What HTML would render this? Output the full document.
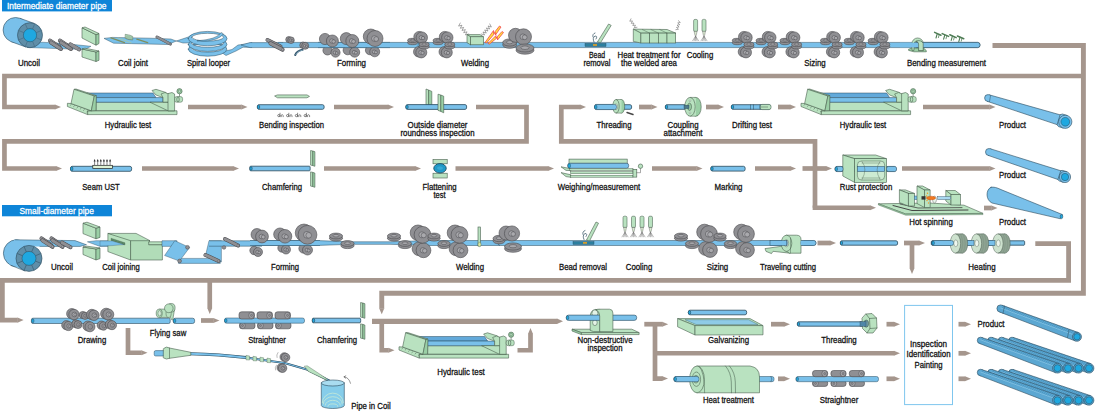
<!DOCTYPE html>
<html><head><meta charset="utf-8"><title>Pipe manufacturing process</title>
<style>
html,body{margin:0;padding:0;background:#fff;}
svg{display:block;font-family:"Liberation Sans",Arial,sans-serif;}
</style></head><body>
<svg width="1101" height="411" viewBox="0 0 1101 411">
<rect width="1101" height="411" fill="#fff"/>
<path d="M992.50,45.45 L1083.40,45.45 L1083.40,293.20 L381.75,293.20 L381.75,308.50" fill="none" stroke="#a5968d" stroke-width="4.9" stroke-linejoin="miter"/>
<polygon points="379.15,308.20 381.75,314.30 384.35,308.20" fill="#a5968d"/>
<path d="M1083.40,76.00 L4.45,76.00 L4.45,107.00 L55.20,107.00" fill="none" stroke="#a5968d" stroke-width="4.7" stroke-linejoin="miter"/>
<polygon points="54.90,104.50 61.00,107.00 54.90,109.50" fill="#a5968d"/>
<path d="M188.00,107.00 L241.70,107.00" fill="none" stroke="#a5968d" stroke-width="4.7" stroke-linejoin="miter"/>
<polygon points="241.40,104.50 247.50,107.00 241.40,109.50" fill="#a5968d"/>
<path d="M334.00,107.00 L388.20,107.00" fill="none" stroke="#a5968d" stroke-width="4.7" stroke-linejoin="miter"/>
<polygon points="387.90,104.50 394.00,107.00 387.90,109.50" fill="#a5968d"/>
<path d="M476.00,107.00 L526.50,107.00 L526.50,141.40 L4.45,141.40 L4.45,168.50 L56.20,168.50" fill="none" stroke="#a5968d" stroke-width="4.7" stroke-linejoin="miter"/>
<polygon points="55.90,166.00 62.00,168.50 55.90,171.00" fill="#a5968d"/>
<path d="M142.00,168.50 L233.20,168.50" fill="none" stroke="#a5968d" stroke-width="4.7" stroke-linejoin="miter"/>
<polygon points="232.90,166.00 239.00,168.50 232.90,171.00" fill="#a5968d"/>
<path d="M324.00,168.50 L415.20,168.50" fill="none" stroke="#a5968d" stroke-width="4.7" stroke-linejoin="miter"/>
<polygon points="414.90,166.00 421.00,168.50 414.90,171.00" fill="#a5968d"/>
<path d="M455.50,168.50 L548.20,168.50" fill="none" stroke="#a5968d" stroke-width="4.7" stroke-linejoin="miter"/>
<polygon points="547.90,166.00 554.00,168.50 547.90,171.00" fill="#a5968d"/>
<path d="M652.00,168.50 L696.70,168.50" fill="none" stroke="#a5968d" stroke-width="4.7" stroke-linejoin="miter"/>
<polygon points="696.40,166.00 702.50,168.50 696.40,171.00" fill="#a5968d"/>
<path d="M755.00,168.50 L790.20,168.50" fill="none" stroke="#a5968d" stroke-width="4.7" stroke-linejoin="miter"/>
<polygon points="789.90,166.00 796.00,168.50 789.90,171.00" fill="#a5968d"/>
<path d="M802.50,168.50 L826.20,168.50" fill="none" stroke="#a5968d" stroke-width="4.7" stroke-linejoin="miter"/>
<polygon points="825.90,166.00 832.00,168.50 825.90,171.00" fill="#a5968d"/>
<path d="M902.00,168.50 L989.70,168.50" fill="none" stroke="#a5968d" stroke-width="4.7" stroke-linejoin="miter"/>
<polygon points="989.40,166.00 995.50,168.50 989.40,171.00" fill="#a5968d"/>
<path d="M815.00,207.75 L815.00,141.40 L561.30,141.40 L561.30,107.00 L580.20,107.00" fill="none" stroke="#a5968d" stroke-width="4.7" stroke-linejoin="miter"/>
<polygon points="579.90,104.50 586.00,107.00 579.90,109.50" fill="#a5968d"/>
<path d="M815.00,205.50 L815.00,207.75 L870.20,207.75" fill="none" stroke="#a5968d" stroke-width="4.7" stroke-linejoin="miter"/>
<polygon points="869.90,205.25 876.00,207.75 869.90,210.25" fill="#a5968d"/>
<path d="M639.00,107.00 L651.70,107.00" fill="none" stroke="#a5968d" stroke-width="4.7" stroke-linejoin="miter"/>
<polygon points="651.40,104.50 657.50,107.00 651.40,109.50" fill="#a5968d"/>
<path d="M706.00,107.00 L718.20,107.00" fill="none" stroke="#a5968d" stroke-width="4.7" stroke-linejoin="miter"/>
<polygon points="717.90,104.50 724.00,107.00 717.90,109.50" fill="#a5968d"/>
<path d="M778.00,107.00 L790.20,107.00" fill="none" stroke="#a5968d" stroke-width="4.7" stroke-linejoin="miter"/>
<polygon points="789.90,104.50 796.00,107.00 789.90,109.50" fill="#a5968d"/>
<path d="M923.00,107.00 L989.70,107.00" fill="none" stroke="#a5968d" stroke-width="4.7" stroke-linejoin="miter"/>
<polygon points="989.40,104.50 995.50,107.00 989.40,109.50" fill="#a5968d"/>
<path d="M984.00,208.00 L991.70,208.00" fill="none" stroke="#a5968d" stroke-width="4.7" stroke-linejoin="miter"/>
<polygon points="991.40,205.50 997.50,208.00 991.40,210.50" fill="#a5968d"/>
<path d="M817.50,243.00 L830.20,243.00" fill="none" stroke="#a5968d" stroke-width="4.7" stroke-linejoin="miter"/>
<polygon points="829.90,240.50 836.00,243.00 829.90,245.50" fill="#a5968d"/>
<path d="M904.00,243.00 L919.20,243.00" fill="none" stroke="#a5968d" stroke-width="4.7" stroke-linejoin="miter"/>
<polygon points="918.90,240.50 925.00,243.00 918.90,245.50" fill="#a5968d"/>
<path d="M912.00,243.00 L912.00,268.20" fill="none" stroke="#a5968d" stroke-width="4.7" stroke-linejoin="miter"/>
<polygon points="909.50,267.90 912.00,274.00 914.50,267.90" fill="#a5968d"/>
<path d="M1035.30,243.60 L1068.60,243.60 L1068.60,280.40 L2.35,280.40 L2.35,320.10 L17.80,320.10" fill="none" stroke="#a5968d" stroke-width="4.8" stroke-linejoin="miter"/>
<polygon points="17.50,317.55 23.60,320.10 17.50,322.65" fill="#a5968d"/>
<path d="M209.75,280.40 L209.75,308.20" fill="none" stroke="#a5968d" stroke-width="4.7" stroke-linejoin="miter"/>
<polygon points="207.25,307.90 209.75,314.00 212.25,307.90" fill="#a5968d"/>
<path d="M201.00,320.50 L213.70,320.50" fill="none" stroke="#a5968d" stroke-width="4.7" stroke-linejoin="miter"/>
<polygon points="213.40,318.00 219.50,320.50 213.40,323.00" fill="#a5968d"/>
<path d="M372.00,321.30 L557.20,321.30" fill="none" stroke="#a5968d" stroke-width="5.3" stroke-linejoin="miter"/>
<polygon points="556.90,318.50 563.00,321.30 556.90,324.10" fill="#a5968d"/>
<path d="M381.75,321.00 L381.75,350.25 L388.70,350.25" fill="none" stroke="#a5968d" stroke-width="4.7" stroke-linejoin="miter"/>
<polygon points="388.40,347.75 394.50,350.25 388.40,352.75" fill="#a5968d"/>
<path d="M517.50,350.25 L530.50,350.25 L530.50,333.80" fill="none" stroke="#a5968d" stroke-width="4.7" stroke-linejoin="miter"/>
<polygon points="528.00,334.10 530.50,328.00 533.00,334.10" fill="#a5968d"/>
<path d="M128.00,328.00 L128.00,352.75 L141.70,352.75" fill="none" stroke="#a5968d" stroke-width="4.7" stroke-linejoin="miter"/>
<polygon points="141.40,350.25 147.50,352.75 141.40,355.25" fill="#a5968d"/>
<path d="M644.30,324.20 L662.40,324.20" fill="none" stroke="#a5968d" stroke-width="4.7" stroke-linejoin="miter"/>
<polygon points="662.10,321.70 668.20,324.20 662.10,326.70" fill="#a5968d"/>
<path d="M655.00,324.20 L655.00,378.60 L662.20,378.60" fill="none" stroke="#a5968d" stroke-width="4.7" stroke-linejoin="miter"/>
<polygon points="661.90,376.10 668.00,378.60 661.90,381.10" fill="#a5968d"/>
<path d="M655.00,353.25 L894.20,353.25" fill="none" stroke="#a5968d" stroke-width="4.7" stroke-linejoin="miter"/>
<polygon points="893.90,350.75 900.00,353.25 893.90,355.75" fill="#a5968d"/>
<path d="M771.00,324.20 L784.20,324.20" fill="none" stroke="#a5968d" stroke-width="4.7" stroke-linejoin="miter"/>
<polygon points="783.90,321.70 790.00,324.20 783.90,326.70" fill="#a5968d"/>
<path d="M778.00,378.80 L784.20,378.80" fill="none" stroke="#a5968d" stroke-width="4.7" stroke-linejoin="miter"/>
<polygon points="783.90,376.30 790.00,378.80 783.90,381.30" fill="#a5968d"/>
<path d="M886.50,324.20 L894.20,324.20" fill="none" stroke="#a5968d" stroke-width="4.7" stroke-linejoin="miter"/>
<polygon points="893.90,321.70 900.00,324.20 893.90,326.70" fill="#a5968d"/>
<path d="M886.50,378.80 L894.20,378.80" fill="none" stroke="#a5968d" stroke-width="4.7" stroke-linejoin="miter"/>
<polygon points="893.90,376.30 900.00,378.80 893.90,381.30" fill="#a5968d"/>
<path d="M958.50,324.20 L965.20,324.20" fill="none" stroke="#a5968d" stroke-width="4.7" stroke-linejoin="miter"/>
<polygon points="964.90,321.70 971.00,324.20 964.90,326.70" fill="#a5968d"/>
<path d="M958.50,353.30 L965.20,353.30" fill="none" stroke="#a5968d" stroke-width="4.7" stroke-linejoin="miter"/>
<polygon points="964.90,350.80 971.00,353.30 964.90,355.80" fill="#a5968d"/>
<path d="M958.50,378.80 L965.20,378.80" fill="none" stroke="#a5968d" stroke-width="4.7" stroke-linejoin="miter"/>
<polygon points="964.90,376.30 971.00,378.80 964.90,381.30" fill="#a5968d"/>
<rect x="2" y="0" width="110" height="11.4" fill="#0e85d8"/>
<text x="56.7" y="9.37" text-anchor="middle" font-size="8.4" fill="#fff" stroke="#fff" stroke-width="0.27" font-weight="normal" textLength="99.5" lengthAdjust="spacingAndGlyphs">Intermediate diameter pipe</text>
<rect x="2" y="205" width="110" height="11.3" fill="#0e85d8"/>
<text x="56.7" y="214.37" text-anchor="middle" font-size="8.4" fill="#fff" stroke="#fff" stroke-width="0.27" font-weight="normal" textLength="74.5" lengthAdjust="spacingAndGlyphs">Small-diameter pipe</text>
<rect x="904.6" y="305.4" width="47.9" height="99.2" fill="#fff" stroke="#7fc6ee" stroke-width="1"/>
<text x="928.5" y="347.17" text-anchor="middle" font-size="8.4" fill="#111" stroke="#111" stroke-width="0.27" font-weight="normal" textLength="37.0" lengthAdjust="spacingAndGlyphs">Inspection</text>
<text x="928.5" y="357.17" text-anchor="middle" font-size="8.4" fill="#111" stroke="#111" stroke-width="0.27" font-weight="normal" textLength="44.0" lengthAdjust="spacingAndGlyphs">Identification</text>
<text x="928.5" y="368.17" text-anchor="middle" font-size="8.4" fill="#111" stroke="#111" stroke-width="0.27" font-weight="normal" textLength="28.0" lengthAdjust="spacingAndGlyphs">Painting</text>
<text x="29" y="66.17" text-anchor="middle" font-size="8.4" fill="#111" stroke="#111" stroke-width="0.27" font-weight="normal" textLength="22.0" lengthAdjust="spacingAndGlyphs">Uncoil</text>
<text x="133" y="66.17" text-anchor="middle" font-size="8.4" fill="#111" stroke="#111" stroke-width="0.27" font-weight="normal" textLength="30.0" lengthAdjust="spacingAndGlyphs">Coil joint</text>
<text x="208.5" y="66.17" text-anchor="middle" font-size="8.4" fill="#111" stroke="#111" stroke-width="0.27" font-weight="normal" textLength="43.0" lengthAdjust="spacingAndGlyphs">Spiral looper</text>
<text x="351.5" y="66.17" text-anchor="middle" font-size="8.4" fill="#111" stroke="#111" stroke-width="0.27" font-weight="normal" textLength="29.0" lengthAdjust="spacingAndGlyphs">Forming</text>
<text x="475" y="66.17" text-anchor="middle" font-size="8.4" fill="#111" stroke="#111" stroke-width="0.27" font-weight="normal" textLength="28.0" lengthAdjust="spacingAndGlyphs">Welding</text>
<text x="597" y="57.67" text-anchor="middle" font-size="8.4" fill="#111" stroke="#111" stroke-width="0.27" font-weight="normal" textLength="16.0" lengthAdjust="spacingAndGlyphs">Bead</text>
<text x="597" y="66.17" text-anchor="middle" font-size="8.4" fill="#111" stroke="#111" stroke-width="0.27" font-weight="normal" textLength="27.0" lengthAdjust="spacingAndGlyphs">removal</text>
<text x="649" y="57.67" text-anchor="middle" font-size="8.4" fill="#111" stroke="#111" stroke-width="0.27" font-weight="normal" textLength="63.0" lengthAdjust="spacingAndGlyphs">Heat treatment for</text>
<text x="649" y="66.17" text-anchor="middle" font-size="8.4" fill="#111" stroke="#111" stroke-width="0.27" font-weight="normal" textLength="56.0" lengthAdjust="spacingAndGlyphs">the welded area</text>
<text x="700" y="57.67" text-anchor="middle" font-size="8.4" fill="#111" stroke="#111" stroke-width="0.27" font-weight="normal" textLength="26.5" lengthAdjust="spacingAndGlyphs">Cooling</text>
<text x="815" y="66.17" text-anchor="middle" font-size="8.4" fill="#111" stroke="#111" stroke-width="0.27" font-weight="normal" textLength="21.5" lengthAdjust="spacingAndGlyphs">Sizing</text>
<text x="946.5" y="66.17" text-anchor="middle" font-size="8.4" fill="#111" stroke="#111" stroke-width="0.27" font-weight="normal" textLength="79.0" lengthAdjust="spacingAndGlyphs">Bending measurement</text>
<text x="128" y="127.67" text-anchor="middle" font-size="8.4" fill="#111" stroke="#111" stroke-width="0.27" font-weight="normal" textLength="46.5" lengthAdjust="spacingAndGlyphs">Hydraulic test</text>
<text x="291.5" y="127.67" text-anchor="middle" font-size="8.4" fill="#111" stroke="#111" stroke-width="0.27" font-weight="normal" textLength="65.0" lengthAdjust="spacingAndGlyphs">Bending inspection</text>
<text x="437.5" y="127.67" text-anchor="middle" font-size="8.4" fill="#111" stroke="#111" stroke-width="0.27" font-weight="normal" textLength="60.0" lengthAdjust="spacingAndGlyphs">Outside diameter</text>
<text x="437.5" y="135.67" text-anchor="middle" font-size="8.4" fill="#111" stroke="#111" stroke-width="0.27" font-weight="normal" textLength="74.0" lengthAdjust="spacingAndGlyphs">roundness inspection</text>
<text x="614" y="127.67" text-anchor="middle" font-size="8.4" fill="#111" stroke="#111" stroke-width="0.27" font-weight="normal" textLength="35.0" lengthAdjust="spacingAndGlyphs">Threading</text>
<text x="683" y="127.67" text-anchor="middle" font-size="8.4" fill="#111" stroke="#111" stroke-width="0.27" font-weight="normal" textLength="31.0" lengthAdjust="spacingAndGlyphs">Coupling</text>
<text x="683" y="135.67" text-anchor="middle" font-size="8.4" fill="#111" stroke="#111" stroke-width="0.27" font-weight="normal" textLength="39.0" lengthAdjust="spacingAndGlyphs">attachment</text>
<text x="752" y="127.67" text-anchor="middle" font-size="8.4" fill="#111" stroke="#111" stroke-width="0.27" font-weight="normal" textLength="40.0" lengthAdjust="spacingAndGlyphs">Drifting test</text>
<text x="863" y="127.67" text-anchor="middle" font-size="8.4" fill="#111" stroke="#111" stroke-width="0.27" font-weight="normal" textLength="46.5" lengthAdjust="spacingAndGlyphs">Hydraulic test</text>
<text x="1012.5" y="127.67" text-anchor="middle" font-size="8.4" fill="#111" stroke="#111" stroke-width="0.27" font-weight="normal" textLength="27.0" lengthAdjust="spacingAndGlyphs">Product</text>
<text x="101" y="190.17" text-anchor="middle" font-size="8.4" fill="#111" stroke="#111" stroke-width="0.27" font-weight="normal" textLength="37.5" lengthAdjust="spacingAndGlyphs">Seam UST</text>
<text x="282" y="190.17" text-anchor="middle" font-size="8.4" fill="#111" stroke="#111" stroke-width="0.27" font-weight="normal" textLength="40.0" lengthAdjust="spacingAndGlyphs">Chamfering</text>
<text x="439.5" y="190.17" text-anchor="middle" font-size="8.4" fill="#111" stroke="#111" stroke-width="0.27" font-weight="normal" textLength="34.0" lengthAdjust="spacingAndGlyphs">Flattening</text>
<text x="439.5" y="197.67" text-anchor="middle" font-size="8.4" fill="#111" stroke="#111" stroke-width="0.27" font-weight="normal" textLength="12.0" lengthAdjust="spacingAndGlyphs">test</text>
<text x="599" y="190.17" text-anchor="middle" font-size="8.4" fill="#111" stroke="#111" stroke-width="0.27" font-weight="normal" textLength="82.5" lengthAdjust="spacingAndGlyphs">Weighing/measurement</text>
<text x="728.5" y="190.17" text-anchor="middle" font-size="8.4" fill="#111" stroke="#111" stroke-width="0.27" font-weight="normal" textLength="28.0" lengthAdjust="spacingAndGlyphs">Marking</text>
<text x="866" y="190.17" text-anchor="middle" font-size="8.4" fill="#111" stroke="#111" stroke-width="0.27" font-weight="normal" textLength="52.5" lengthAdjust="spacingAndGlyphs">Rust protection</text>
<text x="1012.5" y="178.17" text-anchor="middle" font-size="8.4" fill="#111" stroke="#111" stroke-width="0.27" font-weight="normal" textLength="27.0" lengthAdjust="spacingAndGlyphs">Product</text>
<text x="931" y="225.17" text-anchor="middle" font-size="8.4" fill="#111" stroke="#111" stroke-width="0.27" font-weight="normal" textLength="43.5" lengthAdjust="spacingAndGlyphs">Hot spinning</text>
<text x="1012.5" y="225.17" text-anchor="middle" font-size="8.4" fill="#111" stroke="#111" stroke-width="0.27" font-weight="normal" textLength="27.0" lengthAdjust="spacingAndGlyphs">Product</text>
<text x="62" y="270.17" text-anchor="middle" font-size="8.4" fill="#111" stroke="#111" stroke-width="0.27" font-weight="normal" textLength="22.0" lengthAdjust="spacingAndGlyphs">Uncoil</text>
<text x="121" y="270.17" text-anchor="middle" font-size="8.4" fill="#111" stroke="#111" stroke-width="0.27" font-weight="normal" textLength="37.5" lengthAdjust="spacingAndGlyphs">Coil joining</text>
<text x="285" y="270.17" text-anchor="middle" font-size="8.4" fill="#111" stroke="#111" stroke-width="0.27" font-weight="normal" textLength="28.0" lengthAdjust="spacingAndGlyphs">Forming</text>
<text x="470" y="270.17" text-anchor="middle" font-size="8.4" fill="#111" stroke="#111" stroke-width="0.27" font-weight="normal" textLength="28.0" lengthAdjust="spacingAndGlyphs">Welding</text>
<text x="583" y="270.17" text-anchor="middle" font-size="8.4" fill="#111" stroke="#111" stroke-width="0.27" font-weight="normal" textLength="48.0" lengthAdjust="spacingAndGlyphs">Bead removal</text>
<text x="639" y="270.17" text-anchor="middle" font-size="8.4" fill="#111" stroke="#111" stroke-width="0.27" font-weight="normal" textLength="26.5" lengthAdjust="spacingAndGlyphs">Cooling</text>
<text x="717.5" y="270.17" text-anchor="middle" font-size="8.4" fill="#111" stroke="#111" stroke-width="0.27" font-weight="normal" textLength="21.5" lengthAdjust="spacingAndGlyphs">Sizing</text>
<text x="788" y="270.17" text-anchor="middle" font-size="8.4" fill="#111" stroke="#111" stroke-width="0.27" font-weight="normal" textLength="56.0" lengthAdjust="spacingAndGlyphs">Traveling cutting</text>
<text x="982" y="270.17" text-anchor="middle" font-size="8.4" fill="#111" stroke="#111" stroke-width="0.27" font-weight="normal" textLength="27.5" lengthAdjust="spacingAndGlyphs">Heating</text>
<text x="92" y="343.17" text-anchor="middle" font-size="8.4" fill="#111" stroke="#111" stroke-width="0.27" font-weight="normal" textLength="28.5" lengthAdjust="spacingAndGlyphs">Drawing</text>
<text x="168" y="336.17" text-anchor="middle" font-size="8.4" fill="#111" stroke="#111" stroke-width="0.27" font-weight="normal" textLength="36.5" lengthAdjust="spacingAndGlyphs">Flying saw</text>
<text x="267" y="343.17" text-anchor="middle" font-size="8.4" fill="#111" stroke="#111" stroke-width="0.27" font-weight="normal" textLength="37.5" lengthAdjust="spacingAndGlyphs">Straightner</text>
<text x="337" y="343.17" text-anchor="middle" font-size="8.4" fill="#111" stroke="#111" stroke-width="0.27" font-weight="normal" textLength="40.0" lengthAdjust="spacingAndGlyphs">Chamfering</text>
<text x="461" y="375.17" text-anchor="middle" font-size="8.4" fill="#111" stroke="#111" stroke-width="0.27" font-weight="normal" textLength="47.5" lengthAdjust="spacingAndGlyphs">Hydraulic test</text>
<text x="605" y="343.17" text-anchor="middle" font-size="8.4" fill="#111" stroke="#111" stroke-width="0.27" font-weight="normal" textLength="55.0" lengthAdjust="spacingAndGlyphs">Non-destructive</text>
<text x="605" y="350.67" text-anchor="middle" font-size="8.4" fill="#111" stroke="#111" stroke-width="0.27" font-weight="normal" textLength="35.0" lengthAdjust="spacingAndGlyphs">inspection</text>
<text x="728.5" y="343.17" text-anchor="middle" font-size="8.4" fill="#111" stroke="#111" stroke-width="0.27" font-weight="normal" textLength="41.0" lengthAdjust="spacingAndGlyphs">Galvanizing</text>
<text x="839" y="343.17" text-anchor="middle" font-size="8.4" fill="#111" stroke="#111" stroke-width="0.27" font-weight="normal" textLength="35.5" lengthAdjust="spacingAndGlyphs">Threading</text>
<text x="728.5" y="403.17" text-anchor="middle" font-size="8.4" fill="#111" stroke="#111" stroke-width="0.27" font-weight="normal" textLength="51.0" lengthAdjust="spacingAndGlyphs">Heat treatment</text>
<text x="839" y="403.17" text-anchor="middle" font-size="8.4" fill="#111" stroke="#111" stroke-width="0.27" font-weight="normal" textLength="38.5" lengthAdjust="spacingAndGlyphs">Straightner</text>
<text x="991" y="327.17" text-anchor="middle" font-size="8.4" fill="#111" stroke="#111" stroke-width="0.27" font-weight="normal" textLength="27.0" lengthAdjust="spacingAndGlyphs">Product</text>
<text x="371" y="408.67" text-anchor="middle" font-size="8.4" fill="#111" stroke="#111" stroke-width="0.27" font-weight="normal" textLength="39.5" lengthAdjust="spacingAndGlyphs">Pipe in Coil</text>
<polygon points="38.00,42.00 62.00,43.30 91.00,46.30 85.00,49.50 27.00,47.50" fill="#79c0ea" stroke="#2b4a5c" stroke-width="0.4" stroke-linejoin="round"/>
<ellipse cx="15.60" cy="30.00" rx="12.50" ry="12.50" fill="#79c0ea" stroke="#2b4a5c" stroke-width="0.6"/>
<polygon points="11.35,41.76 25.75,46.96 34.25,23.44 19.85,18.24" fill="#79c0ea"/>
<line x1="11.35" y1="41.76" x2="25.75" y2="46.96" stroke="#2b4a5c" stroke-width="0.6"/>
<line x1="19.85" y1="18.24" x2="34.25" y2="23.44" stroke="#2b4a5c" stroke-width="0.6"/>
<ellipse cx="30.00" cy="35.20" rx="12.50" ry="12.50" fill="#5f8ea8" stroke="#2b4a5c" stroke-width="0.6"/>
<line x1="36.35" y1="37.83" x2="41.55" y2="39.98" stroke="#3f6880" stroke-width="0.6"/>
<line x1="32.63" y1="41.55" x2="34.78" y2="46.75" stroke="#3f6880" stroke-width="0.6"/>
<line x1="27.37" y1="41.55" x2="25.22" y2="46.75" stroke="#3f6880" stroke-width="0.6"/>
<line x1="23.65" y1="37.83" x2="18.45" y2="39.98" stroke="#3f6880" stroke-width="0.6"/>
<line x1="23.65" y1="32.57" x2="18.45" y2="30.42" stroke="#3f6880" stroke-width="0.6"/>
<line x1="27.37" y1="28.85" x2="25.22" y2="23.65" stroke="#3f6880" stroke-width="0.6"/>
<line x1="32.63" y1="28.85" x2="34.78" y2="23.65" stroke="#3f6880" stroke-width="0.6"/>
<line x1="36.35" y1="32.57" x2="41.55" y2="30.42" stroke="#3f6880" stroke-width="0.6"/>
<ellipse cx="30.00" cy="35.20" rx="6.62" ry="6.62" fill="#1fa8e0" stroke="#2b4a5c" stroke-width="0.5"/>
<line x1="50" y1="40.6" x2="59.5" y2="47" stroke="#4a4a4e" stroke-width="4.0" stroke-linecap="round"/>
<line x1="50" y1="40.6" x2="59.5" y2="47" stroke="#8f8f93" stroke-width="3.0" stroke-linecap="round"/>
<ellipse cx="59.50" cy="47.00" rx="0.96" ry="1.26" fill="#a9a9ad" stroke="#4a4a4e" stroke-width="0.4"/>
<line x1="51" y1="42.6" x2="61" y2="49" stroke="#4a4a4e" stroke-width="4.0" stroke-linecap="round"/>
<line x1="51" y1="42.6" x2="61" y2="49" stroke="#8f8f93" stroke-width="3.0" stroke-linecap="round"/>
<ellipse cx="61.00" cy="49.00" rx="0.96" ry="1.26" fill="#a9a9ad" stroke="#4a4a4e" stroke-width="0.4"/>
<line x1="60" y1="40.6" x2="69.5" y2="47" stroke="#4a4a4e" stroke-width="4.0" stroke-linecap="round"/>
<line x1="60" y1="40.6" x2="69.5" y2="47" stroke="#8f8f93" stroke-width="3.0" stroke-linecap="round"/>
<ellipse cx="69.50" cy="47.00" rx="0.96" ry="1.26" fill="#a9a9ad" stroke="#4a4a4e" stroke-width="0.4"/>
<line x1="61" y1="42.6" x2="71" y2="49" stroke="#4a4a4e" stroke-width="4.0" stroke-linecap="round"/>
<line x1="61" y1="42.6" x2="71" y2="49" stroke="#8f8f93" stroke-width="3.0" stroke-linecap="round"/>
<ellipse cx="71.00" cy="49.00" rx="0.96" ry="1.26" fill="#a9a9ad" stroke="#4a4a4e" stroke-width="0.4"/>
<line x1="70.5" y1="44.4" x2="79" y2="49.4" stroke="#4a4a4e" stroke-width="4.0" stroke-linecap="round"/>
<line x1="70.5" y1="44.4" x2="79" y2="49.4" stroke="#8f8f93" stroke-width="3.0" stroke-linecap="round"/>
<ellipse cx="79.00" cy="49.40" rx="0.96" ry="1.26" fill="#a9a9ad" stroke="#4a4a4e" stroke-width="0.4"/>
<polygon points="82.00,27.80 96.00,34.60 96.00,45.20 82.00,38.00" fill="#b9e2c0" stroke="#48604e" stroke-width="0.6" stroke-linejoin="round"/>
<polygon points="96.00,34.60 99.00,33.50 99.00,43.50 96.00,45.20" fill="#9acfa5" stroke="#48604e" stroke-width="0.6" stroke-linejoin="round"/>
<polygon points="82.00,27.80 85.00,27.00 99.00,33.50 96.00,34.60" fill="#b9e2c0" stroke="#48604e" stroke-width="0.6" stroke-linejoin="round"/>
<polygon points="82.00,49.00 96.00,52.00 96.00,61.50 82.00,57.00" fill="#b9e2c0" stroke="#48604e" stroke-width="0.6" stroke-linejoin="round"/>
<polygon points="96.00,52.00 99.00,51.00 99.00,60.30 96.00,61.50" fill="#9acfa5" stroke="#48604e" stroke-width="0.6" stroke-linejoin="round"/>
<polygon points="82.00,49.00 85.00,48.20 99.00,51.00 96.00,52.00" fill="#b9e2c0" stroke="#48604e" stroke-width="0.6" stroke-linejoin="round"/>
<polygon points="104.00,38.40 112.30,37.40 150.00,38.20 170.80,39.00 176.30,41.00 168.00,44.50 113.60,43.20" fill="#79c0ea" stroke="#2b4a5c" stroke-width="0.45" stroke-linejoin="round"/>
<polyline points="111.00,37.90 124.50,42.60" fill="none" stroke="#7f8f5f" stroke-width="1.3" stroke-linecap="round" stroke-linejoin="round"/>
<polyline points="136.80,39.20 147.70,42.60" fill="none" stroke="#7f8f5f" stroke-width="1.3" stroke-linecap="round" stroke-linejoin="round"/>
<polyline points="118.00,38.00 131.00,42.70" fill="none" stroke="#a9c9a0" stroke-width="0.8" stroke-linecap="round" stroke-linejoin="round"/>
<polygon points="125.20,34.30 130.00,35.20 132.70,36.40 132.70,40.00 128.00,39.40 125.20,38.20" fill="#b9e2c0" stroke="#48604e" stroke-width="0.45" stroke-linejoin="round"/>
<line x1="127" y1="35.4" x2="127" y2="39.199999999999996" stroke="#48604e" stroke-width="0.45"/>
<line x1="129" y1="35.8" x2="129" y2="39.599999999999994" stroke="#48604e" stroke-width="0.45"/>
<line x1="131" y1="36.2" x2="131" y2="40.0" stroke="#48604e" stroke-width="0.45"/>
<line x1="157" y1="37" x2="170.3" y2="44" stroke="#4a4a4e" stroke-width="3.0" stroke-linecap="round"/>
<line x1="157" y1="37" x2="170.3" y2="44" stroke="#8f8f93" stroke-width="2.0" stroke-linecap="round"/>
<ellipse cx="170.30" cy="44.00" rx="0.64" ry="0.84" fill="#a9a9ad" stroke="#4a4a4e" stroke-width="0.4"/>
<polygon points="176.30,41.00 189.00,36.80 192.00,38.00 191.00,42.80 183.00,43.00" fill="#79c0ea" stroke="#2b4a5c" stroke-width="0.45" stroke-linejoin="round"/>
<polygon points="221.00,52.00 232.00,49.50 238.00,45.00 246.00,44.00 252.00,42.60 252.00,47.40 243.00,47.20 236.00,51.00 226.00,55.50" fill="#79c0ea" stroke="#2b4a5c" stroke-width="0.45" stroke-linejoin="round"/>
<path d="M188.29999999999998,49.2 A19.3,7.0 0 1 1 226.9,49.2 A19.3,7.0 0 1 1 188.29999999999998,49.2Z M191.29999999999998,47.7 A16.3,4.4 0 1 0 223.9,47.7 A16.3,4.4 0 1 0 191.29999999999998,47.7Z" fill="#79c0ea" stroke="#2b4a5c" stroke-width="0.5" stroke-linecap="round" stroke-linejoin="round" fill-rule="evenodd"/>
<path d="M188.2,44.4 A19.4,7.0 0 1 1 227.0,44.4 A19.4,7.0 0 1 1 188.2,44.4Z M191.29999999999998,42.9 A16.3,4.4 0 1 0 223.9,42.9 A16.3,4.4 0 1 0 191.29999999999998,42.9Z" fill="#79c0ea" stroke="#2b4a5c" stroke-width="0.5" stroke-linecap="round" stroke-linejoin="round" fill-rule="evenodd"/>
<ellipse cx="207.30" cy="37.40" rx="16.00" ry="4.00" fill="#fff"/>
<path d="M188.1,38.6 A19.5,7.2 0 1 1 227.1,38.6 A19.5,7.2 0 1 1 188.1,38.6Z M191.7,37.2 A15.9,3.9 0 1 0 223.5,37.2 A15.9,3.9 0 1 0 191.7,37.2Z" fill="#79c0ea" stroke="#2b4a5c" stroke-width="0.5" stroke-linecap="round" stroke-linejoin="round" fill-rule="evenodd"/>
<path d="M221,32.8 Q217,39.5 197,40.8 L203,41.2 Q219,40.5 223.2,34.2 Z" fill="#79c0ea" stroke="#2b4a5c" stroke-width="0.45" stroke-linecap="round" stroke-linejoin="round"/>
<polygon points="241.00,45.00 250.00,42.60 283.00,42.60 283.00,47.60 250.00,47.60" fill="#79c0ea" stroke="#2b4a5c" stroke-width="0.45" stroke-linejoin="round"/>
<rect x="278" y="42.4" width="142" height="5.2" fill="#79c0ea"/>
<line x1="278" y1="42.4" x2="420" y2="42.4" stroke="#2b4a5c" stroke-width="0.5"/><line x1="278" y1="47.6" x2="420" y2="47.6" stroke="#2b4a5c" stroke-width="0.5"/>
<rect x="418.00" y="42.40" width="562.00" height="5.20" rx="2.4" fill="#79c0ea" stroke="#2b4a5c" stroke-width="0.5"/>
<line x1="267.5" y1="40" x2="280.5" y2="46.6" stroke="#4a4a4e" stroke-width="4.0" stroke-linecap="round"/>
<line x1="267.5" y1="40" x2="280.5" y2="46.6" stroke="#8f8f93" stroke-width="3.0" stroke-linecap="round"/>
<ellipse cx="280.50" cy="46.60" rx="0.96" ry="1.26" fill="#a9a9ad" stroke="#4a4a4e" stroke-width="0.4"/>
<line x1="270.5" y1="43.4" x2="282.6" y2="49.6" stroke="#4a4a4e" stroke-width="4.0" stroke-linecap="round"/>
<line x1="270.5" y1="43.4" x2="282.6" y2="49.6" stroke="#8f8f93" stroke-width="3.0" stroke-linecap="round"/>
<ellipse cx="282.60" cy="49.60" rx="0.96" ry="1.26" fill="#a9a9ad" stroke="#4a4a4e" stroke-width="0.4"/>
<circle cx="288.8" cy="39.6" r="3.069" fill="#8f8f93" stroke="#4a4a4e" stroke-width="0.6"/>
<circle cx="291" cy="40.2" r="3.3" fill="#8f8f93" stroke="#4a4a4e" stroke-width="0.6"/>
<circle cx="290.4" cy="40.2" r="1.188" fill="#a9a9ad" stroke="#4a4a4e" stroke-width="0.5"/>
<circle cx="292.2" cy="40.7" r="0.9899999999999999" fill="#a9a9ad" stroke="#4a4a4e" stroke-width="0.5"/>
<circle cx="303.0" cy="45.199999999999996" r="3.2550000000000003" fill="#8f8f93" stroke="#4a4a4e" stroke-width="0.6"/>
<circle cx="305.2" cy="45.8" r="3.5" fill="#8f8f93" stroke="#4a4a4e" stroke-width="0.6"/>
<circle cx="304.59999999999997" cy="45.8" r="1.26" fill="#a9a9ad" stroke="#4a4a4e" stroke-width="0.5"/>
<circle cx="306.4" cy="46.3" r="1.05" fill="#a9a9ad" stroke="#4a4a4e" stroke-width="0.5"/>
<path d="M302.6,49.8 Q297.2,50.6 295.2,55" fill="none" stroke="#35566c" stroke-width="2.0" stroke-linecap="round" stroke-linejoin="round"/>
<path d="M302.2,50.2 Q297.6,51 295.7,54.6" fill="none" stroke="#9cc4d8" stroke-width="0.7" stroke-linecap="round" stroke-linejoin="round"/>
<circle cx="327.5" cy="50.4" r="4.6" fill="#8f8f93" stroke="#4a4a4e" stroke-width="0.6"/>
<circle cx="335.5" cy="52.6" r="4.6" fill="#8f8f93" stroke="#4a4a4e" stroke-width="0.6"/>
<circle cx="334.9" cy="52.6" r="1.656" fill="#a9a9ad" stroke="#4a4a4e" stroke-width="0.5"/>
<circle cx="336.7" cy="53.1" r="1.38" fill="#a9a9ad" stroke="#4a4a4e" stroke-width="0.5"/>
<circle cx="347.7" cy="50.2" r="4.6" fill="#8f8f93" stroke="#4a4a4e" stroke-width="0.6"/>
<circle cx="354.7" cy="52.2" r="5" fill="#8f8f93" stroke="#4a4a4e" stroke-width="0.6"/>
<circle cx="354.09999999999997" cy="52.2" r="1.7999999999999998" fill="#a9a9ad" stroke="#4a4a4e" stroke-width="0.5"/>
<circle cx="355.9" cy="52.7" r="1.5" fill="#a9a9ad" stroke="#4a4a4e" stroke-width="0.5"/>
<circle cx="370.0" cy="50.199999999999996" r="4.6" fill="#8f8f93" stroke="#4a4a4e" stroke-width="0.6"/>
<circle cx="374.7" cy="51.8" r="5" fill="#8f8f93" stroke="#4a4a4e" stroke-width="0.6"/>
<circle cx="374.09999999999997" cy="51.8" r="1.7999999999999998" fill="#a9a9ad" stroke="#4a4a4e" stroke-width="0.5"/>
<circle cx="375.9" cy="52.3" r="1.5" fill="#a9a9ad" stroke="#4a4a4e" stroke-width="0.5"/>
<rect x="318" y="42.4" width="72" height="5.2" fill="#79c0ea"/>
<line x1="318" y1="42.4" x2="390" y2="42.4" stroke="#2b4a5c" stroke-width="0.5"/><line x1="318" y1="47.6" x2="390" y2="47.6" stroke="#2b4a5c" stroke-width="0.5"/>
<circle cx="325.0" cy="39" r="5.6" fill="#8f8f93" stroke="#4a4a4e" stroke-width="0.6"/>
<circle cx="332.4" cy="41" r="6" fill="#8f8f93" stroke="#4a4a4e" stroke-width="0.6"/>
<circle cx="331.79999999999995" cy="41" r="2.16" fill="#a9a9ad" stroke="#4a4a4e" stroke-width="0.5"/>
<circle cx="333.59999999999997" cy="41.5" r="1.7999999999999998" fill="#a9a9ad" stroke="#4a4a4e" stroke-width="0.5"/>
<circle cx="346.3" cy="38.6" r="6" fill="#8f8f93" stroke="#4a4a4e" stroke-width="0.6"/>
<circle cx="352.3" cy="41" r="6.5" fill="#8f8f93" stroke="#4a4a4e" stroke-width="0.6"/>
<circle cx="351.7" cy="41" r="2.34" fill="#a9a9ad" stroke="#4a4a4e" stroke-width="0.5"/>
<circle cx="353.5" cy="41.5" r="1.95" fill="#a9a9ad" stroke="#4a4a4e" stroke-width="0.5"/>
<circle cx="370.8" cy="36.5" r="7.5" fill="#8f8f93" stroke="#4a4a4e" stroke-width="0.6"/>
<circle cx="375" cy="38.5" r="8" fill="#8f8f93" stroke="#4a4a4e" stroke-width="0.6"/>
<circle cx="374.4" cy="38.5" r="2.88" fill="#a9a9ad" stroke="#4a4a4e" stroke-width="0.5"/>
<circle cx="376.2" cy="39.0" r="2.4" fill="#a9a9ad" stroke="#4a4a4e" stroke-width="0.5"/>
<ellipse cx="412.6" cy="42.6" rx="5" ry="2.1" fill="#8f8f93" stroke="#4a4a4e" stroke-width="0.6"/>
<ellipse cx="412.6" cy="40.4" rx="5" ry="2.1" fill="#8f8f93" stroke="#4a4a4e" stroke-width="0.6"/>
<ellipse cx="412.6" cy="40.1" rx="2.25" ry="0.9450000000000001" fill="#a9a9ad" stroke="#4a4a4e" stroke-width="0.5"/>
<circle cx="419.2" cy="36.800000000000004" r="5.4" fill="#8f8f93" stroke="#4a4a4e" stroke-width="0.6"/>
<circle cx="421.8" cy="37.6" r="5.7" fill="#8f8f93" stroke="#4a4a4e" stroke-width="0.6"/>
<circle cx="421.2" cy="37.6" r="2.052" fill="#a9a9ad" stroke="#4a4a4e" stroke-width="0.5"/>
<circle cx="423.0" cy="38.1" r="1.71" fill="#a9a9ad" stroke="#4a4a4e" stroke-width="0.5"/>
<circle cx="418.7" cy="51.8" r="5.2" fill="#8f8f93" stroke="#4a4a4e" stroke-width="0.6"/>
<circle cx="421.3" cy="52.4" r="5.5" fill="#8f8f93" stroke="#4a4a4e" stroke-width="0.6"/>
<circle cx="420.7" cy="52.4" r="1.98" fill="#a9a9ad" stroke="#4a4a4e" stroke-width="0.5"/>
<circle cx="422.5" cy="52.9" r="1.65" fill="#a9a9ad" stroke="#4a4a4e" stroke-width="0.5"/>
<ellipse cx="424.2" cy="46.6" rx="5" ry="2.3" fill="#8f8f93" stroke="#4a4a4e" stroke-width="0.6"/>
<ellipse cx="424.2" cy="44.4" rx="5" ry="2.3" fill="#8f8f93" stroke="#4a4a4e" stroke-width="0.6"/>
<ellipse cx="424.2" cy="44.1" rx="2.25" ry="1.035" fill="#a9a9ad" stroke="#4a4a4e" stroke-width="0.5"/>
<ellipse cx="438.1" cy="42.6" rx="5" ry="2.1" fill="#8f8f93" stroke="#4a4a4e" stroke-width="0.6"/>
<ellipse cx="438.1" cy="40.4" rx="5" ry="2.1" fill="#8f8f93" stroke="#4a4a4e" stroke-width="0.6"/>
<ellipse cx="438.1" cy="40.1" rx="2.25" ry="0.9450000000000001" fill="#a9a9ad" stroke="#4a4a4e" stroke-width="0.5"/>
<circle cx="444.7" cy="36.800000000000004" r="5.4" fill="#8f8f93" stroke="#4a4a4e" stroke-width="0.6"/>
<circle cx="447.3" cy="37.6" r="5.7" fill="#8f8f93" stroke="#4a4a4e" stroke-width="0.6"/>
<circle cx="446.7" cy="37.6" r="2.052" fill="#a9a9ad" stroke="#4a4a4e" stroke-width="0.5"/>
<circle cx="448.5" cy="38.1" r="1.71" fill="#a9a9ad" stroke="#4a4a4e" stroke-width="0.5"/>
<circle cx="444.2" cy="51.8" r="5.2" fill="#8f8f93" stroke="#4a4a4e" stroke-width="0.6"/>
<circle cx="446.8" cy="52.4" r="5.5" fill="#8f8f93" stroke="#4a4a4e" stroke-width="0.6"/>
<circle cx="446.2" cy="52.4" r="1.98" fill="#a9a9ad" stroke="#4a4a4e" stroke-width="0.5"/>
<circle cx="448.0" cy="52.9" r="1.65" fill="#a9a9ad" stroke="#4a4a4e" stroke-width="0.5"/>
<ellipse cx="449.7" cy="46.6" rx="5" ry="2.3" fill="#8f8f93" stroke="#4a4a4e" stroke-width="0.6"/>
<ellipse cx="449.7" cy="44.4" rx="5" ry="2.3" fill="#8f8f93" stroke="#4a4a4e" stroke-width="0.6"/>
<ellipse cx="449.7" cy="44.1" rx="2.25" ry="1.035" fill="#a9a9ad" stroke="#4a4a4e" stroke-width="0.5"/>
<polyline points="460.27,23.02 458.58,26.08 461.97,25.22 460.28,28.28 463.67,27.42 461.98,30.48 465.37,29.62 463.68,32.68 467.07,31.82 465.38,34.88 468.77,34.02" fill="none" stroke="#555" stroke-width="0.5" stroke-linecap="round" stroke-linejoin="round"/>
<polyline points="481.28,33.96 484.57,35.04 482.98,31.96 486.27,33.04 484.68,29.96 487.97,31.04 486.38,27.96 489.67,29.04 488.08,25.96 491.37,27.04 489.78,23.96" fill="none" stroke="#555" stroke-width="0.5" stroke-linecap="round" stroke-linejoin="round"/>
<polygon points="467.00,34.60 480.00,34.60 483.60,36.80 470.50,36.80" fill="#b9e2c0" stroke="#48604e" stroke-width="0.6" stroke-linejoin="round"/>
<polygon points="467.00,34.60 470.50,36.80 470.50,44.80 467.00,42.60" fill="#b9e2c0" stroke="#48604e" stroke-width="0.6" stroke-linejoin="round"/>
<rect x="470.50" y="36.80" width="13.10" height="8.00" rx="0" fill="#b9e2c0" stroke="#48604e" stroke-width="0.6"/>
<polygon points="485.00,42.50 493.50,30.50 493.50,33.50 499.50,26.00 501.00,27.00 495.50,35.00 495.50,32.50 486.50,43.00" fill="#ffe23a" stroke="#f0304a" stroke-width="0.7" stroke-linejoin="round"/>
<polygon points="488.00,43.50 496.00,35.50 496.00,38.00 502.00,31.50 503.50,32.50 497.50,40.00 497.50,37.50 489.50,44.00" fill="#ffe23a" stroke="#f0304a" stroke-width="0.7" stroke-linejoin="round"/>
<ellipse cx="509.7" cy="44.7" rx="7" ry="3.6" fill="#8f8f93" stroke="#4a4a4e" stroke-width="0.6"/>
<ellipse cx="509.7" cy="42.5" rx="7" ry="3.6" fill="#8f8f93" stroke="#4a4a4e" stroke-width="0.6"/>
<ellipse cx="509.7" cy="42.2" rx="3.15" ry="1.62" fill="#a9a9ad" stroke="#4a4a4e" stroke-width="0.5"/>
<circle cx="515.5" cy="35.3" r="7" fill="#8f8f93" stroke="#4a4a4e" stroke-width="0.6"/>
<circle cx="523.5" cy="36.8" r="8" fill="#8f8f93" stroke="#4a4a4e" stroke-width="0.6"/>
<circle cx="522.9" cy="36.8" r="2.88" fill="#a9a9ad" stroke="#4a4a4e" stroke-width="0.5"/>
<circle cx="524.7" cy="37.3" r="2.4" fill="#a9a9ad" stroke="#4a4a4e" stroke-width="0.5"/>
<ellipse cx="525" cy="50.2" rx="9" ry="4" fill="#8f8f93" stroke="#4a4a4e" stroke-width="0.6"/>
<ellipse cx="525" cy="48" rx="9" ry="4" fill="#8f8f93" stroke="#4a4a4e" stroke-width="0.6"/>
<ellipse cx="525" cy="47.7" rx="4.05" ry="1.8" fill="#a9a9ad" stroke="#4a4a4e" stroke-width="0.5"/>
<rect x="585.00" y="43.40" width="21.00" height="3.10" rx="0" fill="#2b7f9f" stroke="#2b4a5c" stroke-width="0.4"/>
<rect x="593.00" y="44.20" width="4.00" height="1.60" rx="0" fill="#e8a020"/>
<polygon points="597.40,42.00 608.60,24.00 611.20,25.40 600.60,42.60" fill="#b9e2c0" stroke="#48604e" stroke-width="0.6" stroke-linejoin="round"/>
<path d="M594,42 q-2,-4 1,-6 q3,0 1,3 M593,37 q-1,-3 2,-4" fill="none" stroke="#2b4a5c" stroke-width="0.7" stroke-linecap="round" stroke-linejoin="round"/>
<polygon points="633.30,29.10 667.10,29.50 675.70,33.10 640.90,33.10" fill="#b9e2c0" stroke="#48604e" stroke-width="0.6" stroke-linejoin="round"/>
<polygon points="633.30,29.10 640.90,33.10 640.90,43.00 633.30,41.40" fill="#b9e2c0" stroke="#48604e" stroke-width="0.6" stroke-linejoin="round"/>
<rect x="640.90" y="33.10" width="8.70" height="9.90" rx="0" fill="#b9e2c0" stroke="#48604e" stroke-width="0.6"/>
<rect x="649.60" y="33.10" width="8.70" height="9.90" rx="0" fill="#b9e2c0" stroke="#48604e" stroke-width="0.6"/>
<line x1="649.6" y1="33.1" x2="642.0" y2="29.400000000000002" stroke="#48604e" stroke-width="0.45"/>
<rect x="658.30" y="33.10" width="8.70" height="9.90" rx="0" fill="#b9e2c0" stroke="#48604e" stroke-width="0.6"/>
<line x1="658.3" y1="33.1" x2="650.6999999999999" y2="29.400000000000002" stroke="#48604e" stroke-width="0.45"/>
<rect x="667.00" y="33.10" width="8.70" height="9.90" rx="0" fill="#b9e2c0" stroke="#48604e" stroke-width="0.6"/>
<line x1="667.0" y1="33.1" x2="659.4" y2="29.400000000000002" stroke="#48604e" stroke-width="0.45"/>
<polyline points="630.98,18.81 629.77,21.25 632.48,20.93 631.27,23.38 633.98,23.06 632.77,25.50 635.48,25.18 634.27,27.63 636.98,27.31" fill="none" stroke="#555" stroke-width="0.5" stroke-linecap="round" stroke-linejoin="round"/>
<polyline points="675.84,29.68 678.47,29.20 676.47,27.43 679.09,26.95 677.09,25.18 679.72,24.70 677.72,22.93 680.34,22.45 678.34,20.68" fill="none" stroke="#555" stroke-width="0.5" stroke-linecap="round" stroke-linejoin="round"/>
<rect x="693.60" y="19.40" width="4.00" height="12.20" rx="1.4" fill="#b9e2c0" stroke="#48604e" stroke-width="0.55"/>
<path d="M694.2,31.599999999999998 L695.0,35.599999999999994 L696.2,35.599999999999994 L697.0,31.599999999999998 Z" fill="#d9ead0" stroke="#555" stroke-width="0.4" stroke-linecap="round" stroke-linejoin="round"/>
<line x1="695.6" y1="36.099999999999994" x2="692.4" y2="41.099999999999994" stroke="#666" stroke-width="0.45"/>
<line x1="695.6" y1="36.099999999999994" x2="694.0" y2="41.099999999999994" stroke="#666" stroke-width="0.45"/>
<line x1="695.6" y1="36.099999999999994" x2="695.6" y2="41.099999999999994" stroke="#666" stroke-width="0.45"/>
<line x1="695.6" y1="36.099999999999994" x2="697.2" y2="41.099999999999994" stroke="#666" stroke-width="0.45"/>
<line x1="695.6" y1="36.099999999999994" x2="698.8000000000001" y2="41.099999999999994" stroke="#666" stroke-width="0.45"/>
<rect x="702.00" y="19.40" width="4.00" height="12.20" rx="1.4" fill="#b9e2c0" stroke="#48604e" stroke-width="0.55"/>
<path d="M702.6,31.599999999999998 L703.4,35.599999999999994 L704.6,35.599999999999994 L705.4,31.599999999999998 Z" fill="#d9ead0" stroke="#555" stroke-width="0.4" stroke-linecap="round" stroke-linejoin="round"/>
<line x1="704" y1="36.099999999999994" x2="700.8" y2="41.099999999999994" stroke="#666" stroke-width="0.45"/>
<line x1="704" y1="36.099999999999994" x2="702.4" y2="41.099999999999994" stroke="#666" stroke-width="0.45"/>
<line x1="704" y1="36.099999999999994" x2="704" y2="41.099999999999994" stroke="#666" stroke-width="0.45"/>
<line x1="704" y1="36.099999999999994" x2="705.6" y2="41.099999999999994" stroke="#666" stroke-width="0.45"/>
<line x1="704" y1="36.099999999999994" x2="707.2" y2="41.099999999999994" stroke="#666" stroke-width="0.45"/>
<ellipse cx="737.3" cy="42.6" rx="5" ry="2.1" fill="#8f8f93" stroke="#4a4a4e" stroke-width="0.6"/>
<ellipse cx="737.3" cy="40.4" rx="5" ry="2.1" fill="#8f8f93" stroke="#4a4a4e" stroke-width="0.6"/>
<ellipse cx="737.3" cy="40.1" rx="2.25" ry="0.9450000000000001" fill="#a9a9ad" stroke="#4a4a4e" stroke-width="0.5"/>
<circle cx="743.9" cy="36.800000000000004" r="5.4" fill="#8f8f93" stroke="#4a4a4e" stroke-width="0.6"/>
<circle cx="746.5" cy="37.6" r="5.7" fill="#8f8f93" stroke="#4a4a4e" stroke-width="0.6"/>
<circle cx="745.9" cy="37.6" r="2.052" fill="#a9a9ad" stroke="#4a4a4e" stroke-width="0.5"/>
<circle cx="747.7" cy="38.1" r="1.71" fill="#a9a9ad" stroke="#4a4a4e" stroke-width="0.5"/>
<circle cx="743.4" cy="51.8" r="5.2" fill="#8f8f93" stroke="#4a4a4e" stroke-width="0.6"/>
<circle cx="746.0" cy="52.4" r="5.5" fill="#8f8f93" stroke="#4a4a4e" stroke-width="0.6"/>
<circle cx="745.4" cy="52.4" r="1.98" fill="#a9a9ad" stroke="#4a4a4e" stroke-width="0.5"/>
<circle cx="747.2" cy="52.9" r="1.65" fill="#a9a9ad" stroke="#4a4a4e" stroke-width="0.5"/>
<ellipse cx="748.9" cy="46.6" rx="5" ry="2.3" fill="#8f8f93" stroke="#4a4a4e" stroke-width="0.6"/>
<ellipse cx="748.9" cy="44.4" rx="5" ry="2.3" fill="#8f8f93" stroke="#4a4a4e" stroke-width="0.6"/>
<ellipse cx="748.9" cy="44.1" rx="2.25" ry="1.035" fill="#a9a9ad" stroke="#4a4a4e" stroke-width="0.5"/>
<ellipse cx="761.0999999999999" cy="42.6" rx="5" ry="2.1" fill="#8f8f93" stroke="#4a4a4e" stroke-width="0.6"/>
<ellipse cx="761.0999999999999" cy="40.4" rx="5" ry="2.1" fill="#8f8f93" stroke="#4a4a4e" stroke-width="0.6"/>
<ellipse cx="761.0999999999999" cy="40.1" rx="2.25" ry="0.9450000000000001" fill="#a9a9ad" stroke="#4a4a4e" stroke-width="0.5"/>
<circle cx="767.6999999999999" cy="36.800000000000004" r="5.4" fill="#8f8f93" stroke="#4a4a4e" stroke-width="0.6"/>
<circle cx="770.3" cy="37.6" r="5.7" fill="#8f8f93" stroke="#4a4a4e" stroke-width="0.6"/>
<circle cx="769.6999999999999" cy="37.6" r="2.052" fill="#a9a9ad" stroke="#4a4a4e" stroke-width="0.5"/>
<circle cx="771.5" cy="38.1" r="1.71" fill="#a9a9ad" stroke="#4a4a4e" stroke-width="0.5"/>
<circle cx="767.1999999999999" cy="51.8" r="5.2" fill="#8f8f93" stroke="#4a4a4e" stroke-width="0.6"/>
<circle cx="769.8" cy="52.4" r="5.5" fill="#8f8f93" stroke="#4a4a4e" stroke-width="0.6"/>
<circle cx="769.1999999999999" cy="52.4" r="1.98" fill="#a9a9ad" stroke="#4a4a4e" stroke-width="0.5"/>
<circle cx="771.0" cy="52.9" r="1.65" fill="#a9a9ad" stroke="#4a4a4e" stroke-width="0.5"/>
<ellipse cx="772.6999999999999" cy="46.6" rx="5" ry="2.3" fill="#8f8f93" stroke="#4a4a4e" stroke-width="0.6"/>
<ellipse cx="772.6999999999999" cy="44.4" rx="5" ry="2.3" fill="#8f8f93" stroke="#4a4a4e" stroke-width="0.6"/>
<ellipse cx="772.6999999999999" cy="44.1" rx="2.25" ry="1.035" fill="#a9a9ad" stroke="#4a4a4e" stroke-width="0.5"/>
<ellipse cx="785.0" cy="42.6" rx="5" ry="2.1" fill="#8f8f93" stroke="#4a4a4e" stroke-width="0.6"/>
<ellipse cx="785.0" cy="40.4" rx="5" ry="2.1" fill="#8f8f93" stroke="#4a4a4e" stroke-width="0.6"/>
<ellipse cx="785.0" cy="40.1" rx="2.25" ry="0.9450000000000001" fill="#a9a9ad" stroke="#4a4a4e" stroke-width="0.5"/>
<circle cx="791.6" cy="36.800000000000004" r="5.4" fill="#8f8f93" stroke="#4a4a4e" stroke-width="0.6"/>
<circle cx="794.2" cy="37.6" r="5.7" fill="#8f8f93" stroke="#4a4a4e" stroke-width="0.6"/>
<circle cx="793.6" cy="37.6" r="2.052" fill="#a9a9ad" stroke="#4a4a4e" stroke-width="0.5"/>
<circle cx="795.4000000000001" cy="38.1" r="1.71" fill="#a9a9ad" stroke="#4a4a4e" stroke-width="0.5"/>
<circle cx="791.1" cy="51.8" r="5.2" fill="#8f8f93" stroke="#4a4a4e" stroke-width="0.6"/>
<circle cx="793.7" cy="52.4" r="5.5" fill="#8f8f93" stroke="#4a4a4e" stroke-width="0.6"/>
<circle cx="793.1" cy="52.4" r="1.98" fill="#a9a9ad" stroke="#4a4a4e" stroke-width="0.5"/>
<circle cx="794.9000000000001" cy="52.9" r="1.65" fill="#a9a9ad" stroke="#4a4a4e" stroke-width="0.5"/>
<ellipse cx="796.6" cy="46.6" rx="5" ry="2.3" fill="#8f8f93" stroke="#4a4a4e" stroke-width="0.6"/>
<ellipse cx="796.6" cy="44.4" rx="5" ry="2.3" fill="#8f8f93" stroke="#4a4a4e" stroke-width="0.6"/>
<ellipse cx="796.6" cy="44.1" rx="2.25" ry="1.035" fill="#a9a9ad" stroke="#4a4a4e" stroke-width="0.5"/>
<ellipse cx="825.5" cy="42.6" rx="5" ry="2.1" fill="#8f8f93" stroke="#4a4a4e" stroke-width="0.6"/>
<ellipse cx="825.5" cy="40.4" rx="5" ry="2.1" fill="#8f8f93" stroke="#4a4a4e" stroke-width="0.6"/>
<ellipse cx="825.5" cy="40.1" rx="2.25" ry="0.9450000000000001" fill="#a9a9ad" stroke="#4a4a4e" stroke-width="0.5"/>
<circle cx="832.1" cy="36.800000000000004" r="5.4" fill="#8f8f93" stroke="#4a4a4e" stroke-width="0.6"/>
<circle cx="834.7" cy="37.6" r="5.7" fill="#8f8f93" stroke="#4a4a4e" stroke-width="0.6"/>
<circle cx="834.1" cy="37.6" r="2.052" fill="#a9a9ad" stroke="#4a4a4e" stroke-width="0.5"/>
<circle cx="835.9000000000001" cy="38.1" r="1.71" fill="#a9a9ad" stroke="#4a4a4e" stroke-width="0.5"/>
<circle cx="831.6" cy="51.8" r="5.2" fill="#8f8f93" stroke="#4a4a4e" stroke-width="0.6"/>
<circle cx="834.2" cy="52.4" r="5.5" fill="#8f8f93" stroke="#4a4a4e" stroke-width="0.6"/>
<circle cx="833.6" cy="52.4" r="1.98" fill="#a9a9ad" stroke="#4a4a4e" stroke-width="0.5"/>
<circle cx="835.4000000000001" cy="52.9" r="1.65" fill="#a9a9ad" stroke="#4a4a4e" stroke-width="0.5"/>
<ellipse cx="837.1" cy="46.6" rx="5" ry="2.3" fill="#8f8f93" stroke="#4a4a4e" stroke-width="0.6"/>
<ellipse cx="837.1" cy="44.4" rx="5" ry="2.3" fill="#8f8f93" stroke="#4a4a4e" stroke-width="0.6"/>
<ellipse cx="837.1" cy="44.1" rx="2.25" ry="1.035" fill="#a9a9ad" stroke="#4a4a4e" stroke-width="0.5"/>
<ellipse cx="849.3" cy="42.6" rx="5" ry="2.1" fill="#8f8f93" stroke="#4a4a4e" stroke-width="0.6"/>
<ellipse cx="849.3" cy="40.4" rx="5" ry="2.1" fill="#8f8f93" stroke="#4a4a4e" stroke-width="0.6"/>
<ellipse cx="849.3" cy="40.1" rx="2.25" ry="0.9450000000000001" fill="#a9a9ad" stroke="#4a4a4e" stroke-width="0.5"/>
<circle cx="855.9" cy="36.800000000000004" r="5.4" fill="#8f8f93" stroke="#4a4a4e" stroke-width="0.6"/>
<circle cx="858.5" cy="37.6" r="5.7" fill="#8f8f93" stroke="#4a4a4e" stroke-width="0.6"/>
<circle cx="857.9" cy="37.6" r="2.052" fill="#a9a9ad" stroke="#4a4a4e" stroke-width="0.5"/>
<circle cx="859.7" cy="38.1" r="1.71" fill="#a9a9ad" stroke="#4a4a4e" stroke-width="0.5"/>
<circle cx="855.4" cy="51.8" r="5.2" fill="#8f8f93" stroke="#4a4a4e" stroke-width="0.6"/>
<circle cx="858.0" cy="52.4" r="5.5" fill="#8f8f93" stroke="#4a4a4e" stroke-width="0.6"/>
<circle cx="857.4" cy="52.4" r="1.98" fill="#a9a9ad" stroke="#4a4a4e" stroke-width="0.5"/>
<circle cx="859.2" cy="52.9" r="1.65" fill="#a9a9ad" stroke="#4a4a4e" stroke-width="0.5"/>
<ellipse cx="860.9" cy="46.6" rx="5" ry="2.3" fill="#8f8f93" stroke="#4a4a4e" stroke-width="0.6"/>
<ellipse cx="860.9" cy="44.4" rx="5" ry="2.3" fill="#8f8f93" stroke="#4a4a4e" stroke-width="0.6"/>
<ellipse cx="860.9" cy="44.1" rx="2.25" ry="1.035" fill="#a9a9ad" stroke="#4a4a4e" stroke-width="0.5"/>
<ellipse cx="873.1999999999999" cy="42.6" rx="5" ry="2.1" fill="#8f8f93" stroke="#4a4a4e" stroke-width="0.6"/>
<ellipse cx="873.1999999999999" cy="40.4" rx="5" ry="2.1" fill="#8f8f93" stroke="#4a4a4e" stroke-width="0.6"/>
<ellipse cx="873.1999999999999" cy="40.1" rx="2.25" ry="0.9450000000000001" fill="#a9a9ad" stroke="#4a4a4e" stroke-width="0.5"/>
<circle cx="879.8" cy="36.800000000000004" r="5.4" fill="#8f8f93" stroke="#4a4a4e" stroke-width="0.6"/>
<circle cx="882.4" cy="37.6" r="5.7" fill="#8f8f93" stroke="#4a4a4e" stroke-width="0.6"/>
<circle cx="881.8" cy="37.6" r="2.052" fill="#a9a9ad" stroke="#4a4a4e" stroke-width="0.5"/>
<circle cx="883.6" cy="38.1" r="1.71" fill="#a9a9ad" stroke="#4a4a4e" stroke-width="0.5"/>
<circle cx="879.3" cy="51.8" r="5.2" fill="#8f8f93" stroke="#4a4a4e" stroke-width="0.6"/>
<circle cx="881.9" cy="52.4" r="5.5" fill="#8f8f93" stroke="#4a4a4e" stroke-width="0.6"/>
<circle cx="881.3" cy="52.4" r="1.98" fill="#a9a9ad" stroke="#4a4a4e" stroke-width="0.5"/>
<circle cx="883.1" cy="52.9" r="1.65" fill="#a9a9ad" stroke="#4a4a4e" stroke-width="0.5"/>
<ellipse cx="884.8" cy="46.6" rx="5" ry="2.3" fill="#8f8f93" stroke="#4a4a4e" stroke-width="0.6"/>
<ellipse cx="884.8" cy="44.4" rx="5" ry="2.3" fill="#8f8f93" stroke="#4a4a4e" stroke-width="0.6"/>
<ellipse cx="884.8" cy="44.1" rx="2.25" ry="1.035" fill="#a9a9ad" stroke="#4a4a4e" stroke-width="0.5"/>
<polygon points="908.60,49.20 912.00,48.00 923.50,48.00 926.30,50.60 926.30,51.80 914.00,51.80 908.60,50.40" fill="#9acfa5" stroke="#48604e" stroke-width="0.6" stroke-linejoin="round"/>
<path d="M912,50 L912,43.4 A5.6,5.4 0 0 1 923.2,43.4 L923.2,50.6 L918.6,50.6 L918.6,44 A2.3,2.6 0 0 0 914,44 L914,50 Z" fill="#b9e2c0" stroke="#48604e" stroke-width="0.6" stroke-linecap="round" stroke-linejoin="round"/>
<rect x="914.00" y="42.40" width="66.00" height="5.20" rx="2.4" fill="#79c0ea" stroke="#2b4a5c" stroke-width="0.6"/>
<rect x="900.00" y="42.70" width="16.00" height="4.60" rx="0" fill="#79c0ea"/>
<path d="M916.2,41 A5,4.6 0 0 1 923.2,43.4 L923.2,50.6 L918.6,50.6 L918.6,44 A2.3,2.6 0 0 0 917.4,41.8 Z" fill="#b9e2c0" stroke="#48604e" stroke-width="0.6" stroke-linecap="round" stroke-linejoin="round"/>
<polyline points="934.60,32.40 941.00,35.20" fill="none" stroke="#4f7d56" stroke-width="1.5" stroke-linecap="round" stroke-linejoin="round"/>
<polyline points="937.20,33.80 936.00,38.00" fill="none" stroke="#4f7d56" stroke-width="1.1" stroke-linecap="round" stroke-linejoin="round"/>
<polyline points="939.20,34.60 938.40,37.60" fill="none" stroke="#4f7d56" stroke-width="0.8" stroke-linecap="round" stroke-linejoin="round"/>
<polyline points="942.20,33.60 948.60,36.40" fill="none" stroke="#4f7d56" stroke-width="1.5" stroke-linecap="round" stroke-linejoin="round"/>
<polyline points="944.80,35.00 943.60,39.20" fill="none" stroke="#4f7d56" stroke-width="1.1" stroke-linecap="round" stroke-linejoin="round"/>
<polyline points="946.80,35.80 946.00,38.80" fill="none" stroke="#4f7d56" stroke-width="0.8" stroke-linecap="round" stroke-linejoin="round"/>
<polyline points="949.80,34.80 956.20,37.60" fill="none" stroke="#4f7d56" stroke-width="1.5" stroke-linecap="round" stroke-linejoin="round"/>
<polyline points="952.40,36.20 951.20,40.40" fill="none" stroke="#4f7d56" stroke-width="1.1" stroke-linecap="round" stroke-linejoin="round"/>
<polyline points="954.40,37.00 953.60,40.00" fill="none" stroke="#4f7d56" stroke-width="0.8" stroke-linecap="round" stroke-linejoin="round"/>
<polyline points="957.40,36.00 963.80,38.80" fill="none" stroke="#4f7d56" stroke-width="1.5" stroke-linecap="round" stroke-linejoin="round"/>
<polyline points="960.00,37.40 958.80,41.60" fill="none" stroke="#4f7d56" stroke-width="1.1" stroke-linecap="round" stroke-linejoin="round"/>
<polyline points="962.00,38.20 961.20,41.20" fill="none" stroke="#4f7d56" stroke-width="0.8" stroke-linecap="round" stroke-linejoin="round"/>
<polygon points="87.60,110.80 177.00,110.80 177.00,114.60 87.60,114.60" fill="#b9e2c0" stroke="#48604e" stroke-width="0.6" stroke-linejoin="round"/>
<polygon points="67.40,103.30 71.00,103.50 91.30,110.80 87.60,110.80 87.60,114.60 67.40,106.50" fill="#b9e2c0" stroke="#48604e" stroke-width="0.6" stroke-linejoin="round"/>
<line x1="70.00" y1="105.50" x2="71.50" y2="104.20" stroke="#48604e" stroke-width="0.5"/>
<line x1="73.30" y1="106.80" x2="74.80" y2="105.50" stroke="#48604e" stroke-width="0.5"/>
<line x1="76.60" y1="108.10" x2="78.10" y2="106.80" stroke="#48604e" stroke-width="0.5"/>
<line x1="79.90" y1="109.40" x2="81.40" y2="108.10" stroke="#48604e" stroke-width="0.5"/>
<line x1="83.20" y1="110.70" x2="84.70" y2="109.40" stroke="#48604e" stroke-width="0.5"/>
<line x1="86.50" y1="112.00" x2="88.00" y2="110.70" stroke="#48604e" stroke-width="0.5"/>
<polygon points="87.00,93.00 153.00,93.00 156.00,97.50 96.00,97.50" fill="#62a9da" stroke="#2b4a5c" stroke-width="0.5" stroke-linejoin="round"/>
<polygon points="96.00,102.20 168.00,102.20 168.00,110.60 96.00,110.60" fill="#b9e2c0" stroke="#48604e" stroke-width="0.6" stroke-linejoin="round"/>
<polygon points="96.00,97.60 163.00,97.60 163.00,102.20 96.00,102.20" fill="#79c0ea" stroke="#2b4a5c" stroke-width="0.5" stroke-linejoin="round"/>
<polygon points="74.00,89.30 76.00,89.00 96.30,95.60 94.30,96.00" fill="#b9e2c0" stroke="#48604e" stroke-width="0.6" stroke-linejoin="round"/>
<polygon points="74.00,89.30 94.30,96.00 91.30,110.80 71.00,103.50" fill="#b9e2c0" stroke="#48604e" stroke-width="0.6" stroke-linejoin="round"/>
<polygon points="94.30,96.00 96.30,95.60 96.00,110.60 91.30,110.80" fill="#9acfa5" stroke="#48604e" stroke-width="0.6" stroke-linejoin="round"/>
<polygon points="150.00,102.20 168.00,102.20 174.60,110.80 168.00,110.80" fill="#b9e2c0" stroke="#48604e" stroke-width="0.6" stroke-linejoin="round"/>
<polygon points="152.00,90.50 156.00,89.30 166.00,92.50 168.00,96.00 163.00,97.60 156.00,95.00" fill="#b9e2c0" stroke="#48604e" stroke-width="0.6" stroke-linejoin="round"/>
<polygon points="161.00,94.00 165.00,92.50 170.00,94.50 170.00,102.00 163.00,102.20 163.00,97.60" fill="#b9e2c0" stroke="#48604e" stroke-width="0.6" stroke-linejoin="round"/>
<polygon points="168.00,93.60 172.00,92.50 174.60,94.00 174.60,110.80 168.00,110.80" fill="#b9e2c0" stroke="#48604e" stroke-width="0.6" stroke-linejoin="round"/>
<rect x="174.60" y="96.60" width="8.00" height="5.60" rx="2" fill="#b9e2c0" stroke="#48604e" stroke-width="0.5"/>
<ellipse cx="178.00" cy="99.40" rx="1.20" ry="2.60" fill="none" stroke="#48604e" stroke-width="0.6"/>
<ellipse cx="179.50" cy="91.20" rx="2.60" ry="2.60" fill="#9acfa5" stroke="#48604e" stroke-width="0.6"/>
<ellipse cx="179.50" cy="91.20" rx="1.20" ry="1.20" fill="#b9e2c0" stroke="#48604e" stroke-width="0.4"/>
<line x1="179.5" y1="93.79999999999998" x2="179.5" y2="96.6" stroke="#48604e" stroke-width="0.6"/>
<polygon points="821.20,110.80 910.60,110.80 910.60,114.60 821.20,114.60" fill="#b9e2c0" stroke="#48604e" stroke-width="0.6" stroke-linejoin="round"/>
<polygon points="801.00,103.30 804.60,103.50 824.90,110.80 821.20,110.80 821.20,114.60 801.00,106.50" fill="#b9e2c0" stroke="#48604e" stroke-width="0.6" stroke-linejoin="round"/>
<line x1="803.60" y1="105.50" x2="805.10" y2="104.20" stroke="#48604e" stroke-width="0.5"/>
<line x1="806.90" y1="106.80" x2="808.40" y2="105.50" stroke="#48604e" stroke-width="0.5"/>
<line x1="810.20" y1="108.10" x2="811.70" y2="106.80" stroke="#48604e" stroke-width="0.5"/>
<line x1="813.50" y1="109.40" x2="815.00" y2="108.10" stroke="#48604e" stroke-width="0.5"/>
<line x1="816.80" y1="110.70" x2="818.30" y2="109.40" stroke="#48604e" stroke-width="0.5"/>
<line x1="820.10" y1="112.00" x2="821.60" y2="110.70" stroke="#48604e" stroke-width="0.5"/>
<polygon points="820.60,93.00 886.60,93.00 889.60,97.50 829.60,97.50" fill="#62a9da" stroke="#2b4a5c" stroke-width="0.5" stroke-linejoin="round"/>
<polygon points="829.60,102.20 901.60,102.20 901.60,110.60 829.60,110.60" fill="#b9e2c0" stroke="#48604e" stroke-width="0.6" stroke-linejoin="round"/>
<polygon points="829.60,97.60 896.60,97.60 896.60,102.20 829.60,102.20" fill="#79c0ea" stroke="#2b4a5c" stroke-width="0.5" stroke-linejoin="round"/>
<polygon points="807.60,89.30 809.60,89.00 829.90,95.60 827.90,96.00" fill="#b9e2c0" stroke="#48604e" stroke-width="0.6" stroke-linejoin="round"/>
<polygon points="807.60,89.30 827.90,96.00 824.90,110.80 804.60,103.50" fill="#b9e2c0" stroke="#48604e" stroke-width="0.6" stroke-linejoin="round"/>
<polygon points="827.90,96.00 829.90,95.60 829.60,110.60 824.90,110.80" fill="#9acfa5" stroke="#48604e" stroke-width="0.6" stroke-linejoin="round"/>
<polygon points="883.60,102.20 901.60,102.20 908.20,110.80 901.60,110.80" fill="#b9e2c0" stroke="#48604e" stroke-width="0.6" stroke-linejoin="round"/>
<polygon points="885.60,90.50 889.60,89.30 899.60,92.50 901.60,96.00 896.60,97.60 889.60,95.00" fill="#b9e2c0" stroke="#48604e" stroke-width="0.6" stroke-linejoin="round"/>
<polygon points="894.60,94.00 898.60,92.50 903.60,94.50 903.60,102.00 896.60,102.20 896.60,97.60" fill="#b9e2c0" stroke="#48604e" stroke-width="0.6" stroke-linejoin="round"/>
<polygon points="901.60,93.60 905.60,92.50 908.20,94.00 908.20,110.80 901.60,110.80" fill="#b9e2c0" stroke="#48604e" stroke-width="0.6" stroke-linejoin="round"/>
<rect x="908.20" y="96.60" width="8.00" height="5.60" rx="2" fill="#b9e2c0" stroke="#48604e" stroke-width="0.5"/>
<ellipse cx="911.60" cy="99.40" rx="1.20" ry="2.60" fill="none" stroke="#48604e" stroke-width="0.6"/>
<ellipse cx="913.10" cy="91.20" rx="2.60" ry="2.60" fill="#9acfa5" stroke="#48604e" stroke-width="0.6"/>
<ellipse cx="913.10" cy="91.20" rx="1.20" ry="1.20" fill="#b9e2c0" stroke="#48604e" stroke-width="0.4"/>
<line x1="913.1" y1="93.79999999999998" x2="913.1" y2="96.6" stroke="#48604e" stroke-width="0.6"/>
<rect x="257.3" y="104.7" width="66.9" height="4.6000000000000005" rx="1.6" ry="2.3000000000000003" fill="#79c0ea" stroke="#2b4a5c" stroke-width="0.8"/>
<ellipse cx="258.5" cy="107" rx="1.2" ry="1.9000000000000001" fill="#1fa8e0" stroke="#2b4a5c" stroke-width="0.6"/>
<polygon points="274.60,96.00 277.50,94.90 307.00,94.90 309.50,96.40 307.00,97.80 277.50,97.80" fill="#b9e2c0" stroke="#48604e" stroke-width="0.6" stroke-linejoin="round"/>
<ellipse cx="278.80" cy="115.60" rx="1.10" ry="1.10" fill="none" stroke="#3a3a3a" stroke-width="0.6"/>
<polyline points="280.00,113.20 280.00,116.70" fill="none" stroke="#3a3a3a" stroke-width="0.6" stroke-linecap="round" stroke-linejoin="round"/>
<path d="M281.2,116.7 L281.2,115.2 Q282.4,114 283.2,115.4 L283.2,116.7" fill="none" stroke="#3a3a3a" stroke-width="0.6" stroke-linecap="round" stroke-linejoin="round"/>
<ellipse cx="287.60" cy="115.60" rx="1.10" ry="1.10" fill="none" stroke="#3a3a3a" stroke-width="0.6"/>
<polyline points="288.80,113.20 288.80,116.70" fill="none" stroke="#3a3a3a" stroke-width="0.6" stroke-linecap="round" stroke-linejoin="round"/>
<path d="M290.0,116.7 L290.0,115.2 Q291.2,114 292.0,115.4 L292.0,116.7" fill="none" stroke="#3a3a3a" stroke-width="0.6" stroke-linecap="round" stroke-linejoin="round"/>
<ellipse cx="296.40" cy="115.60" rx="1.10" ry="1.10" fill="none" stroke="#3a3a3a" stroke-width="0.6"/>
<polyline points="297.60,113.20 297.60,116.70" fill="none" stroke="#3a3a3a" stroke-width="0.6" stroke-linecap="round" stroke-linejoin="round"/>
<path d="M298.8,116.7 L298.8,115.2 Q300.0,114 300.8,115.4 L300.8,116.7" fill="none" stroke="#3a3a3a" stroke-width="0.6" stroke-linecap="round" stroke-linejoin="round"/>
<ellipse cx="305.20" cy="115.60" rx="1.10" ry="1.10" fill="none" stroke="#3a3a3a" stroke-width="0.6"/>
<polyline points="306.40,113.20 306.40,116.70" fill="none" stroke="#3a3a3a" stroke-width="0.6" stroke-linecap="round" stroke-linejoin="round"/>
<path d="M307.59999999999997,116.7 L307.59999999999997,115.2 Q308.79999999999995,114 309.59999999999997,115.4 L309.59999999999997,116.7" fill="none" stroke="#3a3a3a" stroke-width="0.6" stroke-linecap="round" stroke-linejoin="round"/>
<polygon points="426.00,89.00 428.60,90.00 428.60,105.00 426.00,105.00" fill="#b9e2c0" stroke="#48604e" stroke-width="0.6" stroke-linejoin="round"/>
<polygon points="428.60,90.00 431.80,91.40 431.80,105.00 428.60,105.00" fill="#9acfa5" stroke="#48604e" stroke-width="0.6" stroke-linejoin="round"/>
<rect x="405.8" y="104.6" width="60.9" height="4.800000000000001" rx="1.6" ry="2.4000000000000004" fill="#79c0ea" stroke="#2b4a5c" stroke-width="0.8"/>
<ellipse cx="407.0" cy="107" rx="1.2" ry="2.0" fill="#1fa8e0" stroke="#2b4a5c" stroke-width="0.6"/>
<polygon points="438.00,94.20 440.80,95.00 440.80,111.40 438.00,110.40" fill="#b9e2c0" stroke="#48604e" stroke-width="0.6" stroke-linejoin="round"/>
<polygon points="440.80,95.00 443.70,96.20 443.70,112.80 440.80,111.40" fill="#9acfa5" stroke="#48604e" stroke-width="0.6" stroke-linejoin="round"/>
<rect x="594.8" y="104.7" width="36.9" height="4.6000000000000005" rx="1.6" ry="2.3000000000000003" fill="#79c0ea" stroke="#2b4a5c" stroke-width="0.8"/>
<ellipse cx="596.0" cy="107" rx="1.2" ry="1.9000000000000001" fill="#1fa8e0" stroke="#2b4a5c" stroke-width="0.6"/>
<ellipse cx="621.50" cy="106.30" rx="3.20" ry="6.80" fill="#9acfa5" stroke="#48604e" stroke-width="0.6"/>
<polygon points="616.00,99.50 621.50,99.50 621.50,113.10 616.00,113.10" fill="#b9e2c0"/>
<ellipse cx="616.00" cy="106.30" rx="3.20" ry="6.80" fill="#b9e2c0" stroke="#48604e" stroke-width="0.6"/>
<line x1="616" y1="99.5" x2="621.5" y2="99.5" stroke="#48604e" stroke-width="0.5"/><line x1="616" y1="113.1" x2="621.5" y2="113.1" stroke="#48604e" stroke-width="0.5"/>
<ellipse cx="616.00" cy="106.80" rx="1.60" ry="3.00" fill="#e9f6ec" stroke="#48604e" stroke-width="0.4"/>
<rect x="594.50" y="104.40" width="22.00" height="5.20" rx="2" fill="#79c0ea" stroke="#2b4a5c" stroke-width="0.5"/>
<ellipse cx="595.80" cy="107.00" rx="1.20" ry="2.10" fill="#1fa8e0" stroke="#2b4a5c" stroke-width="0.5"/>
<polyline points="627.00,112.50 633.00,114.50" fill="none" stroke="#444" stroke-width="1.4" stroke-linecap="round" stroke-linejoin="round"/>
<rect x="665.3" y="104.7" width="22.4" height="4.6000000000000005" rx="1.6" ry="2.3000000000000003" fill="#79c0ea" stroke="#2b4a5c" stroke-width="0.8"/>
<ellipse cx="666.5" cy="107" rx="1.2" ry="1.9000000000000001" fill="#1fa8e0" stroke="#2b4a5c" stroke-width="0.6"/>
<ellipse cx="696.00" cy="106.80" rx="5.20" ry="9.40" fill="#9acfa5" stroke="#48604e" stroke-width="0.6"/>
<polygon points="690.00,97.40 696.00,97.40 696.00,116.20 690.00,116.20" fill="#b9e2c0"/>
<line x1="690" y1="97.4" x2="696" y2="97.4" stroke="#48604e" stroke-width="0.5"/><line x1="690" y1="116.2" x2="696" y2="116.2" stroke="#48604e" stroke-width="0.5"/>
<ellipse cx="690.00" cy="106.80" rx="5.20" ry="9.40" fill="#b9e2c0" stroke="#48604e" stroke-width="0.6"/>
<ellipse cx="689.50" cy="106.80" rx="2.00" ry="3.60" fill="#9acfa5" stroke="#48604e" stroke-width="0.6"/>
<rect x="684.00" y="105.20" width="5.00" height="3.40" rx="0" fill="#4d7a8a" stroke="#2b4a5c" stroke-width="0.4"/>
<ellipse cx="690.00" cy="100.80" rx="0.80" ry="1.00" fill="#e9f6ec" stroke="#48604e" stroke-width="0.3"/>
<ellipse cx="690.00" cy="112.80" rx="0.80" ry="1.00" fill="#e9f6ec" stroke="#48604e" stroke-width="0.3"/>
<rect x="731.3" y="104.7" width="39.4" height="4.6000000000000005" rx="1.6" ry="2.3000000000000003" fill="#79c0ea" stroke="#2b4a5c" stroke-width="0.8"/>
<ellipse cx="732.5" cy="107" rx="1.2" ry="1.9000000000000001" fill="#1fa8e0" stroke="#2b4a5c" stroke-width="0.6"/>
<rect x="760.00" y="104.40" width="11.00" height="5.20" rx="2" fill="#b9e2c0" stroke="#48604e" stroke-width="0.5"/>
<line x1="750.5" y1="104.4" x2="750.5" y2="109.6" stroke="#2b4a5c" stroke-width="0.5"/>
<line x1="753.5" y1="104.4" x2="753.5" y2="109.6" stroke="#2b4a5c" stroke-width="0.5"/>
<line x1="760" y1="104.4" x2="760" y2="109.6" stroke="#2b4a5c" stroke-width="0.5"/>
<line x1="760" y1="107" x2="768" y2="107" stroke="#48604e" stroke-width="0.5"/>
<ellipse cx="988.00" cy="98.00" rx="3.40" ry="3.40" fill="#79c0ea" stroke="#2b4a5c" stroke-width="0.6"/>
<polygon points="987.00,101.25 1063.74,126.87 1066.86,116.73 989.00,94.75" fill="#79c0ea"/>
<line x1="987.00" y1="101.25" x2="1063.74" y2="126.87" stroke="#2b4a5c" stroke-width="0.6"/>
<line x1="989.00" y1="94.75" x2="1066.86" y2="116.73" stroke="#2b4a5c" stroke-width="0.6"/>
<polygon points="1057.05,124.81 1058.58,126.64 1063.36,128.11 1067.24,115.49 1062.46,114.02 1060.17,114.67" fill="#79c0ea" stroke="#2b4a5c" stroke-width="0.6" stroke-linejoin="round"/>
<ellipse cx="1065.30" cy="121.80" rx="6.60" ry="6.60" fill="#79c0ea" stroke="#2b4a5c" stroke-width="0.6"/>
<ellipse cx="1065.30" cy="121.80" rx="4.36" ry="4.36" fill="#1fa8e0" stroke="#2b4a5c" stroke-width="0.5"/>
<polyline points="990.50,95.80 989.50,101.50" fill="none" stroke="#2b4a5c" stroke-width="0.5" stroke-linecap="round" stroke-linejoin="round"/>
<rect x="70.5" y="166.3" width="61.199999999999996" height="5.0" rx="1.6" ry="2.5" fill="#79c0ea" stroke="#2b4a5c" stroke-width="0.8"/>
<ellipse cx="71.7" cy="168.8" rx="1.2" ry="2.0999999999999996" fill="#1fa8e0" stroke="#2b4a5c" stroke-width="0.6"/>
<rect x="92.80" y="165.30" width="19.60" height="3.20" rx="0" fill="#dff2d4" stroke="#222" stroke-width="0.7"/>
<line x1="94.6" y1="159.8" x2="94.6" y2="165" stroke="#333" stroke-width="0.6"/>
<polygon points="93.60,161.60 94.60,159.00 95.60,161.60" fill="#333"/>
<line x1="97.69999999999999" y1="159.8" x2="97.69999999999999" y2="165" stroke="#333" stroke-width="0.6"/>
<polygon points="96.70,161.60 97.70,159.00 98.70,161.60" fill="#333"/>
<line x1="100.8" y1="159.8" x2="100.8" y2="165" stroke="#333" stroke-width="0.6"/>
<polygon points="99.80,161.60 100.80,159.00 101.80,161.60" fill="#333"/>
<line x1="103.89999999999999" y1="159.8" x2="103.89999999999999" y2="165" stroke="#333" stroke-width="0.6"/>
<polygon points="102.90,161.60 103.90,159.00 104.90,161.60" fill="#333"/>
<line x1="107.0" y1="159.8" x2="107.0" y2="165" stroke="#333" stroke-width="0.6"/>
<polygon points="106.00,161.60 107.00,159.00 108.00,161.60" fill="#333"/>
<line x1="110.1" y1="159.8" x2="110.1" y2="165" stroke="#333" stroke-width="0.6"/>
<polygon points="109.10,161.60 110.10,159.00 111.10,161.60" fill="#333"/>
<rect x="249.8" y="166.20000000000002" width="60.4" height="4.6000000000000005" rx="0.6" ry="2.3000000000000003" fill="#79c0ea" stroke="#2b4a5c" stroke-width="0.8"/>
<ellipse cx="251.0" cy="168.5" rx="1.2" ry="1.9000000000000001" fill="#1fa8e0" stroke="#2b4a5c" stroke-width="0.6"/>
<polygon points="310.60,150.50 312.80,151.00 312.80,165.60 310.60,165.10" fill="#b9e2c0" stroke="#48604e" stroke-width="0.6" stroke-linejoin="round"/>
<polygon points="312.80,151.00 314.90,151.70 314.90,166.30 312.80,165.60" fill="#9acfa5" stroke="#48604e" stroke-width="0.6" stroke-linejoin="round"/>
<polygon points="310.60,171.90 312.80,172.40 312.80,186.60 310.60,186.10" fill="#b9e2c0" stroke="#48604e" stroke-width="0.6" stroke-linejoin="round"/>
<polygon points="312.80,172.40 314.90,173.10 314.90,187.30 312.80,186.60" fill="#9acfa5" stroke="#48604e" stroke-width="0.6" stroke-linejoin="round"/>
<rect x="433.00" y="159.50" width="14.20" height="4.30" rx="0" fill="#b9e2c0" stroke="#48604e" stroke-width="0.6"/>
<rect x="433.00" y="173.20" width="14.20" height="4.80" rx="0" fill="#b9e2c0" stroke="#48604e" stroke-width="0.6"/>
<ellipse cx="440.00" cy="168.30" rx="6.20" ry="4.70" fill="#1d9ccb" stroke="#27566c" stroke-width="1.0"/>
<ellipse cx="440.00" cy="168.10" rx="3.40" ry="2.20" fill="#35aad6" stroke="#2488b4" stroke-width="0.5"/>
<polygon points="561.00,166.80 571.00,168.70 571.00,170.60 566.00,170.40" fill="#b9e2c0" stroke="#48604e" stroke-width="0.6" stroke-linejoin="round"/>
<polygon points="561.00,172.60 571.00,174.80 571.00,177.30 566.00,176.60" fill="#b9e2c0" stroke="#48604e" stroke-width="0.6" stroke-linejoin="round"/>
<rect x="569.00" y="159.10" width="58.20" height="4.20" rx="0" fill="#b9e2c0" stroke="#48604e" stroke-width="0.6"/>
<rect x="567.70" y="163.20" width="61.00" height="5.10" rx="2.2" fill="#79c0ea" stroke="#2b4a5c" stroke-width="0.6"/>
<ellipse cx="569.20" cy="165.80" rx="1.30" ry="2.20" fill="#19b0e8" stroke="#2b4a5c" stroke-width="0.5"/>
<rect x="569.50" y="168.70" width="63.50" height="1.70" rx="0" fill="#b9e2c0" stroke="#48604e" stroke-width="0.45"/>
<rect x="570.50" y="171.70" width="62.50" height="2.00" rx="0" fill="#b9e2c0" stroke="#48604e" stroke-width="0.45"/>
<rect x="570.50" y="175.20" width="62.50" height="2.00" rx="0" fill="#b9e2c0" stroke="#48604e" stroke-width="0.45"/>
<rect x="633.00" y="169.30" width="3.80" height="7.80" rx="0" fill="#b9e2c0" stroke="#48604e" stroke-width="0.6"/>
<polyline points="636.80,172.70 640.50,172.70 640.50,168.40" fill="none" stroke="#555" stroke-width="0.5" stroke-linecap="round" stroke-linejoin="round"/>
<ellipse cx="640.50" cy="166.20" rx="2.20" ry="2.20" fill="#b9e2c0" stroke="#48604e" stroke-width="0.6"/>
<rect x="710.8" y="166.3" width="34.4" height="4.800000000000001" rx="1.6" ry="2.4000000000000004" fill="#79c0ea" stroke="#2b4a5c" stroke-width="0.8"/>
<ellipse cx="712.0" cy="168.7" rx="1.2" ry="2.0" fill="#1fa8e0" stroke="#2b4a5c" stroke-width="0.6"/>
<rect x="835.3" y="166.70000000000002" width="60.9" height="4.6000000000000005" rx="1.6" ry="2.3000000000000003" fill="#79c0ea" stroke="#2b4a5c" stroke-width="0.8"/>
<ellipse cx="836.5" cy="169" rx="1.2" ry="1.9000000000000001" fill="#1fa8e0" stroke="#2b4a5c" stroke-width="0.6"/>
<polygon points="842.80,155.00 875.60,155.00 886.50,158.70 854.60,158.70" fill="#b9e2c0" stroke="#48604e" stroke-width="0.6" stroke-linejoin="round"/>
<polygon points="842.80,155.00 854.60,158.70 854.60,182.40 842.80,176.00" fill="#b9e2c0" stroke="#48604e" stroke-width="0.6" stroke-linejoin="round"/>
<rect x="854.60" y="158.70" width="31.90" height="23.70" rx="0" fill="#b9e2c0" stroke="#48604e" stroke-width="0.6"/>
<rect x="857.40" y="161.00" width="27.30" height="19.00" rx="4" fill="#cdebd2" stroke="#48604e" stroke-width="0.5"/>
<rect x="857.40" y="166.40" width="27.30" height="5.20" rx="0" fill="#79c0ea" stroke="#2b4a5c" stroke-width="0.5"/>
<path d="M862,161.5 q6,7.5 0,18 M880,161.5 q-6,7.5 0,18 M862,163 h18 M862,178 h18" fill="none" stroke="#48604e" stroke-width="0.4" stroke-linecap="round" stroke-linejoin="round"/>
<rect x="835.00" y="166.40" width="8.00" height="5.20" rx="2" fill="#79c0ea" stroke="#2b4a5c" stroke-width="0.5"/>
<ellipse cx="836.30" cy="169.00" rx="1.20" ry="2.10" fill="#1fa8e0" stroke="#2b4a5c" stroke-width="0.5"/>
<rect x="886.50" y="166.40" width="10.00" height="5.20" rx="2" fill="#79c0ea" stroke="#2b4a5c" stroke-width="0.5"/>
<ellipse cx="989.00" cy="152.00" rx="3.50" ry="3.50" fill="#79c0ea" stroke="#2b4a5c" stroke-width="0.6"/>
<polygon points="987.91,155.32 1063.53,181.46 1066.47,172.54 990.09,148.68" fill="#79c0ea"/>
<line x1="987.91" y1="155.32" x2="1063.53" y2="181.46" stroke="#2b4a5c" stroke-width="0.6"/>
<line x1="990.09" y1="148.68" x2="1066.47" y2="172.54" stroke="#2b4a5c" stroke-width="0.6"/>
<polygon points="1057.83,179.59 1059.45,181.07 1063.25,182.32 1066.75,171.68 1062.95,170.43 1060.77,170.66" fill="#79c0ea" stroke="#2b4a5c" stroke-width="0.6" stroke-linejoin="round"/>
<ellipse cx="1065.00" cy="177.00" rx="5.60" ry="5.60" fill="#79c0ea" stroke="#2b4a5c" stroke-width="0.6"/>
<ellipse cx="1065.00" cy="177.00" rx="3.70" ry="3.70" fill="#1fa8e0" stroke="#2b4a5c" stroke-width="0.5"/>
<path d="M991,187.3 C985.5,189.5 985.5,200 992,203 L1060.5,218.8 L1062.5,214.6 L1001,189.6 C997,187.6 993.5,186.6 991,187.3Z" fill="#79c0ea" stroke="#2b4a5c" stroke-width="0.6" stroke-linecap="round" stroke-linejoin="round"/>
<ellipse cx="1061.50" cy="216.60" rx="1.30" ry="2.10" fill="#1fa8e0" stroke="#2b4a5c" stroke-width="0.5"/>
<polygon points="878.40,203.80 905.70,214.00 983.00,213.40 964.00,205.20 930.00,203.00" fill="#b9e2c0" stroke="#48604e" stroke-width="0.6" stroke-linejoin="round"/>
<polygon points="878.40,203.80 905.70,214.00 983.00,213.40 983.00,214.60 905.70,215.20 878.40,205.00" fill="#9acfa5" stroke="#48604e" stroke-width="0.4" stroke-linejoin="round"/>
<polyline points="893.00,205.50 912.00,210.50 968.00,210.00" fill="none" stroke="#444" stroke-width="1.0" stroke-linecap="round" stroke-linejoin="round"/>
<polyline points="900.00,204.00 918.00,208.00 962.00,207.60" fill="none" stroke="#444" stroke-width="0.8" stroke-linecap="round" stroke-linejoin="round"/>
<polygon points="899.40,189.90 905.40,189.90 914.40,193.40 908.40,193.40" fill="#b9e2c0" stroke="#48604e" stroke-width="0.6" stroke-linejoin="round"/>
<polygon points="899.40,189.90 908.40,193.40 908.40,206.00 899.40,202.50" fill="#b9e2c0" stroke="#48604e" stroke-width="0.6" stroke-linejoin="round"/>
<rect x="908.40" y="193.40" width="6.00" height="12.60" rx="0" fill="#b9e2c0" stroke="#48604e" stroke-width="0.6"/>
<rect x="914.30" y="196.00" width="7.00" height="3.60" rx="0" fill="#79c0ea" stroke="#2b4a5c" stroke-width="0.4"/>
<polygon points="917.00,186.00 922.60,186.00 930.10,190.00 924.50,190.00" fill="#b9e2c0" stroke="#48604e" stroke-width="0.6" stroke-linejoin="round"/>
<polygon points="917.00,186.00 924.50,190.00 924.50,207.50 917.00,203.50" fill="#b9e2c0" stroke="#48604e" stroke-width="0.6" stroke-linejoin="round"/>
<rect x="924.50" y="190.00" width="5.60" height="17.50" rx="0" fill="#b9e2c0" stroke="#48604e" stroke-width="0.6"/>
<polygon points="945.80,190.50 955.20,190.50 960.40,194.50 951.00,194.50" fill="#b9e2c0" stroke="#48604e" stroke-width="0.6" stroke-linejoin="round"/>
<polygon points="945.80,190.50 951.00,194.50 951.00,205.00 945.80,201.00" fill="#b9e2c0" stroke="#48604e" stroke-width="0.6" stroke-linejoin="round"/>
<rect x="951.00" y="194.50" width="9.40" height="10.50" rx="0" fill="#b9e2c0" stroke="#48604e" stroke-width="0.6"/>
<rect x="937.70" y="196.60" width="13.00" height="3.00" rx="0" fill="#a9d8f0" stroke="#2b4a5c" stroke-width="0.4"/>
<ellipse cx="934.50" cy="199.50" rx="2.00" ry="3.40" fill="#e9f6ec" stroke="#555" stroke-width="0.4"/>
<ellipse cx="931.00" cy="198.00" rx="4.60" ry="1.80" fill="#f07820" stroke="#c04a10" stroke-width="0.4"/>
<ellipse cx="927.50" cy="193.20" rx="0.70" ry="0.70" fill="#f59a20"/>
<ellipse cx="928.50" cy="203.00" rx="0.70" ry="0.70" fill="#f59a20"/>
<ellipse cx="926.50" cy="196.00" rx="0.70" ry="0.70" fill="#f59a20"/>
<ellipse cx="927.00" cy="200.50" rx="0.70" ry="0.70" fill="#f59a20"/>
<rect x="921.50" y="196.20" width="4.00" height="3.40" rx="0" fill="#333"/>
<ellipse cx="16.60" cy="253.20" rx="13.20" ry="13.40" fill="#79c0ea" stroke="#2b4a5c" stroke-width="0.6"/>
<polygon points="14.00,239.80 75.00,240.60 86.50,244.80 80.00,246.40 30.00,246.40 25.00,270.80 9.00,264.00" fill="#79c0ea"/>
<polyline points="15.00,239.80 75.00,240.60 86.50,244.80 80.00,246.40 40.00,246.40" fill="none" stroke="#2b4a5c" stroke-width="0.5" stroke-linecap="round" stroke-linejoin="round"/>
<polyline points="11.00,265.40 25.00,271.00" fill="none" stroke="#2b4a5c" stroke-width="0.6" stroke-linecap="round" stroke-linejoin="round"/>
<ellipse cx="29.00" cy="258.40" rx="13.00" ry="13.00" fill="#5f8ea8" stroke="#2b4a5c" stroke-width="0.6"/>
<line x1="35.47" y1="261.08" x2="41.01" y2="263.37" stroke="#2b4a5c" stroke-width="0.5"/>
<line x1="31.68" y1="264.87" x2="33.97" y2="270.41" stroke="#2b4a5c" stroke-width="0.5"/>
<line x1="26.32" y1="264.87" x2="24.03" y2="270.41" stroke="#2b4a5c" stroke-width="0.5"/>
<line x1="22.53" y1="261.08" x2="16.99" y2="263.37" stroke="#2b4a5c" stroke-width="0.5"/>
<line x1="22.53" y1="255.72" x2="16.99" y2="253.43" stroke="#2b4a5c" stroke-width="0.5"/>
<line x1="26.32" y1="251.93" x2="24.03" y2="246.39" stroke="#2b4a5c" stroke-width="0.5"/>
<line x1="31.68" y1="251.93" x2="33.97" y2="246.39" stroke="#2b4a5c" stroke-width="0.5"/>
<line x1="35.47" y1="255.72" x2="41.01" y2="253.43" stroke="#2b4a5c" stroke-width="0.5"/>
<ellipse cx="29.00" cy="258.40" rx="7.00" ry="7.00" fill="#1fa8e0" stroke="#2b4a5c" stroke-width="0.5"/>
<line x1="41.5" y1="238.4" x2="51" y2="244.8" stroke="#4a4a4e" stroke-width="4.0" stroke-linecap="round"/>
<line x1="41.5" y1="238.4" x2="51" y2="244.8" stroke="#8f8f93" stroke-width="3.0" stroke-linecap="round"/>
<ellipse cx="51.00" cy="244.80" rx="0.96" ry="1.26" fill="#a9a9ad" stroke="#4a4a4e" stroke-width="0.4"/>
<line x1="42.5" y1="240.4" x2="52.5" y2="246.8" stroke="#4a4a4e" stroke-width="4.0" stroke-linecap="round"/>
<line x1="42.5" y1="240.4" x2="52.5" y2="246.8" stroke="#8f8f93" stroke-width="3.0" stroke-linecap="round"/>
<ellipse cx="52.50" cy="246.80" rx="0.96" ry="1.26" fill="#a9a9ad" stroke="#4a4a4e" stroke-width="0.4"/>
<line x1="51.5" y1="238.4" x2="61" y2="244.8" stroke="#4a4a4e" stroke-width="4.0" stroke-linecap="round"/>
<line x1="51.5" y1="238.4" x2="61" y2="244.8" stroke="#8f8f93" stroke-width="3.0" stroke-linecap="round"/>
<ellipse cx="61.00" cy="244.80" rx="0.96" ry="1.26" fill="#a9a9ad" stroke="#4a4a4e" stroke-width="0.4"/>
<line x1="52.5" y1="240.4" x2="62.5" y2="246.8" stroke="#4a4a4e" stroke-width="4.0" stroke-linecap="round"/>
<line x1="52.5" y1="240.4" x2="62.5" y2="246.8" stroke="#8f8f93" stroke-width="3.0" stroke-linecap="round"/>
<ellipse cx="62.50" cy="246.80" rx="0.96" ry="1.26" fill="#a9a9ad" stroke="#4a4a4e" stroke-width="0.4"/>
<line x1="62" y1="242.6" x2="70.5" y2="247.2" stroke="#4a4a4e" stroke-width="4" stroke-linecap="round"/>
<line x1="62" y1="242.6" x2="70.5" y2="247.2" stroke="#8f8f93" stroke-width="3" stroke-linecap="round"/>
<ellipse cx="70.50" cy="247.20" rx="0.96" ry="1.26" fill="#a9a9ad" stroke="#4a4a4e" stroke-width="0.4"/>
<polygon points="83.00,223.20 96.00,228.20 96.00,238.80 83.00,233.60" fill="#b9e2c0" stroke="#48604e" stroke-width="0.6" stroke-linejoin="round"/>
<polygon points="96.00,228.20 100.00,227.00 100.00,237.40 96.00,238.80" fill="#9acfa5" stroke="#48604e" stroke-width="0.6" stroke-linejoin="round"/>
<polygon points="83.00,223.20 87.00,222.20 100.00,227.00 96.00,228.20" fill="#b9e2c0" stroke="#48604e" stroke-width="0.6" stroke-linejoin="round"/>
<polygon points="83.00,247.00 96.00,249.00 96.00,260.00 83.00,254.50" fill="#b9e2c0" stroke="#48604e" stroke-width="0.6" stroke-linejoin="round"/>
<polygon points="96.00,249.00 100.00,248.00 100.00,258.60 96.00,260.00" fill="#9acfa5" stroke="#48604e" stroke-width="0.6" stroke-linejoin="round"/>
<polygon points="83.00,247.00 87.00,246.20 100.00,248.00 96.00,249.00" fill="#b9e2c0" stroke="#48604e" stroke-width="0.6" stroke-linejoin="round"/>
<polygon points="87.40,241.80 96.00,240.70 127.00,240.70 127.00,246.40 100.00,246.40" fill="#79c0ea" stroke="#2b4a5c" stroke-width="0.4" stroke-linejoin="round"/>
<polygon points="107.90,233.40 136.00,233.40 150.00,240.70 148.70,241.80 162.40,241.80 162.40,244.80 130.60,244.80" fill="#b9e2c0" stroke="#48604e" stroke-width="0.6" stroke-linejoin="round"/>
<polygon points="107.90,233.40 130.60,240.70 130.60,260.00 107.90,251.60" fill="#b9e2c0" stroke="#48604e" stroke-width="0.6" stroke-linejoin="round"/>
<polygon points="130.60,240.70 150.00,240.70 148.70,241.80 148.70,244.80 162.40,244.80 162.40,260.00 130.60,260.00" fill="#b1dcb8" stroke="#48604e" stroke-width="0.6" stroke-linejoin="round"/>
<polygon points="111.00,238.20 125.00,242.80 125.00,245.00 111.00,240.40" fill="#5b8a66" stroke="#48604e" stroke-width="0.3" stroke-linejoin="round"/>
<polygon points="100.00,241.00 112.00,240.90 124.00,244.60 112.00,245.60 100.00,246.00" fill="#79c0ea" stroke="#2b4a5c" stroke-width="0.3" stroke-linejoin="round"/>
<polygon points="162.00,240.70 177.00,240.70 177.00,246.40 162.00,246.40" fill="#79c0ea" stroke="#2b4a5c" stroke-width="0.4" stroke-linejoin="round"/>
<polygon points="178.50,258.40 220.30,258.40 220.30,263.40 178.50,263.40" fill="#79c0ea" stroke="#2b4a5c" stroke-width="0.4" stroke-linejoin="round"/>
<polygon points="174.80,240.70 189.60,247.50 179.40,261.10 164.60,255.50" fill="#79c0ea" stroke="#2b4a5c" stroke-width="0.4" stroke-linejoin="round"/>
<polygon points="209.00,240.70 221.40,240.70 221.40,262.00 205.50,255.50" fill="#79c0ea" stroke="#2b4a5c" stroke-width="0.4" stroke-linejoin="round"/>
<ellipse cx="187.50" cy="247.30" rx="1.90" ry="1.90" fill="#8f8f93" stroke="#4a4a4e" stroke-width="0.5"/>
<ellipse cx="179.60" cy="261.00" rx="1.90" ry="1.90" fill="#8f8f93" stroke="#4a4a4e" stroke-width="0.5"/>
<line x1="205.5" y1="255" x2="218.5" y2="261" stroke="#4a4a4e" stroke-width="4" stroke-linecap="round"/>
<line x1="205.5" y1="255" x2="218.5" y2="261" stroke="#8f8f93" stroke-width="3" stroke-linecap="round"/>
<ellipse cx="218.50" cy="261.00" rx="0.96" ry="1.26" fill="#a9a9ad" stroke="#4a4a4e" stroke-width="0.4"/>
<rect x="209" y="240.8" width="53" height="5.4" fill="#79c0ea"/>
<line x1="209" y1="240.8" x2="262" y2="240.8" stroke="#2b4a5c" stroke-width="0.5"/><line x1="209" y1="246.2" x2="262" y2="246.2" stroke="#2b4a5c" stroke-width="0.5"/>
<ellipse cx="224.00" cy="247.50" rx="1.80" ry="1.80" fill="#8f8f93" stroke="#4a4a4e" stroke-width="0.5"/>
<line x1="225" y1="239" x2="238" y2="245.5" stroke="#4a4a4e" stroke-width="4" stroke-linecap="round"/>
<line x1="225" y1="239" x2="238" y2="245.5" stroke="#8f8f93" stroke-width="3" stroke-linecap="round"/>
<ellipse cx="238.00" cy="245.50" rx="0.96" ry="1.26" fill="#a9a9ad" stroke="#4a4a4e" stroke-width="0.4"/>
<polygon points="255.00,240.50 316.00,240.50 350.00,241.80 390.00,241.80 430.00,240.50 500.00,240.50 500.00,245.50 430.00,245.50 390.00,244.30 350.00,244.30 316.00,245.50 255.00,245.50" fill="#79c0ea" stroke="#2b4a5c" stroke-width="0.5" stroke-linejoin="round"/>
<rect x="498.00" y="240.50" width="318.00" height="5.00" rx="2.4" fill="#79c0ea" stroke="#2b4a5c" stroke-width="0.5"/>
<circle cx="254" cy="250.5" r="4.1850000000000005" fill="#8f8f93" stroke="#4a4a4e" stroke-width="0.6"/>
<circle cx="258" cy="252" r="4.5" fill="#8f8f93" stroke="#4a4a4e" stroke-width="0.6"/>
<circle cx="257.4" cy="252" r="1.6199999999999999" fill="#a9a9ad" stroke="#4a4a4e" stroke-width="0.5"/>
<circle cx="259.2" cy="252.5" r="1.3499999999999999" fill="#a9a9ad" stroke="#4a4a4e" stroke-width="0.5"/>
<circle cx="282" cy="248.0" r="4.1850000000000005" fill="#8f8f93" stroke="#4a4a4e" stroke-width="0.6"/>
<circle cx="286" cy="249.5" r="4.5" fill="#8f8f93" stroke="#4a4a4e" stroke-width="0.6"/>
<circle cx="285.4" cy="249.5" r="1.6199999999999999" fill="#a9a9ad" stroke="#4a4a4e" stroke-width="0.5"/>
<circle cx="287.2" cy="250.0" r="1.3499999999999999" fill="#a9a9ad" stroke="#4a4a4e" stroke-width="0.5"/>
<circle cx="303.5" cy="248.5" r="4.65" fill="#8f8f93" stroke="#4a4a4e" stroke-width="0.6"/>
<circle cx="307.5" cy="250" r="5" fill="#8f8f93" stroke="#4a4a4e" stroke-width="0.6"/>
<circle cx="306.9" cy="250" r="1.7999999999999998" fill="#a9a9ad" stroke="#4a4a4e" stroke-width="0.5"/>
<circle cx="308.7" cy="250.5" r="1.5" fill="#a9a9ad" stroke="#4a4a4e" stroke-width="0.5"/>
<rect x="250" y="240.5" width="70" height="5" fill="#79c0ea"/>
<line x1="250" y1="240.5" x2="320" y2="240.5" stroke="#2b4a5c" stroke-width="0.5"/><line x1="250" y1="245.5" x2="320" y2="245.5" stroke="#2b4a5c" stroke-width="0.5"/>
<circle cx="257" cy="234.5" r="5.952000000000001" fill="#8f8f93" stroke="#4a4a4e" stroke-width="0.6"/>
<circle cx="262" cy="236.5" r="6.4" fill="#8f8f93" stroke="#4a4a4e" stroke-width="0.6"/>
<circle cx="261.4" cy="236.5" r="2.304" fill="#a9a9ad" stroke="#4a4a4e" stroke-width="0.5"/>
<circle cx="263.2" cy="237.0" r="1.92" fill="#a9a9ad" stroke="#4a4a4e" stroke-width="0.5"/>
<circle cx="280" cy="234.3" r="6.324" fill="#8f8f93" stroke="#4a4a4e" stroke-width="0.6"/>
<circle cx="285" cy="236.3" r="6.8" fill="#8f8f93" stroke="#4a4a4e" stroke-width="0.6"/>
<circle cx="284.4" cy="236.3" r="2.448" fill="#a9a9ad" stroke="#4a4a4e" stroke-width="0.5"/>
<circle cx="286.2" cy="236.8" r="2.04" fill="#a9a9ad" stroke="#4a4a4e" stroke-width="0.5"/>
<circle cx="304.0" cy="232.8" r="8.742" fill="#8f8f93" stroke="#4a4a4e" stroke-width="0.6"/>
<circle cx="307.5" cy="234.8" r="9.4" fill="#8f8f93" stroke="#4a4a4e" stroke-width="0.6"/>
<circle cx="306.9" cy="234.8" r="3.384" fill="#a9a9ad" stroke="#4a4a4e" stroke-width="0.5"/>
<circle cx="308.7" cy="235.3" r="2.82" fill="#a9a9ad" stroke="#4a4a4e" stroke-width="0.5"/>
<ellipse cx="336" cy="238.2" rx="6.6" ry="2.9" fill="#8f8f93" stroke="#4a4a4e" stroke-width="0.6"/>
<ellipse cx="336" cy="236" rx="6.6" ry="2.9" fill="#8f8f93" stroke="#4a4a4e" stroke-width="0.6"/>
<ellipse cx="336" cy="235.7" rx="2.9699999999999998" ry="1.305" fill="#a9a9ad" stroke="#4a4a4e" stroke-width="0.5"/>
<ellipse cx="347.5" cy="245.7" rx="6.6" ry="2.9" fill="#8f8f93" stroke="#4a4a4e" stroke-width="0.6"/>
<ellipse cx="347.5" cy="243.5" rx="6.6" ry="2.9" fill="#8f8f93" stroke="#4a4a4e" stroke-width="0.6"/>
<ellipse cx="347.5" cy="243.2" rx="2.9699999999999998" ry="1.305" fill="#a9a9ad" stroke="#4a4a4e" stroke-width="0.5"/>
<ellipse cx="394" cy="238.2" rx="6.6" ry="2.9" fill="#8f8f93" stroke="#4a4a4e" stroke-width="0.6"/>
<ellipse cx="394" cy="236" rx="6.6" ry="2.9" fill="#8f8f93" stroke="#4a4a4e" stroke-width="0.6"/>
<ellipse cx="394" cy="235.7" rx="2.9699999999999998" ry="1.305" fill="#a9a9ad" stroke="#4a4a4e" stroke-width="0.5"/>
<ellipse cx="405" cy="245.7" rx="6.6" ry="2.9" fill="#8f8f93" stroke="#4a4a4e" stroke-width="0.6"/>
<ellipse cx="405" cy="243.5" rx="6.6" ry="2.9" fill="#8f8f93" stroke="#4a4a4e" stroke-width="0.6"/>
<ellipse cx="405" cy="243.2" rx="2.9699999999999998" ry="1.305" fill="#a9a9ad" stroke="#4a4a4e" stroke-width="0.5"/>
<circle cx="419.0" cy="248.8" r="6.882000000000001" fill="#8f8f93" stroke="#4a4a4e" stroke-width="0.6"/>
<circle cx="423.5" cy="250.3" r="7.4" fill="#8f8f93" stroke="#4a4a4e" stroke-width="0.6"/>
<circle cx="422.9" cy="250.3" r="2.664" fill="#a9a9ad" stroke="#4a4a4e" stroke-width="0.5"/>
<circle cx="424.7" cy="250.8" r="2.22" fill="#a9a9ad" stroke="#4a4a4e" stroke-width="0.5"/>
<circle cx="418.0" cy="232.8" r="7.812000000000001" fill="#8f8f93" stroke="#4a4a4e" stroke-width="0.6"/>
<circle cx="422.5" cy="234.8" r="8.4" fill="#8f8f93" stroke="#4a4a4e" stroke-width="0.6"/>
<circle cx="421.9" cy="234.8" r="3.024" fill="#a9a9ad" stroke="#4a4a4e" stroke-width="0.5"/>
<circle cx="423.7" cy="235.3" r="2.52" fill="#a9a9ad" stroke="#4a4a4e" stroke-width="0.5"/>
<ellipse cx="434" cy="238.2" rx="6.2" ry="2.9" fill="#8f8f93" stroke="#4a4a4e" stroke-width="0.6"/>
<ellipse cx="434" cy="236" rx="6.2" ry="2.9" fill="#8f8f93" stroke="#4a4a4e" stroke-width="0.6"/>
<ellipse cx="434" cy="235.7" rx="2.79" ry="1.305" fill="#a9a9ad" stroke="#4a4a4e" stroke-width="0.5"/>
<ellipse cx="444" cy="245.7" rx="6.2" ry="2.9" fill="#8f8f93" stroke="#4a4a4e" stroke-width="0.6"/>
<ellipse cx="444" cy="243.5" rx="6.2" ry="2.9" fill="#8f8f93" stroke="#4a4a4e" stroke-width="0.6"/>
<ellipse cx="444" cy="243.2" rx="2.79" ry="1.305" fill="#a9a9ad" stroke="#4a4a4e" stroke-width="0.5"/>
<circle cx="456.0" cy="248.8" r="6.882000000000001" fill="#8f8f93" stroke="#4a4a4e" stroke-width="0.6"/>
<circle cx="460.5" cy="250.3" r="7.4" fill="#8f8f93" stroke="#4a4a4e" stroke-width="0.6"/>
<circle cx="459.9" cy="250.3" r="2.664" fill="#a9a9ad" stroke="#4a4a4e" stroke-width="0.5"/>
<circle cx="461.7" cy="250.8" r="2.22" fill="#a9a9ad" stroke="#4a4a4e" stroke-width="0.5"/>
<circle cx="455.0" cy="232.8" r="7.812000000000001" fill="#8f8f93" stroke="#4a4a4e" stroke-width="0.6"/>
<circle cx="459.5" cy="234.8" r="8.4" fill="#8f8f93" stroke="#4a4a4e" stroke-width="0.6"/>
<circle cx="458.9" cy="234.8" r="3.024" fill="#a9a9ad" stroke="#4a4a4e" stroke-width="0.5"/>
<circle cx="460.7" cy="235.3" r="2.52" fill="#a9a9ad" stroke="#4a4a4e" stroke-width="0.5"/>
<rect x="478.00" y="227.00" width="2.40" height="19.00" rx="0" fill="#b9e2c0" stroke="#48604e" stroke-width="0.6"/>
<ellipse cx="479.50" cy="244.50" rx="1.60" ry="2.20" fill="#d8e8a0" stroke="#48604e" stroke-width="0.4"/>
<ellipse cx="499" cy="240.7" rx="6" ry="3.2" fill="#8f8f93" stroke="#4a4a4e" stroke-width="0.6"/>
<ellipse cx="499" cy="238.5" rx="6" ry="3.2" fill="#8f8f93" stroke="#4a4a4e" stroke-width="0.6"/>
<ellipse cx="499" cy="238.2" rx="2.7" ry="1.4400000000000002" fill="#a9a9ad" stroke="#4a4a4e" stroke-width="0.5"/>
<circle cx="506" cy="233.0" r="7" fill="#8f8f93" stroke="#4a4a4e" stroke-width="0.6"/>
<circle cx="512" cy="233.5" r="7.6" fill="#8f8f93" stroke="#4a4a4e" stroke-width="0.6"/>
<circle cx="511.4" cy="233.5" r="2.7359999999999998" fill="#a9a9ad" stroke="#4a4a4e" stroke-width="0.5"/>
<circle cx="513.2" cy="234.0" r="2.28" fill="#a9a9ad" stroke="#4a4a4e" stroke-width="0.5"/>
<ellipse cx="513" cy="248.7" rx="8.5" ry="3.6" fill="#8f8f93" stroke="#4a4a4e" stroke-width="0.6"/>
<ellipse cx="513" cy="246.5" rx="8.5" ry="3.6" fill="#8f8f93" stroke="#4a4a4e" stroke-width="0.6"/>
<ellipse cx="513" cy="246.2" rx="3.825" ry="1.62" fill="#a9a9ad" stroke="#4a4a4e" stroke-width="0.5"/>
<rect x="573.00" y="241.60" width="21.00" height="2.80" rx="0" fill="#2b7f9f" stroke="#2b4a5c" stroke-width="0.4"/>
<rect x="583.00" y="242.10" width="4.00" height="1.60" rx="0" fill="#e8a020"/>
<polygon points="586.50,240.00 596.00,222.00 598.50,223.20 589.50,241.00" fill="#b9e2c0" stroke="#48604e" stroke-width="0.6" stroke-linejoin="round"/>
<path d="M584,239.5 q-2,-4 1,-6 q3,0 1,3 M583,234.5 q-1,-3 2,-4" fill="none" stroke="#2b4a5c" stroke-width="0.7" stroke-linecap="round" stroke-linejoin="round"/>
<rect x="623.00" y="216.20" width="4.00" height="11.50" rx="1.4" fill="#b9e2c0" stroke="#48604e" stroke-width="0.55"/>
<path d="M623.6,227.7 L624.4,231.7 L625.6,231.7 L626.4,227.7 Z" fill="#d9ead0" stroke="#555" stroke-width="0.4" stroke-linecap="round" stroke-linejoin="round"/>
<line x1="625" y1="232.2" x2="621.8" y2="237.2" stroke="#666" stroke-width="0.45"/>
<line x1="625" y1="232.2" x2="623.4" y2="237.2" stroke="#666" stroke-width="0.45"/>
<line x1="625" y1="232.2" x2="625" y2="237.2" stroke="#666" stroke-width="0.45"/>
<line x1="625" y1="232.2" x2="626.6" y2="237.2" stroke="#666" stroke-width="0.45"/>
<line x1="625" y1="232.2" x2="628.2" y2="237.2" stroke="#666" stroke-width="0.45"/>
<rect x="631.50" y="216.20" width="4.00" height="11.50" rx="1.4" fill="#b9e2c0" stroke="#48604e" stroke-width="0.55"/>
<path d="M632.1,227.7 L632.9,231.7 L634.1,231.7 L634.9,227.7 Z" fill="#d9ead0" stroke="#555" stroke-width="0.4" stroke-linecap="round" stroke-linejoin="round"/>
<line x1="633.5" y1="232.2" x2="630.3" y2="237.2" stroke="#666" stroke-width="0.45"/>
<line x1="633.5" y1="232.2" x2="631.9" y2="237.2" stroke="#666" stroke-width="0.45"/>
<line x1="633.5" y1="232.2" x2="633.5" y2="237.2" stroke="#666" stroke-width="0.45"/>
<line x1="633.5" y1="232.2" x2="635.1" y2="237.2" stroke="#666" stroke-width="0.45"/>
<line x1="633.5" y1="232.2" x2="636.7" y2="237.2" stroke="#666" stroke-width="0.45"/>
<rect x="640.00" y="216.20" width="4.00" height="11.50" rx="1.4" fill="#b9e2c0" stroke="#48604e" stroke-width="0.55"/>
<path d="M640.6,227.7 L641.4,231.7 L642.6,231.7 L643.4,227.7 Z" fill="#d9ead0" stroke="#555" stroke-width="0.4" stroke-linecap="round" stroke-linejoin="round"/>
<line x1="642" y1="232.2" x2="638.8" y2="237.2" stroke="#666" stroke-width="0.45"/>
<line x1="642" y1="232.2" x2="640.4" y2="237.2" stroke="#666" stroke-width="0.45"/>
<line x1="642" y1="232.2" x2="642" y2="237.2" stroke="#666" stroke-width="0.45"/>
<line x1="642" y1="232.2" x2="643.6" y2="237.2" stroke="#666" stroke-width="0.45"/>
<line x1="642" y1="232.2" x2="645.2" y2="237.2" stroke="#666" stroke-width="0.45"/>
<rect x="648.50" y="216.20" width="4.00" height="11.50" rx="1.4" fill="#b9e2c0" stroke="#48604e" stroke-width="0.55"/>
<path d="M649.1,227.7 L649.9,231.7 L651.1,231.7 L651.9,227.7 Z" fill="#d9ead0" stroke="#555" stroke-width="0.4" stroke-linecap="round" stroke-linejoin="round"/>
<line x1="650.5" y1="232.2" x2="647.3" y2="237.2" stroke="#666" stroke-width="0.45"/>
<line x1="650.5" y1="232.2" x2="648.9" y2="237.2" stroke="#666" stroke-width="0.45"/>
<line x1="650.5" y1="232.2" x2="650.5" y2="237.2" stroke="#666" stroke-width="0.45"/>
<line x1="650.5" y1="232.2" x2="652.1" y2="237.2" stroke="#666" stroke-width="0.45"/>
<line x1="650.5" y1="232.2" x2="653.7" y2="237.2" stroke="#666" stroke-width="0.45"/>
<ellipse cx="681" cy="238.2" rx="6.6" ry="2.9" fill="#8f8f93" stroke="#4a4a4e" stroke-width="0.6"/>
<ellipse cx="681" cy="236" rx="6.6" ry="2.9" fill="#8f8f93" stroke="#4a4a4e" stroke-width="0.6"/>
<ellipse cx="681" cy="235.7" rx="2.9699999999999998" ry="1.305" fill="#a9a9ad" stroke="#4a4a4e" stroke-width="0.5"/>
<ellipse cx="692" cy="245.7" rx="6.6" ry="2.9" fill="#8f8f93" stroke="#4a4a4e" stroke-width="0.6"/>
<ellipse cx="692" cy="243.5" rx="6.6" ry="2.9" fill="#8f8f93" stroke="#4a4a4e" stroke-width="0.6"/>
<ellipse cx="692" cy="243.2" rx="2.9699999999999998" ry="1.305" fill="#a9a9ad" stroke="#4a4a4e" stroke-width="0.5"/>
<circle cx="705.5" cy="248.5" r="6.882000000000001" fill="#8f8f93" stroke="#4a4a4e" stroke-width="0.6"/>
<circle cx="710" cy="250" r="7.4" fill="#8f8f93" stroke="#4a4a4e" stroke-width="0.6"/>
<circle cx="709.4" cy="250" r="2.664" fill="#a9a9ad" stroke="#4a4a4e" stroke-width="0.5"/>
<circle cx="711.2" cy="250.5" r="2.22" fill="#a9a9ad" stroke="#4a4a4e" stroke-width="0.5"/>
<circle cx="704.5" cy="232" r="7.812000000000001" fill="#8f8f93" stroke="#4a4a4e" stroke-width="0.6"/>
<circle cx="709" cy="234" r="8.4" fill="#8f8f93" stroke="#4a4a4e" stroke-width="0.6"/>
<circle cx="708.4" cy="234" r="3.024" fill="#a9a9ad" stroke="#4a4a4e" stroke-width="0.5"/>
<circle cx="710.2" cy="234.5" r="2.52" fill="#a9a9ad" stroke="#4a4a4e" stroke-width="0.5"/>
<ellipse cx="720" cy="238.2" rx="6.2" ry="2.9" fill="#8f8f93" stroke="#4a4a4e" stroke-width="0.6"/>
<ellipse cx="720" cy="236" rx="6.2" ry="2.9" fill="#8f8f93" stroke="#4a4a4e" stroke-width="0.6"/>
<ellipse cx="720" cy="235.7" rx="2.79" ry="1.305" fill="#a9a9ad" stroke="#4a4a4e" stroke-width="0.5"/>
<ellipse cx="730.5" cy="245.7" rx="6.2" ry="2.9" fill="#8f8f93" stroke="#4a4a4e" stroke-width="0.6"/>
<ellipse cx="730.5" cy="243.5" rx="6.2" ry="2.9" fill="#8f8f93" stroke="#4a4a4e" stroke-width="0.6"/>
<ellipse cx="730.5" cy="243.2" rx="2.79" ry="1.305" fill="#a9a9ad" stroke="#4a4a4e" stroke-width="0.5"/>
<circle cx="742.5" cy="248.5" r="6.882000000000001" fill="#8f8f93" stroke="#4a4a4e" stroke-width="0.6"/>
<circle cx="747" cy="250" r="7.4" fill="#8f8f93" stroke="#4a4a4e" stroke-width="0.6"/>
<circle cx="746.4" cy="250" r="2.664" fill="#a9a9ad" stroke="#4a4a4e" stroke-width="0.5"/>
<circle cx="748.2" cy="250.5" r="2.22" fill="#a9a9ad" stroke="#4a4a4e" stroke-width="0.5"/>
<circle cx="741.5" cy="232" r="7.812000000000001" fill="#8f8f93" stroke="#4a4a4e" stroke-width="0.6"/>
<circle cx="746" cy="234" r="8.4" fill="#8f8f93" stroke="#4a4a4e" stroke-width="0.6"/>
<circle cx="745.4" cy="234" r="3.024" fill="#a9a9ad" stroke="#4a4a4e" stroke-width="0.5"/>
<circle cx="747.2" cy="234.5" r="2.52" fill="#a9a9ad" stroke="#4a4a4e" stroke-width="0.5"/>
<polygon points="765.00,248.60 782.00,246.20 790.00,249.00 790.00,253.20 773.00,251.30 771.50,253.60 766.00,251.40" fill="#b9e2c0" stroke="#48604e" stroke-width="0.6" stroke-linejoin="round"/>
<path d="M786.5,235.2 L796.5,235.2 Q801,235.2 801,239.5 L801,253.2 L789.5,253.2 L786.5,251.4 Z" fill="#b9e2c0" stroke="#48604e" stroke-width="0.6" stroke-linecap="round" stroke-linejoin="round"/>
<ellipse cx="786.50" cy="243.30" rx="5.30" ry="8.10" fill="#b9e2c0" stroke="#48604e" stroke-width="0.6"/>
<path d="M790.5,238 L790.5,253" fill="none" stroke="#48604e" stroke-width="0.45" stroke-linecap="round" stroke-linejoin="round"/>
<ellipse cx="786.30" cy="243.20" rx="2.40" ry="3.60" fill="#e4f3e6" stroke="#48604e" stroke-width="0.45"/>
<rect x="770.00" y="240.50" width="17.00" height="5.00" rx="0" fill="#79c0ea" stroke="#2b4a5c" stroke-width="0.5"/>
<path d="M786.8,240.5 A2.4,3.6 0 0 1 786.8,245.5 Z" fill="#79c0ea" stroke="#2b4a5c" stroke-width="0.3" stroke-linecap="round" stroke-linejoin="round"/>
<rect x="801.00" y="240.50" width="15.00" height="5.00" rx="2.4" fill="#79c0ea" stroke="#2b4a5c" stroke-width="0.5"/>
<rect x="800.60" y="241.00" width="3.00" height="4.00" rx="0" fill="#79c0ea"/>
<rect x="840.3" y="240.8" width="57.4" height="4.4" rx="1.6" ry="2.2" fill="#79c0ea" stroke="#2b4a5c" stroke-width="0.8"/>
<ellipse cx="841.5" cy="243" rx="1.2" ry="1.8" fill="#1fa8e0" stroke="#2b4a5c" stroke-width="0.6"/>
<rect x="931.3" y="240.8" width="93.4" height="4.4" rx="0.6" ry="2.2" fill="#79c0ea" stroke="#2b4a5c" stroke-width="0.8"/>
<ellipse cx="932.5" cy="243" rx="1.2" ry="1.8" fill="#1fa8e0" stroke="#2b4a5c" stroke-width="0.6"/>
<ellipse cx="1005.00" cy="243.50" rx="5.20" ry="9.60" fill="#8ea392" stroke="#4c5c50" stroke-width="0.5"/>
<rect x="997.90" y="233.90" width="7.10" height="19.20" rx="0" fill="#8ea392"/>
<line x1="997.9" y1="233.9" x2="1005.0" y2="233.9" stroke="#4c5c50" stroke-width="0.5"/><line x1="997.9" y1="253.1" x2="1005.0" y2="253.1" stroke="#4c5c50" stroke-width="0.5"/>
<path d="M1000.5,234 q4.6,9.5 0,19" fill="none" stroke="#7b9080" stroke-width="0.5" stroke-linecap="round" stroke-linejoin="round"/>
<path d="M1003.0,234 q4.6,9.5 0,19" fill="none" stroke="#7b9080" stroke-width="0.5" stroke-linecap="round" stroke-linejoin="round"/>
<path d="M1005.5,234 q4.6,9.5 0,19" fill="none" stroke="#7b9080" stroke-width="0.5" stroke-linecap="round" stroke-linejoin="round"/>
<ellipse cx="997.90" cy="243.50" rx="5.20" ry="9.60" fill="#cde2ce" stroke="#4c5c50" stroke-width="0.5"/>
<ellipse cx="998.30" cy="243.30" rx="2.00" ry="3.40" fill="#eef7ee" stroke="#4c5c50" stroke-width="0.4"/>
<rect x="985.00" y="240.50" width="10.00" height="5.00" rx="0" fill="#79c0ea" stroke="#2b4a5c" stroke-width="0.5"/>
<ellipse cx="983.50" cy="243.50" rx="5.20" ry="9.60" fill="#8ea392" stroke="#4c5c50" stroke-width="0.5"/>
<rect x="976.40" y="233.90" width="7.10" height="19.20" rx="0" fill="#8ea392"/>
<line x1="976.4" y1="233.9" x2="983.5" y2="233.9" stroke="#4c5c50" stroke-width="0.5"/><line x1="976.4" y1="253.1" x2="983.5" y2="253.1" stroke="#4c5c50" stroke-width="0.5"/>
<path d="M979,234 q4.6,9.5 0,19" fill="none" stroke="#7b9080" stroke-width="0.5" stroke-linecap="round" stroke-linejoin="round"/>
<path d="M981.5,234 q4.6,9.5 0,19" fill="none" stroke="#7b9080" stroke-width="0.5" stroke-linecap="round" stroke-linejoin="round"/>
<path d="M984,234 q4.6,9.5 0,19" fill="none" stroke="#7b9080" stroke-width="0.5" stroke-linecap="round" stroke-linejoin="round"/>
<ellipse cx="976.40" cy="243.50" rx="5.20" ry="9.60" fill="#cde2ce" stroke="#4c5c50" stroke-width="0.5"/>
<ellipse cx="976.80" cy="243.30" rx="2.00" ry="3.40" fill="#eef7ee" stroke="#4c5c50" stroke-width="0.4"/>
<rect x="964.00" y="240.50" width="10.00" height="5.00" rx="0" fill="#79c0ea" stroke="#2b4a5c" stroke-width="0.5"/>
<ellipse cx="962.50" cy="243.50" rx="5.20" ry="9.60" fill="#8ea392" stroke="#4c5c50" stroke-width="0.5"/>
<rect x="955.40" y="233.90" width="7.10" height="19.20" rx="0" fill="#8ea392"/>
<line x1="955.4" y1="233.9" x2="962.5" y2="233.9" stroke="#4c5c50" stroke-width="0.5"/><line x1="955.4" y1="253.1" x2="962.5" y2="253.1" stroke="#4c5c50" stroke-width="0.5"/>
<path d="M958,234 q4.6,9.5 0,19" fill="none" stroke="#7b9080" stroke-width="0.5" stroke-linecap="round" stroke-linejoin="round"/>
<path d="M960.5,234 q4.6,9.5 0,19" fill="none" stroke="#7b9080" stroke-width="0.5" stroke-linecap="round" stroke-linejoin="round"/>
<path d="M963,234 q4.6,9.5 0,19" fill="none" stroke="#7b9080" stroke-width="0.5" stroke-linecap="round" stroke-linejoin="round"/>
<ellipse cx="955.40" cy="243.50" rx="5.20" ry="9.60" fill="#cde2ce" stroke="#4c5c50" stroke-width="0.5"/>
<ellipse cx="955.80" cy="243.30" rx="2.00" ry="3.40" fill="#eef7ee" stroke="#4c5c50" stroke-width="0.4"/>
<rect x="932.00" y="240.50" width="21.50" height="5.00" rx="2" fill="#79c0ea" stroke="#2b4a5c" stroke-width="0.5"/>
<ellipse cx="933.20" cy="243.00" rx="1.20" ry="2.00" fill="#1fa8e0" stroke="#2b4a5c" stroke-width="0.5"/>
<rect x="31.40" y="318.20" width="138.80" height="5.30" rx="1.6" fill="#79c0ea" stroke="#2b4a5c" stroke-width="0.6"/>
<ellipse cx="32.80" cy="320.85" rx="1.20" ry="2.00" fill="#1fa8e0" stroke="#2b4a5c" stroke-width="0.5"/>
<ellipse cx="71.80" cy="313.70" rx="5.20" ry="5.20" fill="#8f8f93" stroke="#4a4a4e" stroke-width="0.6"/>
<ellipse cx="74.00" cy="314.50" rx="5.20" ry="5.20" fill="#8f8f93" stroke="#4a4a4e" stroke-width="0.6"/>
<ellipse cx="74.40" cy="314.50" rx="2.34" ry="2.34" fill="#a9a9ad" stroke="#4a4a4e" stroke-width="0.5"/>
<ellipse cx="75.00" cy="314.70" rx="1.30" ry="1.30" fill="#a9a9ad" stroke="#4a4a4e" stroke-width="0.4"/>
<ellipse cx="82.80" cy="315.00" rx="3.60" ry="3.60" fill="#8f8f93" stroke="#4a4a4e" stroke-width="0.6"/>
<ellipse cx="85.00" cy="315.80" rx="3.60" ry="3.60" fill="#8f8f93" stroke="#4a4a4e" stroke-width="0.6"/>
<ellipse cx="85.40" cy="315.80" rx="1.62" ry="1.62" fill="#a9a9ad" stroke="#4a4a4e" stroke-width="0.5"/>
<ellipse cx="86.00" cy="316.00" rx="0.90" ry="0.90" fill="#a9a9ad" stroke="#4a4a4e" stroke-width="0.4"/>
<ellipse cx="91.80" cy="314.50" rx="5.20" ry="5.20" fill="#8f8f93" stroke="#4a4a4e" stroke-width="0.6"/>
<ellipse cx="94.00" cy="315.30" rx="5.20" ry="5.20" fill="#8f8f93" stroke="#4a4a4e" stroke-width="0.6"/>
<ellipse cx="94.40" cy="315.30" rx="2.34" ry="2.34" fill="#a9a9ad" stroke="#4a4a4e" stroke-width="0.5"/>
<ellipse cx="95.00" cy="315.50" rx="1.30" ry="1.30" fill="#a9a9ad" stroke="#4a4a4e" stroke-width="0.4"/>
<ellipse cx="106.10" cy="313.70" rx="5.50" ry="5.50" fill="#8f8f93" stroke="#4a4a4e" stroke-width="0.6"/>
<ellipse cx="108.30" cy="314.50" rx="5.50" ry="5.50" fill="#8f8f93" stroke="#4a4a4e" stroke-width="0.6"/>
<ellipse cx="108.70" cy="314.50" rx="2.48" ry="2.48" fill="#a9a9ad" stroke="#4a4a4e" stroke-width="0.5"/>
<ellipse cx="109.30" cy="314.70" rx="1.38" ry="1.38" fill="#a9a9ad" stroke="#4a4a4e" stroke-width="0.4"/>
<ellipse cx="66.30" cy="325.20" rx="4.60" ry="4.60" fill="#8f8f93" stroke="#4a4a4e" stroke-width="0.6"/>
<ellipse cx="68.50" cy="326.00" rx="4.60" ry="4.60" fill="#8f8f93" stroke="#4a4a4e" stroke-width="0.6"/>
<ellipse cx="68.90" cy="326.00" rx="2.07" ry="2.07" fill="#a9a9ad" stroke="#4a4a4e" stroke-width="0.5"/>
<ellipse cx="69.50" cy="326.20" rx="1.15" ry="1.15" fill="#a9a9ad" stroke="#4a4a4e" stroke-width="0.4"/>
<ellipse cx="75.80" cy="323.80" rx="4.00" ry="4.00" fill="#8f8f93" stroke="#4a4a4e" stroke-width="0.6"/>
<ellipse cx="78.00" cy="324.60" rx="4.00" ry="4.00" fill="#8f8f93" stroke="#4a4a4e" stroke-width="0.6"/>
<ellipse cx="78.40" cy="324.60" rx="1.80" ry="1.80" fill="#a9a9ad" stroke="#4a4a4e" stroke-width="0.5"/>
<ellipse cx="79.00" cy="324.80" rx="1.00" ry="1.00" fill="#a9a9ad" stroke="#4a4a4e" stroke-width="0.4"/>
<ellipse cx="87.80" cy="326.00" rx="5.00" ry="5.00" fill="#8f8f93" stroke="#4a4a4e" stroke-width="0.6"/>
<ellipse cx="90.00" cy="326.80" rx="5.00" ry="5.00" fill="#8f8f93" stroke="#4a4a4e" stroke-width="0.6"/>
<ellipse cx="90.40" cy="326.80" rx="2.25" ry="2.25" fill="#a9a9ad" stroke="#4a4a4e" stroke-width="0.5"/>
<ellipse cx="91.00" cy="327.00" rx="1.25" ry="1.25" fill="#a9a9ad" stroke="#4a4a4e" stroke-width="0.4"/>
<ellipse cx="101.30" cy="325.20" rx="4.20" ry="4.20" fill="#8f8f93" stroke="#4a4a4e" stroke-width="0.6"/>
<ellipse cx="103.50" cy="326.00" rx="4.20" ry="4.20" fill="#8f8f93" stroke="#4a4a4e" stroke-width="0.6"/>
<ellipse cx="103.90" cy="326.00" rx="1.89" ry="1.89" fill="#a9a9ad" stroke="#4a4a4e" stroke-width="0.5"/>
<ellipse cx="104.50" cy="326.20" rx="1.05" ry="1.05" fill="#a9a9ad" stroke="#4a4a4e" stroke-width="0.4"/>
<ellipse cx="109.80" cy="324.40" rx="4.50" ry="4.50" fill="#8f8f93" stroke="#4a4a4e" stroke-width="0.6"/>
<ellipse cx="112.00" cy="325.20" rx="4.50" ry="4.50" fill="#8f8f93" stroke="#4a4a4e" stroke-width="0.6"/>
<ellipse cx="112.40" cy="325.20" rx="2.02" ry="2.02" fill="#a9a9ad" stroke="#4a4a4e" stroke-width="0.5"/>
<ellipse cx="113.00" cy="325.40" rx="1.12" ry="1.12" fill="#a9a9ad" stroke="#4a4a4e" stroke-width="0.4"/>
<rect x="173.20" y="318.20" width="21.40" height="5.30" rx="2" fill="#79c0ea" stroke="#2b4a5c" stroke-width="0.6"/>
<ellipse cx="174.60" cy="320.85" rx="1.20" ry="2.00" fill="#1fa8e0" stroke="#2b4a5c" stroke-width="0.5"/>
<path d="M168,312 L170.6,318 Q172.4,322 173,318.5 L174.6,309 L172,304.5 Z" fill="#b9e2c0" stroke="#48604e" stroke-width="0.55" stroke-linecap="round" stroke-linejoin="round"/>
<ellipse cx="171.20" cy="307.80" rx="3.90" ry="4.30" fill="#b9e2c0" stroke="#48604e" stroke-width="0.55"/>
<rect x="159.20" y="309.10" width="10.40" height="8.30" rx="0" fill="#b9e2c0"/>
<line x1="159.2" y1="309.1" x2="168" y2="309.1" stroke="#48604e" stroke-width="0.55"/><line x1="159.2" y1="317.4" x2="169.5" y2="317.4" stroke="#48604e" stroke-width="0.55"/>
<ellipse cx="168.60" cy="313.30" rx="2.60" ry="4.10" fill="#b9e2c0" stroke="#48604e" stroke-width="0.5"/>
<ellipse cx="159.20" cy="313.30" rx="3.00" ry="4.15" fill="#b9e2c0" stroke="#48604e" stroke-width="0.55"/>
<ellipse cx="159.60" cy="313.30" rx="1.70" ry="2.70" fill="#d4ecd8" stroke="#48604e" stroke-width="0.45"/>
<ellipse cx="168.80" cy="308.30" rx="4.30" ry="4.40" fill="#b9e2c0" stroke="#48604e" stroke-width="0.55"/>
<rect x="239.50" y="322.20" width="15.50" height="6.60" rx="2.6" fill="#8f8f93" stroke="#4a4a4e" stroke-width="0.6"/>
<ellipse cx="242.70" cy="325.50" rx="2.60" ry="3.00" fill="#a9a9ad" stroke="#4a4a4e" stroke-width="0.5"/>
<ellipse cx="242.50" cy="325.50" rx="1.00" ry="1.20" fill="#8f8f93" stroke="#4a4a4e" stroke-width="0.4"/>
<rect x="257.50" y="322.20" width="15.50" height="6.60" rx="2.6" fill="#8f8f93" stroke="#4a4a4e" stroke-width="0.6"/>
<ellipse cx="260.70" cy="325.50" rx="2.60" ry="3.00" fill="#a9a9ad" stroke="#4a4a4e" stroke-width="0.5"/>
<ellipse cx="260.50" cy="325.50" rx="1.00" ry="1.20" fill="#8f8f93" stroke="#4a4a4e" stroke-width="0.4"/>
<rect x="275.50" y="322.20" width="15.50" height="6.60" rx="2.6" fill="#8f8f93" stroke="#4a4a4e" stroke-width="0.6"/>
<ellipse cx="278.70" cy="325.50" rx="2.60" ry="3.00" fill="#a9a9ad" stroke="#4a4a4e" stroke-width="0.5"/>
<ellipse cx="278.50" cy="325.50" rx="1.00" ry="1.20" fill="#8f8f93" stroke="#4a4a4e" stroke-width="0.4"/>
<rect x="224.50" y="318.00" width="80.00" height="5.20" rx="2" fill="#79c0ea" stroke="#2b4a5c" stroke-width="0.5"/>
<ellipse cx="225.80" cy="320.60" rx="1.20" ry="2.00" fill="#1fa8e0" stroke="#2b4a5c" stroke-width="0.5"/>
<rect x="239.00" y="311.80" width="15.50" height="7.20" rx="2.6" fill="#8f8f93" stroke="#4a4a4e" stroke-width="0.6"/>
<ellipse cx="251.30" cy="315.40" rx="2.60" ry="3.00" fill="#a9a9ad" stroke="#4a4a4e" stroke-width="0.5"/>
<ellipse cx="251.50" cy="315.40" rx="1.00" ry="1.20" fill="#8f8f93" stroke="#4a4a4e" stroke-width="0.4"/>
<rect x="257.00" y="311.80" width="15.50" height="7.20" rx="2.6" fill="#8f8f93" stroke="#4a4a4e" stroke-width="0.6"/>
<ellipse cx="269.30" cy="315.40" rx="2.60" ry="3.00" fill="#a9a9ad" stroke="#4a4a4e" stroke-width="0.5"/>
<ellipse cx="269.50" cy="315.40" rx="1.00" ry="1.20" fill="#8f8f93" stroke="#4a4a4e" stroke-width="0.4"/>
<rect x="275.00" y="311.80" width="15.50" height="7.20" rx="2.6" fill="#8f8f93" stroke="#4a4a4e" stroke-width="0.6"/>
<ellipse cx="287.30" cy="315.40" rx="2.60" ry="3.00" fill="#a9a9ad" stroke="#4a4a4e" stroke-width="0.5"/>
<ellipse cx="287.50" cy="315.40" rx="1.00" ry="1.20" fill="#8f8f93" stroke="#4a4a4e" stroke-width="0.4"/>
<rect x="312.3" y="318.2" width="48.4" height="4.6000000000000005" rx="0.6" ry="2.3000000000000003" fill="#79c0ea" stroke="#2b4a5c" stroke-width="0.8"/>
<ellipse cx="313.5" cy="320.5" rx="1.2" ry="1.9000000000000001" fill="#1fa8e0" stroke="#2b4a5c" stroke-width="0.6"/>
<polygon points="360.60,302.50 362.80,303.00 362.80,317.60 360.60,317.10" fill="#b9e2c0" stroke="#48604e" stroke-width="0.6" stroke-linejoin="round"/>
<polygon points="362.80,303.00 364.90,303.70 364.90,318.30 362.80,317.60" fill="#9acfa5" stroke="#48604e" stroke-width="0.6" stroke-linejoin="round"/>
<polygon points="360.60,323.90 362.80,324.40 362.80,338.60 360.60,338.10" fill="#b9e2c0" stroke="#48604e" stroke-width="0.6" stroke-linejoin="round"/>
<polygon points="362.80,324.40 364.90,325.10 364.90,339.30 362.80,338.60" fill="#9acfa5" stroke="#48604e" stroke-width="0.6" stroke-linejoin="round"/>
<polygon points="419.20,354.30 508.60,354.30 508.60,358.10 419.20,358.10" fill="#b9e2c0" stroke="#48604e" stroke-width="0.6" stroke-linejoin="round"/>
<polygon points="399.00,346.80 402.60,347.00 422.90,354.30 419.20,354.30 419.20,358.10 399.00,350.00" fill="#b9e2c0" stroke="#48604e" stroke-width="0.6" stroke-linejoin="round"/>
<line x1="401.60" y1="349.00" x2="403.10" y2="347.70" stroke="#48604e" stroke-width="0.5"/>
<line x1="404.90" y1="350.30" x2="406.40" y2="349.00" stroke="#48604e" stroke-width="0.5"/>
<line x1="408.20" y1="351.60" x2="409.70" y2="350.30" stroke="#48604e" stroke-width="0.5"/>
<line x1="411.50" y1="352.90" x2="413.00" y2="351.60" stroke="#48604e" stroke-width="0.5"/>
<line x1="414.80" y1="354.20" x2="416.30" y2="352.90" stroke="#48604e" stroke-width="0.5"/>
<line x1="418.10" y1="355.50" x2="419.60" y2="354.20" stroke="#48604e" stroke-width="0.5"/>
<polygon points="418.60,336.50 484.60,336.50 487.60,341.00 427.60,341.00" fill="#62a9da" stroke="#2b4a5c" stroke-width="0.5" stroke-linejoin="round"/>
<polygon points="427.60,345.70 499.60,345.70 499.60,354.10 427.60,354.10" fill="#b9e2c0" stroke="#48604e" stroke-width="0.6" stroke-linejoin="round"/>
<polygon points="427.60,341.10 494.60,341.10 494.60,345.70 427.60,345.70" fill="#79c0ea" stroke="#2b4a5c" stroke-width="0.5" stroke-linejoin="round"/>
<polygon points="405.60,332.80 407.60,332.50 427.90,339.10 425.90,339.50" fill="#b9e2c0" stroke="#48604e" stroke-width="0.6" stroke-linejoin="round"/>
<polygon points="405.60,332.80 425.90,339.50 422.90,354.30 402.60,347.00" fill="#b9e2c0" stroke="#48604e" stroke-width="0.6" stroke-linejoin="round"/>
<polygon points="425.90,339.50 427.90,339.10 427.60,354.10 422.90,354.30" fill="#9acfa5" stroke="#48604e" stroke-width="0.6" stroke-linejoin="round"/>
<polygon points="481.60,345.70 499.60,345.70 506.20,354.30 499.60,354.30" fill="#b9e2c0" stroke="#48604e" stroke-width="0.6" stroke-linejoin="round"/>
<polygon points="483.60,334.00 487.60,332.80 497.60,336.00 499.60,339.50 494.60,341.10 487.60,338.50" fill="#b9e2c0" stroke="#48604e" stroke-width="0.6" stroke-linejoin="round"/>
<polygon points="492.60,337.50 496.60,336.00 501.60,338.00 501.60,345.50 494.60,345.70 494.60,341.10" fill="#b9e2c0" stroke="#48604e" stroke-width="0.6" stroke-linejoin="round"/>
<polygon points="499.60,337.10 503.60,336.00 506.20,337.50 506.20,354.30 499.60,354.30" fill="#b9e2c0" stroke="#48604e" stroke-width="0.6" stroke-linejoin="round"/>
<rect x="506.20" y="340.10" width="8.00" height="5.60" rx="2" fill="#b9e2c0" stroke="#48604e" stroke-width="0.5"/>
<ellipse cx="509.60" cy="342.90" rx="1.20" ry="2.60" fill="none" stroke="#48604e" stroke-width="0.6"/>
<ellipse cx="511.10" cy="334.70" rx="2.60" ry="2.60" fill="#9acfa5" stroke="#48604e" stroke-width="0.6"/>
<ellipse cx="511.10" cy="334.70" rx="1.20" ry="1.20" fill="#b9e2c0" stroke="#48604e" stroke-width="0.4"/>
<line x1="511.1" y1="337.3" x2="511.1" y2="340.09999999999997" stroke="#48604e" stroke-width="0.6"/>
<polygon points="572.00,329.20 631.80,329.20 639.10,332.60 581.30,332.60" fill="#b9e2c0" stroke="#48604e" stroke-width="0.6" stroke-linejoin="round"/>
<polygon points="581.30,332.60 639.10,332.60 639.10,334.60 581.30,334.60" fill="#b9e2c0" stroke="#48604e" stroke-width="0.6" stroke-linejoin="round"/>
<polygon points="572.00,329.20 581.30,332.60 581.30,334.60 572.00,331.00" fill="#9acfa5" stroke="#48604e" stroke-width="0.6" stroke-linejoin="round"/>
<path d="M590.2,330 L590.2,316 Q590.6,309.8 596,309.6 L600,309.4 L600,331.6 L594,331.6 Z" fill="#b9e2c0" stroke="#48604e" stroke-width="0.6" stroke-linecap="round" stroke-linejoin="round"/>
<ellipse cx="594.90" cy="313.40" rx="3.00" ry="3.60" fill="#e4f3e6" stroke="#48604e" stroke-width="0.55"/>
<ellipse cx="594.90" cy="322.60" rx="2.30" ry="3.00" fill="#e4f3e6" stroke="#48604e" stroke-width="0.55"/>
<rect x="566.20" y="315.10" width="70.50" height="5.30" rx="2.4" fill="#79c0ea" stroke="#2b4a5c" stroke-width="0.6"/>
<ellipse cx="567.60" cy="317.75" rx="1.20" ry="2.00" fill="#1fa8e0" stroke="#2b4a5c" stroke-width="0.5"/>
<path d="M596,309.6 Q598,309 599.7,309.2 L609.5,309.2 Q612.9,309.4 612.9,313 L612.9,331.6 L599.7,331.6 L599.7,316 Q599.6,311 596,309.6 Z" fill="#b9e2c0" stroke="#48604e" stroke-width="0.6" stroke-linecap="round" stroke-linejoin="round"/>
<rect x="688.3" y="310.2" width="58.4" height="4.6000000000000005" rx="1.6" ry="2.3000000000000003" fill="#79c0ea" stroke="#2b4a5c" stroke-width="0.8"/>
<ellipse cx="689.5" cy="312.5" rx="1.2" ry="1.9000000000000001" fill="#1fa8e0" stroke="#2b4a5c" stroke-width="0.6"/>
<polygon points="677.60,318.60 750.00,318.60 763.00,325.60 695.00,325.60" fill="#b9e2c0" stroke="#48604e" stroke-width="0.6" stroke-linejoin="round"/>
<polygon points="685.00,319.70 748.50,319.70 758.00,324.50 696.00,324.50" fill="#8ecbe6" stroke="#2b4a5c" stroke-width="0.35" stroke-linejoin="round"/>
<polygon points="677.60,318.60 695.00,325.60 695.00,335.00 677.60,326.80" fill="#b9e2c0" stroke="#48604e" stroke-width="0.6" stroke-linejoin="round"/>
<polygon points="695.00,325.60 763.00,325.60 763.00,334.80 695.00,335.00" fill="#b9e2c0" stroke="#48604e" stroke-width="0.6" stroke-linejoin="round"/>
<rect x="797.3" y="321.8" width="68.4" height="4.4" rx="1.6" ry="2.2" fill="#79c0ea" stroke="#2b4a5c" stroke-width="0.8"/>
<ellipse cx="798.5" cy="324" rx="1.2" ry="1.8" fill="#1fa8e0" stroke="#2b4a5c" stroke-width="0.6"/>
<path d="M866,314 L872,313.5 L876.5,318 L877,328 L873,333 L867,333 L862.5,328.5 L862,318.5 Z" fill="#b9e2c0" stroke="#48604e" stroke-width="0.6" stroke-linecap="round" stroke-linejoin="round"/>
<path d="M866,314 L869.5,318.5 L870,328.5 L867,333 M869.5,318.5 L876.5,318 M870,328.5 L877,328" fill="none" stroke="#48604e" stroke-width="0.6" stroke-linecap="round" stroke-linejoin="round"/>
<ellipse cx="866.20" cy="323.60" rx="2.40" ry="3.60" fill="#6e9aa6" stroke="#48604e" stroke-width="0.6"/>
<rect x="860.00" y="321.80" width="6.00" height="4.40" rx="0" fill="#4f86a8" stroke="#2b4a5c" stroke-width="0.4"/>
<rect x="674.00" y="376.50" width="100.00" height="5.20" rx="2" fill="#79c0ea" stroke="#2b4a5c" stroke-width="0.5"/>
<ellipse cx="675.30" cy="379.10" rx="1.20" ry="2.00" fill="#1fa8e0" stroke="#2b4a5c" stroke-width="0.5"/>
<path d="M697,366 L750,366 Q759.5,367.5 759.5,377 L759.5,392.8 L697,392.8 Z" fill="#b9e2c0" stroke="#48604e" stroke-width="0.6" stroke-linecap="round" stroke-linejoin="round"/>
<path d="M725.5,366 Q731,372.5 731.3,382 L731.5,392.8 M729.5,366 Q735,372.5 735.3,382 L735.5,392.8" fill="none" stroke="#48604e" stroke-width="0.55" stroke-linecap="round" stroke-linejoin="round"/>
<ellipse cx="697.00" cy="379.40" rx="7.40" ry="13.40" fill="#b9e2c0" stroke="#48604e" stroke-width="0.6"/>
<path d="M699,366.2 Q704.8,372 704.6,392.8" fill="none" stroke="#48604e" stroke-width="0.5" stroke-linecap="round" stroke-linejoin="round"/>
<ellipse cx="696.40" cy="379.20" rx="4.20" ry="7.20" fill="#b9e2c0" stroke="#48604e" stroke-width="0.55"/>
<ellipse cx="696.00" cy="379.20" rx="2.40" ry="4.00" fill="#a6cfb0" stroke="#48604e" stroke-width="0.5"/>
<rect x="674.00" y="376.50" width="25.00" height="5.20" rx="2" fill="#79c0ea" stroke="#2b4a5c" stroke-width="0.5"/>
<ellipse cx="675.30" cy="379.10" rx="1.20" ry="2.00" fill="#1fa8e0" stroke="#2b4a5c" stroke-width="0.5"/>
<path d="M771,376.5 q2,2.6 0,5.2" fill="none" stroke="#2b4a5c" stroke-width="0.5" stroke-linecap="round" stroke-linejoin="round"/>
<rect x="812.50" y="380.40" width="15.20" height="6.00" rx="2.6" fill="#8f8f93" stroke="#4a4a4e" stroke-width="0.6"/>
<ellipse cx="815.70" cy="383.40" rx="2.60" ry="3.00" fill="#a9a9ad" stroke="#4a4a4e" stroke-width="0.5"/>
<ellipse cx="815.50" cy="383.40" rx="1.00" ry="1.20" fill="#8f8f93" stroke="#4a4a4e" stroke-width="0.4"/>
<rect x="830.90" y="380.40" width="15.20" height="6.00" rx="2.6" fill="#8f8f93" stroke="#4a4a4e" stroke-width="0.6"/>
<ellipse cx="834.10" cy="383.40" rx="2.60" ry="3.00" fill="#a9a9ad" stroke="#4a4a4e" stroke-width="0.5"/>
<ellipse cx="833.90" cy="383.40" rx="1.00" ry="1.20" fill="#8f8f93" stroke="#4a4a4e" stroke-width="0.4"/>
<rect x="849.30" y="380.40" width="15.20" height="6.00" rx="2.6" fill="#8f8f93" stroke="#4a4a4e" stroke-width="0.6"/>
<ellipse cx="852.50" cy="383.40" rx="2.60" ry="3.00" fill="#a9a9ad" stroke="#4a4a4e" stroke-width="0.5"/>
<ellipse cx="852.30" cy="383.40" rx="1.00" ry="1.20" fill="#8f8f93" stroke="#4a4a4e" stroke-width="0.4"/>
<rect x="796.00" y="376.50" width="82.50" height="5.20" rx="2" fill="#79c0ea" stroke="#2b4a5c" stroke-width="0.5"/>
<ellipse cx="797.30" cy="379.10" rx="1.20" ry="2.00" fill="#1fa8e0" stroke="#2b4a5c" stroke-width="0.5"/>
<rect x="812.50" y="370.50" width="15.20" height="6.20" rx="2.6" fill="#8f8f93" stroke="#4a4a4e" stroke-width="0.6"/>
<ellipse cx="824.50" cy="373.60" rx="2.60" ry="3.00" fill="#a9a9ad" stroke="#4a4a4e" stroke-width="0.5"/>
<ellipse cx="824.70" cy="373.60" rx="1.00" ry="1.20" fill="#8f8f93" stroke="#4a4a4e" stroke-width="0.4"/>
<rect x="830.90" y="370.50" width="15.20" height="6.20" rx="2.6" fill="#8f8f93" stroke="#4a4a4e" stroke-width="0.6"/>
<ellipse cx="842.90" cy="373.60" rx="2.60" ry="3.00" fill="#a9a9ad" stroke="#4a4a4e" stroke-width="0.5"/>
<ellipse cx="843.10" cy="373.60" rx="1.00" ry="1.20" fill="#8f8f93" stroke="#4a4a4e" stroke-width="0.4"/>
<rect x="849.30" y="370.50" width="15.20" height="6.20" rx="2.6" fill="#8f8f93" stroke="#4a4a4e" stroke-width="0.6"/>
<ellipse cx="861.30" cy="373.60" rx="2.60" ry="3.00" fill="#a9a9ad" stroke="#4a4a4e" stroke-width="0.5"/>
<ellipse cx="861.50" cy="373.60" rx="1.00" ry="1.20" fill="#8f8f93" stroke="#4a4a4e" stroke-width="0.4"/>
<rect x="154.20" y="350.60" width="12.00" height="5.40" rx="1.5" fill="#79c0ea" stroke="#2b4a5c" stroke-width="0.5"/>
<path d="M190,353.8 Q220,354.6 246,357.6" fill="none" stroke="#2b4a5c" stroke-width="3.0" stroke-linecap="round" stroke-linejoin="round"/>
<path d="M246,357.6 L284.5,363 L307,369.5 L329,380.5" fill="none" stroke="#2b4a5c" stroke-width="2.0" stroke-linecap="round" stroke-linejoin="round"/>
<path d="M190,353.8 Q220,354.6 246,357.6" fill="none" stroke="#79c0ea" stroke-width="1.9" stroke-linecap="round" stroke-linejoin="round"/>
<path d="M246,357.6 L284.5,363 L307,369.5 L329,380.5" fill="none" stroke="#79c0ea" stroke-width="1.0" stroke-linecap="round" stroke-linejoin="round"/>
<path d="M163.6,348.5 Q166.5,345.8 169.5,348 L190.8,352.3 L190.8,355.3 L169.5,358.3 Q166.5,360 163.6,358 Z" fill="#b9e2c0" stroke="#48604e" stroke-width="0.6" stroke-linecap="round" stroke-linejoin="round"/>
<polyline points="169.50,348.00 169.50,358.30" fill="none" stroke="#48604e" stroke-width="0.6" stroke-linecap="round" stroke-linejoin="round"/>
<polygon points="246.00,355.40 249.60,356.00 249.60,360.00 246.00,359.80" fill="#b9e2c0" stroke="#48604e" stroke-width="0.4" stroke-linejoin="round"/>
<polygon points="253.00,356.30 256.60,356.90 256.60,360.90 253.00,360.70" fill="#b9e2c0" stroke="#48604e" stroke-width="0.4" stroke-linejoin="round"/>
<polygon points="260.00,357.20 263.60,357.80 263.60,361.80 260.00,361.60" fill="#b9e2c0" stroke="#48604e" stroke-width="0.4" stroke-linejoin="round"/>
<polygon points="267.00,358.10 270.60,358.70 270.60,362.70 267.00,362.50" fill="#b9e2c0" stroke="#48604e" stroke-width="0.4" stroke-linejoin="round"/>
<ellipse cx="284.20" cy="357.00" rx="4.20" ry="4.20" fill="#8f8f93" stroke="#4a4a4e" stroke-width="0.6"/>
<ellipse cx="285.60" cy="357.40" rx="4.20" ry="4.20" fill="#8f8f93" stroke="#4a4a4e" stroke-width="0.6"/>
<ellipse cx="286.00" cy="357.40" rx="1.89" ry="1.89" fill="#a9a9ad" stroke="#4a4a4e" stroke-width="0.5"/>
<ellipse cx="286.60" cy="357.60" rx="1.05" ry="1.05" fill="#a9a9ad" stroke="#4a4a4e" stroke-width="0.4"/>
<ellipse cx="281.20" cy="367.80" rx="4.20" ry="4.20" fill="#8f8f93" stroke="#4a4a4e" stroke-width="0.6"/>
<ellipse cx="282.60" cy="368.20" rx="4.20" ry="4.20" fill="#8f8f93" stroke="#4a4a4e" stroke-width="0.6"/>
<ellipse cx="283.00" cy="368.20" rx="1.89" ry="1.89" fill="#a9a9ad" stroke="#4a4a4e" stroke-width="0.5"/>
<ellipse cx="283.60" cy="368.40" rx="1.05" ry="1.05" fill="#a9a9ad" stroke="#4a4a4e" stroke-width="0.4"/>
<path d="M278,352.5 q-2,2.5 -1,5 M276.5,365 q-2,2.5 -1,5" fill="none" stroke="#555" stroke-width="0.4" stroke-linecap="round" stroke-linejoin="round"/>
<path d="M304.5,366.5 L308.5,371.5 L328,380.8 L326,378.2 L307.5,366 Z" fill="#b9e2c0" stroke="#48604e" stroke-width="0.4" stroke-linecap="round" stroke-linejoin="round"/>
<path d="M321.3,383 L321.3,405.5 A11.5,3 0 0 0 344.3,405.5 L344.3,383 Z" fill="#86cdea" stroke="#2b4a5c" stroke-width="0.6" stroke-linecap="round" stroke-linejoin="round"/>
<path d="M327.8,406.3 A5,2.4 0 0 1 337.8,406.3" fill="none" stroke="#bfe6d8" stroke-width="0.9" stroke-linecap="round" stroke-linejoin="round"/>
<path d="M325.3,405.1 A7.5,4.8 0 0 1 340.3,405.1" fill="none" stroke="#bfe6d8" stroke-width="0.9" stroke-linecap="round" stroke-linejoin="round"/>
<path d="M323.3,403.9 A9.5,7.2 0 0 1 342.3,403.9" fill="none" stroke="#bfe6d8" stroke-width="0.9" stroke-linecap="round" stroke-linejoin="round"/>
<path d="M322.3,402.7 A10.5,9.6 0 0 1 343.3,402.7" fill="none" stroke="#bfe6d8" stroke-width="0.9" stroke-linecap="round" stroke-linejoin="round"/>
<ellipse cx="332.80" cy="383.00" rx="11.50" ry="3.00" fill="#a9dcf0" stroke="#2b4a5c" stroke-width="0.6"/>
<path d="M344,376.8 q5,0.5 6.5,6.5" fill="none" stroke="#333" stroke-width="0.5" stroke-linecap="round" stroke-linejoin="round"/>
<polyline points="345.80,375.80 344.00,376.80 345.60,378.20" fill="none" stroke="#333" stroke-width="0.5" stroke-linecap="round" stroke-linejoin="round"/>
<ellipse cx="1000.50" cy="308.50" rx="3.60" ry="3.60" fill="#5ba7d2" stroke="#2b4a5c" stroke-width="0.6"/>
<polygon points="999.25,311.88 1075.44,341.02 1078.56,332.58 1001.75,305.12" fill="#5ba7d2"/>
<line x1="1001.34" y1="308.87" x2="1004.17" y2="305.81" stroke="#3f86b0" stroke-width="0.5"/>
<line x1="1003.25" y1="309.57" x2="1006.09" y2="306.50" stroke="#3f86b0" stroke-width="0.5"/>
<line x1="1005.16" y1="310.28" x2="1008.01" y2="307.18" stroke="#3f86b0" stroke-width="0.5"/>
<line x1="1007.08" y1="310.98" x2="1009.93" y2="307.87" stroke="#3f86b0" stroke-width="0.5"/>
<line x1="1008.99" y1="311.69" x2="1011.85" y2="308.56" stroke="#3f86b0" stroke-width="0.5"/>
<line x1="1010.90" y1="312.39" x2="1013.77" y2="309.24" stroke="#3f86b0" stroke-width="0.5"/>
<line x1="1012.82" y1="313.10" x2="1015.69" y2="309.93" stroke="#3f86b0" stroke-width="0.5"/>
<line x1="1014.73" y1="313.81" x2="1017.61" y2="310.61" stroke="#3f86b0" stroke-width="0.5"/>
<line x1="1016.64" y1="314.51" x2="1019.53" y2="311.30" stroke="#3f86b0" stroke-width="0.5"/>
<line x1="1018.56" y1="315.22" x2="1021.45" y2="311.99" stroke="#3f86b0" stroke-width="0.5"/>
<line x1="1020.47" y1="315.92" x2="1023.37" y2="312.67" stroke="#3f86b0" stroke-width="0.5"/>
<line x1="1022.38" y1="316.63" x2="1025.29" y2="313.36" stroke="#3f86b0" stroke-width="0.5"/>
<line x1="1024.30" y1="317.33" x2="1027.21" y2="314.05" stroke="#3f86b0" stroke-width="0.5"/>
<line x1="1026.21" y1="318.04" x2="1029.13" y2="314.73" stroke="#3f86b0" stroke-width="0.5"/>
<line x1="1028.12" y1="318.74" x2="1031.05" y2="315.42" stroke="#3f86b0" stroke-width="0.5"/>
<line x1="1030.04" y1="319.45" x2="1032.97" y2="316.11" stroke="#3f86b0" stroke-width="0.5"/>
<line x1="1031.95" y1="320.15" x2="1034.89" y2="316.79" stroke="#3f86b0" stroke-width="0.5"/>
<line x1="1033.86" y1="320.86" x2="1036.81" y2="317.48" stroke="#3f86b0" stroke-width="0.5"/>
<line x1="1035.78" y1="321.56" x2="1038.73" y2="318.17" stroke="#3f86b0" stroke-width="0.5"/>
<line x1="1037.69" y1="322.27" x2="1040.66" y2="318.85" stroke="#3f86b0" stroke-width="0.5"/>
<line x1="1039.60" y1="322.98" x2="1042.58" y2="319.54" stroke="#3f86b0" stroke-width="0.5"/>
<line x1="1041.52" y1="323.68" x2="1044.50" y2="320.22" stroke="#3f86b0" stroke-width="0.5"/>
<line x1="1043.43" y1="324.39" x2="1046.42" y2="320.91" stroke="#3f86b0" stroke-width="0.5"/>
<line x1="1045.34" y1="325.09" x2="1048.34" y2="321.60" stroke="#3f86b0" stroke-width="0.5"/>
<line x1="1047.26" y1="325.80" x2="1050.26" y2="322.28" stroke="#3f86b0" stroke-width="0.5"/>
<line x1="1049.17" y1="326.50" x2="1052.18" y2="322.97" stroke="#3f86b0" stroke-width="0.5"/>
<line x1="1051.08" y1="327.21" x2="1054.10" y2="323.66" stroke="#3f86b0" stroke-width="0.5"/>
<line x1="1053.00" y1="327.91" x2="1056.02" y2="324.34" stroke="#3f86b0" stroke-width="0.5"/>
<line x1="1054.91" y1="328.62" x2="1057.94" y2="325.03" stroke="#3f86b0" stroke-width="0.5"/>
<line x1="1056.82" y1="329.32" x2="1059.86" y2="325.72" stroke="#3f86b0" stroke-width="0.5"/>
<line x1="1058.74" y1="330.03" x2="1061.78" y2="326.40" stroke="#3f86b0" stroke-width="0.5"/>
<line x1="1060.65" y1="330.73" x2="1063.70" y2="327.09" stroke="#3f86b0" stroke-width="0.5"/>
<line x1="1062.56" y1="331.44" x2="1065.62" y2="327.77" stroke="#3f86b0" stroke-width="0.5"/>
<line x1="1064.48" y1="332.15" x2="1067.54" y2="328.46" stroke="#3f86b0" stroke-width="0.5"/>
<line x1="1066.39" y1="332.85" x2="1069.46" y2="329.15" stroke="#3f86b0" stroke-width="0.5"/>
<line x1="1068.30" y1="333.56" x2="1071.38" y2="329.83" stroke="#3f86b0" stroke-width="0.5"/>
<line x1="1070.22" y1="334.26" x2="1073.30" y2="330.52" stroke="#3f86b0" stroke-width="0.5"/>
<line x1="1072.13" y1="334.97" x2="1075.22" y2="331.21" stroke="#3f86b0" stroke-width="0.5"/>
<line x1="1074.04" y1="335.67" x2="1077.14" y2="331.89" stroke="#3f86b0" stroke-width="0.5"/>
<line x1="999.25" y1="311.88" x2="1075.44" y2="341.02" stroke="#2b4a5c" stroke-width="0.6"/>
<line x1="1001.75" y1="305.12" x2="1078.56" y2="332.58" stroke="#2b4a5c" stroke-width="0.6"/>
<line x1="1000.50" y1="308.00" x2="1077.00" y2="336.00" stroke="#8cc8e8" stroke-width="0.7"/>
<ellipse cx="1077.00" cy="336.80" rx="4.50" ry="4.50" fill="#5ba7d2" stroke="#2b4a5c" stroke-width="0.6"/>
<ellipse cx="1077.00" cy="336.80" rx="3.24" ry="3.24" fill="#1fa8e0" stroke="#2b4a5c" stroke-width="0.5"/>
<polyline points="1004.50,306.00 1003.00,313.50" fill="none" stroke="#2b4a5c" stroke-width="0.5" stroke-linecap="round" stroke-linejoin="round"/>
<polyline points="1069.00,330.00 1067.50,337.50" fill="none" stroke="#2b4a5c" stroke-width="0.5" stroke-linecap="round" stroke-linejoin="round"/>
<ellipse cx="1012.00" cy="340.40" rx="3.20" ry="3.20" fill="#5ba7d2" stroke="#2b4a5c" stroke-width="0.6"/>
<polygon points="1010.91,343.41 1087.34,372.81 1090.66,363.59 1013.09,337.39" fill="#5ba7d2"/>
<line x1="1012.84" y1="340.79" x2="1015.53" y2="338.05" stroke="#3f86b0" stroke-width="0.5"/>
<line x1="1014.76" y1="341.48" x2="1017.47" y2="338.70" stroke="#3f86b0" stroke-width="0.5"/>
<line x1="1016.69" y1="342.17" x2="1019.40" y2="339.36" stroke="#3f86b0" stroke-width="0.5"/>
<line x1="1018.61" y1="342.86" x2="1021.34" y2="340.01" stroke="#3f86b0" stroke-width="0.5"/>
<line x1="1020.54" y1="343.55" x2="1023.28" y2="340.67" stroke="#3f86b0" stroke-width="0.5"/>
<line x1="1022.47" y1="344.25" x2="1025.22" y2="341.32" stroke="#3f86b0" stroke-width="0.5"/>
<line x1="1024.39" y1="344.94" x2="1027.16" y2="341.98" stroke="#3f86b0" stroke-width="0.5"/>
<line x1="1026.32" y1="345.63" x2="1029.10" y2="342.63" stroke="#3f86b0" stroke-width="0.5"/>
<line x1="1028.25" y1="346.32" x2="1031.04" y2="343.29" stroke="#3f86b0" stroke-width="0.5"/>
<line x1="1030.17" y1="347.01" x2="1032.98" y2="343.94" stroke="#3f86b0" stroke-width="0.5"/>
<line x1="1032.10" y1="347.70" x2="1034.92" y2="344.60" stroke="#3f86b0" stroke-width="0.5"/>
<line x1="1034.03" y1="348.39" x2="1036.86" y2="345.25" stroke="#3f86b0" stroke-width="0.5"/>
<line x1="1035.95" y1="349.08" x2="1038.80" y2="345.91" stroke="#3f86b0" stroke-width="0.5"/>
<line x1="1037.88" y1="349.77" x2="1040.74" y2="346.56" stroke="#3f86b0" stroke-width="0.5"/>
<line x1="1039.81" y1="350.46" x2="1042.68" y2="347.22" stroke="#3f86b0" stroke-width="0.5"/>
<line x1="1041.73" y1="351.16" x2="1044.62" y2="347.87" stroke="#3f86b0" stroke-width="0.5"/>
<line x1="1043.66" y1="351.85" x2="1046.56" y2="348.53" stroke="#3f86b0" stroke-width="0.5"/>
<line x1="1045.58" y1="352.54" x2="1048.50" y2="349.18" stroke="#3f86b0" stroke-width="0.5"/>
<line x1="1047.51" y1="353.23" x2="1050.44" y2="349.84" stroke="#3f86b0" stroke-width="0.5"/>
<line x1="1049.44" y1="353.92" x2="1052.38" y2="350.49" stroke="#3f86b0" stroke-width="0.5"/>
<line x1="1051.36" y1="354.61" x2="1054.31" y2="351.15" stroke="#3f86b0" stroke-width="0.5"/>
<line x1="1053.29" y1="355.30" x2="1056.25" y2="351.80" stroke="#3f86b0" stroke-width="0.5"/>
<line x1="1055.22" y1="355.99" x2="1058.19" y2="352.46" stroke="#3f86b0" stroke-width="0.5"/>
<line x1="1057.14" y1="356.68" x2="1060.13" y2="353.11" stroke="#3f86b0" stroke-width="0.5"/>
<line x1="1059.07" y1="357.37" x2="1062.07" y2="353.77" stroke="#3f86b0" stroke-width="0.5"/>
<line x1="1061.00" y1="358.07" x2="1064.01" y2="354.42" stroke="#3f86b0" stroke-width="0.5"/>
<line x1="1062.92" y1="358.76" x2="1065.95" y2="355.08" stroke="#3f86b0" stroke-width="0.5"/>
<line x1="1064.85" y1="359.45" x2="1067.89" y2="355.73" stroke="#3f86b0" stroke-width="0.5"/>
<line x1="1066.78" y1="360.14" x2="1069.83" y2="356.39" stroke="#3f86b0" stroke-width="0.5"/>
<line x1="1068.70" y1="360.83" x2="1071.77" y2="357.04" stroke="#3f86b0" stroke-width="0.5"/>
<line x1="1070.63" y1="361.52" x2="1073.71" y2="357.70" stroke="#3f86b0" stroke-width="0.5"/>
<line x1="1072.55" y1="362.21" x2="1075.65" y2="358.35" stroke="#3f86b0" stroke-width="0.5"/>
<line x1="1074.48" y1="362.90" x2="1077.59" y2="359.01" stroke="#3f86b0" stroke-width="0.5"/>
<line x1="1076.41" y1="363.59" x2="1079.53" y2="359.66" stroke="#3f86b0" stroke-width="0.5"/>
<line x1="1078.33" y1="364.28" x2="1081.47" y2="360.32" stroke="#3f86b0" stroke-width="0.5"/>
<line x1="1080.26" y1="364.98" x2="1083.41" y2="360.97" stroke="#3f86b0" stroke-width="0.5"/>
<line x1="1082.19" y1="365.67" x2="1085.35" y2="361.63" stroke="#3f86b0" stroke-width="0.5"/>
<line x1="1084.11" y1="366.36" x2="1087.29" y2="362.28" stroke="#3f86b0" stroke-width="0.5"/>
<line x1="1086.04" y1="367.05" x2="1089.22" y2="362.94" stroke="#3f86b0" stroke-width="0.5"/>
<line x1="1010.91" y1="343.41" x2="1087.34" y2="372.81" stroke="#2b4a5c" stroke-width="0.6"/>
<line x1="1013.09" y1="337.39" x2="1090.66" y2="363.59" stroke="#2b4a5c" stroke-width="0.6"/>
<line x1="1012.00" y1="339.90" x2="1089.00" y2="367.40" stroke="#8cc8e8" stroke-width="0.7"/>
<ellipse cx="1089.00" cy="368.20" rx="4.90" ry="4.90" fill="#5ba7d2" stroke="#2b4a5c" stroke-width="0.6"/>
<ellipse cx="1089.00" cy="368.20" rx="3.53" ry="3.53" fill="#1fa8e0" stroke="#2b4a5c" stroke-width="0.5"/>
<ellipse cx="1001.50" cy="340.40" rx="3.20" ry="3.20" fill="#5ba7d2" stroke="#2b4a5c" stroke-width="0.6"/>
<polygon points="1000.41,343.41 1076.84,372.81 1080.16,363.59 1002.59,337.39" fill="#5ba7d2"/>
<line x1="1002.34" y1="340.79" x2="1005.03" y2="338.05" stroke="#3f86b0" stroke-width="0.5"/>
<line x1="1004.26" y1="341.48" x2="1006.97" y2="338.70" stroke="#3f86b0" stroke-width="0.5"/>
<line x1="1006.19" y1="342.17" x2="1008.90" y2="339.36" stroke="#3f86b0" stroke-width="0.5"/>
<line x1="1008.11" y1="342.86" x2="1010.84" y2="340.01" stroke="#3f86b0" stroke-width="0.5"/>
<line x1="1010.04" y1="343.55" x2="1012.78" y2="340.67" stroke="#3f86b0" stroke-width="0.5"/>
<line x1="1011.97" y1="344.25" x2="1014.72" y2="341.32" stroke="#3f86b0" stroke-width="0.5"/>
<line x1="1013.89" y1="344.94" x2="1016.66" y2="341.98" stroke="#3f86b0" stroke-width="0.5"/>
<line x1="1015.82" y1="345.63" x2="1018.60" y2="342.63" stroke="#3f86b0" stroke-width="0.5"/>
<line x1="1017.75" y1="346.32" x2="1020.54" y2="343.29" stroke="#3f86b0" stroke-width="0.5"/>
<line x1="1019.67" y1="347.01" x2="1022.48" y2="343.94" stroke="#3f86b0" stroke-width="0.5"/>
<line x1="1021.60" y1="347.70" x2="1024.42" y2="344.60" stroke="#3f86b0" stroke-width="0.5"/>
<line x1="1023.53" y1="348.39" x2="1026.36" y2="345.25" stroke="#3f86b0" stroke-width="0.5"/>
<line x1="1025.45" y1="349.08" x2="1028.30" y2="345.91" stroke="#3f86b0" stroke-width="0.5"/>
<line x1="1027.38" y1="349.77" x2="1030.24" y2="346.56" stroke="#3f86b0" stroke-width="0.5"/>
<line x1="1029.31" y1="350.46" x2="1032.18" y2="347.22" stroke="#3f86b0" stroke-width="0.5"/>
<line x1="1031.23" y1="351.16" x2="1034.12" y2="347.87" stroke="#3f86b0" stroke-width="0.5"/>
<line x1="1033.16" y1="351.85" x2="1036.06" y2="348.53" stroke="#3f86b0" stroke-width="0.5"/>
<line x1="1035.08" y1="352.54" x2="1038.00" y2="349.18" stroke="#3f86b0" stroke-width="0.5"/>
<line x1="1037.01" y1="353.23" x2="1039.94" y2="349.84" stroke="#3f86b0" stroke-width="0.5"/>
<line x1="1038.94" y1="353.92" x2="1041.88" y2="350.49" stroke="#3f86b0" stroke-width="0.5"/>
<line x1="1040.86" y1="354.61" x2="1043.81" y2="351.15" stroke="#3f86b0" stroke-width="0.5"/>
<line x1="1042.79" y1="355.30" x2="1045.75" y2="351.80" stroke="#3f86b0" stroke-width="0.5"/>
<line x1="1044.72" y1="355.99" x2="1047.69" y2="352.46" stroke="#3f86b0" stroke-width="0.5"/>
<line x1="1046.64" y1="356.68" x2="1049.63" y2="353.11" stroke="#3f86b0" stroke-width="0.5"/>
<line x1="1048.57" y1="357.37" x2="1051.57" y2="353.77" stroke="#3f86b0" stroke-width="0.5"/>
<line x1="1050.50" y1="358.07" x2="1053.51" y2="354.42" stroke="#3f86b0" stroke-width="0.5"/>
<line x1="1052.42" y1="358.76" x2="1055.45" y2="355.08" stroke="#3f86b0" stroke-width="0.5"/>
<line x1="1054.35" y1="359.45" x2="1057.39" y2="355.73" stroke="#3f86b0" stroke-width="0.5"/>
<line x1="1056.28" y1="360.14" x2="1059.33" y2="356.39" stroke="#3f86b0" stroke-width="0.5"/>
<line x1="1058.20" y1="360.83" x2="1061.27" y2="357.04" stroke="#3f86b0" stroke-width="0.5"/>
<line x1="1060.13" y1="361.52" x2="1063.21" y2="357.70" stroke="#3f86b0" stroke-width="0.5"/>
<line x1="1062.05" y1="362.21" x2="1065.15" y2="358.35" stroke="#3f86b0" stroke-width="0.5"/>
<line x1="1063.98" y1="362.90" x2="1067.09" y2="359.01" stroke="#3f86b0" stroke-width="0.5"/>
<line x1="1065.91" y1="363.59" x2="1069.03" y2="359.66" stroke="#3f86b0" stroke-width="0.5"/>
<line x1="1067.83" y1="364.28" x2="1070.97" y2="360.32" stroke="#3f86b0" stroke-width="0.5"/>
<line x1="1069.76" y1="364.98" x2="1072.91" y2="360.97" stroke="#3f86b0" stroke-width="0.5"/>
<line x1="1071.69" y1="365.67" x2="1074.85" y2="361.63" stroke="#3f86b0" stroke-width="0.5"/>
<line x1="1073.61" y1="366.36" x2="1076.79" y2="362.28" stroke="#3f86b0" stroke-width="0.5"/>
<line x1="1075.54" y1="367.05" x2="1078.72" y2="362.94" stroke="#3f86b0" stroke-width="0.5"/>
<line x1="1000.41" y1="343.41" x2="1076.84" y2="372.81" stroke="#2b4a5c" stroke-width="0.6"/>
<line x1="1002.59" y1="337.39" x2="1080.16" y2="363.59" stroke="#2b4a5c" stroke-width="0.6"/>
<line x1="1001.50" y1="339.90" x2="1078.50" y2="367.40" stroke="#8cc8e8" stroke-width="0.7"/>
<ellipse cx="1078.50" cy="368.20" rx="4.90" ry="4.90" fill="#5ba7d2" stroke="#2b4a5c" stroke-width="0.6"/>
<ellipse cx="1078.50" cy="368.20" rx="3.53" ry="3.53" fill="#1fa8e0" stroke="#2b4a5c" stroke-width="0.5"/>
<ellipse cx="991.00" cy="340.40" rx="3.20" ry="3.20" fill="#5ba7d2" stroke="#2b4a5c" stroke-width="0.6"/>
<polygon points="989.91,343.41 1066.34,372.81 1069.66,363.59 992.09,337.39" fill="#5ba7d2"/>
<line x1="991.84" y1="340.79" x2="994.53" y2="338.05" stroke="#3f86b0" stroke-width="0.5"/>
<line x1="993.76" y1="341.48" x2="996.47" y2="338.70" stroke="#3f86b0" stroke-width="0.5"/>
<line x1="995.69" y1="342.17" x2="998.40" y2="339.36" stroke="#3f86b0" stroke-width="0.5"/>
<line x1="997.61" y1="342.86" x2="1000.34" y2="340.01" stroke="#3f86b0" stroke-width="0.5"/>
<line x1="999.54" y1="343.55" x2="1002.28" y2="340.67" stroke="#3f86b0" stroke-width="0.5"/>
<line x1="1001.47" y1="344.25" x2="1004.22" y2="341.32" stroke="#3f86b0" stroke-width="0.5"/>
<line x1="1003.39" y1="344.94" x2="1006.16" y2="341.98" stroke="#3f86b0" stroke-width="0.5"/>
<line x1="1005.32" y1="345.63" x2="1008.10" y2="342.63" stroke="#3f86b0" stroke-width="0.5"/>
<line x1="1007.25" y1="346.32" x2="1010.04" y2="343.29" stroke="#3f86b0" stroke-width="0.5"/>
<line x1="1009.17" y1="347.01" x2="1011.98" y2="343.94" stroke="#3f86b0" stroke-width="0.5"/>
<line x1="1011.10" y1="347.70" x2="1013.92" y2="344.60" stroke="#3f86b0" stroke-width="0.5"/>
<line x1="1013.03" y1="348.39" x2="1015.86" y2="345.25" stroke="#3f86b0" stroke-width="0.5"/>
<line x1="1014.95" y1="349.08" x2="1017.80" y2="345.91" stroke="#3f86b0" stroke-width="0.5"/>
<line x1="1016.88" y1="349.77" x2="1019.74" y2="346.56" stroke="#3f86b0" stroke-width="0.5"/>
<line x1="1018.81" y1="350.46" x2="1021.68" y2="347.22" stroke="#3f86b0" stroke-width="0.5"/>
<line x1="1020.73" y1="351.16" x2="1023.62" y2="347.87" stroke="#3f86b0" stroke-width="0.5"/>
<line x1="1022.66" y1="351.85" x2="1025.56" y2="348.53" stroke="#3f86b0" stroke-width="0.5"/>
<line x1="1024.58" y1="352.54" x2="1027.50" y2="349.18" stroke="#3f86b0" stroke-width="0.5"/>
<line x1="1026.51" y1="353.23" x2="1029.44" y2="349.84" stroke="#3f86b0" stroke-width="0.5"/>
<line x1="1028.44" y1="353.92" x2="1031.38" y2="350.49" stroke="#3f86b0" stroke-width="0.5"/>
<line x1="1030.36" y1="354.61" x2="1033.31" y2="351.15" stroke="#3f86b0" stroke-width="0.5"/>
<line x1="1032.29" y1="355.30" x2="1035.25" y2="351.80" stroke="#3f86b0" stroke-width="0.5"/>
<line x1="1034.22" y1="355.99" x2="1037.19" y2="352.46" stroke="#3f86b0" stroke-width="0.5"/>
<line x1="1036.14" y1="356.68" x2="1039.13" y2="353.11" stroke="#3f86b0" stroke-width="0.5"/>
<line x1="1038.07" y1="357.37" x2="1041.07" y2="353.77" stroke="#3f86b0" stroke-width="0.5"/>
<line x1="1040.00" y1="358.07" x2="1043.01" y2="354.42" stroke="#3f86b0" stroke-width="0.5"/>
<line x1="1041.92" y1="358.76" x2="1044.95" y2="355.08" stroke="#3f86b0" stroke-width="0.5"/>
<line x1="1043.85" y1="359.45" x2="1046.89" y2="355.73" stroke="#3f86b0" stroke-width="0.5"/>
<line x1="1045.78" y1="360.14" x2="1048.83" y2="356.39" stroke="#3f86b0" stroke-width="0.5"/>
<line x1="1047.70" y1="360.83" x2="1050.77" y2="357.04" stroke="#3f86b0" stroke-width="0.5"/>
<line x1="1049.63" y1="361.52" x2="1052.71" y2="357.70" stroke="#3f86b0" stroke-width="0.5"/>
<line x1="1051.55" y1="362.21" x2="1054.65" y2="358.35" stroke="#3f86b0" stroke-width="0.5"/>
<line x1="1053.48" y1="362.90" x2="1056.59" y2="359.01" stroke="#3f86b0" stroke-width="0.5"/>
<line x1="1055.41" y1="363.59" x2="1058.53" y2="359.66" stroke="#3f86b0" stroke-width="0.5"/>
<line x1="1057.33" y1="364.28" x2="1060.47" y2="360.32" stroke="#3f86b0" stroke-width="0.5"/>
<line x1="1059.26" y1="364.98" x2="1062.41" y2="360.97" stroke="#3f86b0" stroke-width="0.5"/>
<line x1="1061.19" y1="365.67" x2="1064.35" y2="361.63" stroke="#3f86b0" stroke-width="0.5"/>
<line x1="1063.11" y1="366.36" x2="1066.29" y2="362.28" stroke="#3f86b0" stroke-width="0.5"/>
<line x1="1065.04" y1="367.05" x2="1068.22" y2="362.94" stroke="#3f86b0" stroke-width="0.5"/>
<line x1="989.91" y1="343.41" x2="1066.34" y2="372.81" stroke="#2b4a5c" stroke-width="0.6"/>
<line x1="992.09" y1="337.39" x2="1069.66" y2="363.59" stroke="#2b4a5c" stroke-width="0.6"/>
<line x1="991.00" y1="339.90" x2="1068.00" y2="367.40" stroke="#8cc8e8" stroke-width="0.7"/>
<ellipse cx="1068.00" cy="368.20" rx="4.90" ry="4.90" fill="#5ba7d2" stroke="#2b4a5c" stroke-width="0.6"/>
<ellipse cx="1068.00" cy="368.20" rx="3.53" ry="3.53" fill="#1fa8e0" stroke="#2b4a5c" stroke-width="0.5"/>
<ellipse cx="980.50" cy="340.40" rx="3.20" ry="3.20" fill="#5ba7d2" stroke="#2b4a5c" stroke-width="0.6"/>
<polygon points="979.41,343.41 1055.84,372.81 1059.16,363.59 981.59,337.39" fill="#5ba7d2"/>
<line x1="981.34" y1="340.79" x2="984.03" y2="338.05" stroke="#3f86b0" stroke-width="0.5"/>
<line x1="983.26" y1="341.48" x2="985.97" y2="338.70" stroke="#3f86b0" stroke-width="0.5"/>
<line x1="985.19" y1="342.17" x2="987.90" y2="339.36" stroke="#3f86b0" stroke-width="0.5"/>
<line x1="987.11" y1="342.86" x2="989.84" y2="340.01" stroke="#3f86b0" stroke-width="0.5"/>
<line x1="989.04" y1="343.55" x2="991.78" y2="340.67" stroke="#3f86b0" stroke-width="0.5"/>
<line x1="990.97" y1="344.25" x2="993.72" y2="341.32" stroke="#3f86b0" stroke-width="0.5"/>
<line x1="992.89" y1="344.94" x2="995.66" y2="341.98" stroke="#3f86b0" stroke-width="0.5"/>
<line x1="994.82" y1="345.63" x2="997.60" y2="342.63" stroke="#3f86b0" stroke-width="0.5"/>
<line x1="996.75" y1="346.32" x2="999.54" y2="343.29" stroke="#3f86b0" stroke-width="0.5"/>
<line x1="998.67" y1="347.01" x2="1001.48" y2="343.94" stroke="#3f86b0" stroke-width="0.5"/>
<line x1="1000.60" y1="347.70" x2="1003.42" y2="344.60" stroke="#3f86b0" stroke-width="0.5"/>
<line x1="1002.53" y1="348.39" x2="1005.36" y2="345.25" stroke="#3f86b0" stroke-width="0.5"/>
<line x1="1004.45" y1="349.08" x2="1007.30" y2="345.91" stroke="#3f86b0" stroke-width="0.5"/>
<line x1="1006.38" y1="349.77" x2="1009.24" y2="346.56" stroke="#3f86b0" stroke-width="0.5"/>
<line x1="1008.31" y1="350.46" x2="1011.18" y2="347.22" stroke="#3f86b0" stroke-width="0.5"/>
<line x1="1010.23" y1="351.16" x2="1013.12" y2="347.87" stroke="#3f86b0" stroke-width="0.5"/>
<line x1="1012.16" y1="351.85" x2="1015.06" y2="348.53" stroke="#3f86b0" stroke-width="0.5"/>
<line x1="1014.08" y1="352.54" x2="1017.00" y2="349.18" stroke="#3f86b0" stroke-width="0.5"/>
<line x1="1016.01" y1="353.23" x2="1018.94" y2="349.84" stroke="#3f86b0" stroke-width="0.5"/>
<line x1="1017.94" y1="353.92" x2="1020.88" y2="350.49" stroke="#3f86b0" stroke-width="0.5"/>
<line x1="1019.86" y1="354.61" x2="1022.81" y2="351.15" stroke="#3f86b0" stroke-width="0.5"/>
<line x1="1021.79" y1="355.30" x2="1024.75" y2="351.80" stroke="#3f86b0" stroke-width="0.5"/>
<line x1="1023.72" y1="355.99" x2="1026.69" y2="352.46" stroke="#3f86b0" stroke-width="0.5"/>
<line x1="1025.64" y1="356.68" x2="1028.63" y2="353.11" stroke="#3f86b0" stroke-width="0.5"/>
<line x1="1027.57" y1="357.37" x2="1030.57" y2="353.77" stroke="#3f86b0" stroke-width="0.5"/>
<line x1="1029.50" y1="358.07" x2="1032.51" y2="354.42" stroke="#3f86b0" stroke-width="0.5"/>
<line x1="1031.42" y1="358.76" x2="1034.45" y2="355.08" stroke="#3f86b0" stroke-width="0.5"/>
<line x1="1033.35" y1="359.45" x2="1036.39" y2="355.73" stroke="#3f86b0" stroke-width="0.5"/>
<line x1="1035.28" y1="360.14" x2="1038.33" y2="356.39" stroke="#3f86b0" stroke-width="0.5"/>
<line x1="1037.20" y1="360.83" x2="1040.27" y2="357.04" stroke="#3f86b0" stroke-width="0.5"/>
<line x1="1039.13" y1="361.52" x2="1042.21" y2="357.70" stroke="#3f86b0" stroke-width="0.5"/>
<line x1="1041.05" y1="362.21" x2="1044.15" y2="358.35" stroke="#3f86b0" stroke-width="0.5"/>
<line x1="1042.98" y1="362.90" x2="1046.09" y2="359.01" stroke="#3f86b0" stroke-width="0.5"/>
<line x1="1044.91" y1="363.59" x2="1048.03" y2="359.66" stroke="#3f86b0" stroke-width="0.5"/>
<line x1="1046.83" y1="364.28" x2="1049.97" y2="360.32" stroke="#3f86b0" stroke-width="0.5"/>
<line x1="1048.76" y1="364.98" x2="1051.91" y2="360.97" stroke="#3f86b0" stroke-width="0.5"/>
<line x1="1050.69" y1="365.67" x2="1053.85" y2="361.63" stroke="#3f86b0" stroke-width="0.5"/>
<line x1="1052.61" y1="366.36" x2="1055.79" y2="362.28" stroke="#3f86b0" stroke-width="0.5"/>
<line x1="1054.54" y1="367.05" x2="1057.72" y2="362.94" stroke="#3f86b0" stroke-width="0.5"/>
<line x1="979.41" y1="343.41" x2="1055.84" y2="372.81" stroke="#2b4a5c" stroke-width="0.6"/>
<line x1="981.59" y1="337.39" x2="1059.16" y2="363.59" stroke="#2b4a5c" stroke-width="0.6"/>
<line x1="980.50" y1="339.90" x2="1057.50" y2="367.40" stroke="#8cc8e8" stroke-width="0.7"/>
<ellipse cx="1057.50" cy="368.20" rx="4.90" ry="4.90" fill="#5ba7d2" stroke="#2b4a5c" stroke-width="0.6"/>
<ellipse cx="1057.50" cy="368.20" rx="3.53" ry="3.53" fill="#1fa8e0" stroke="#2b4a5c" stroke-width="0.5"/>
<ellipse cx="1012.00" cy="372.50" rx="3.20" ry="3.20" fill="#5ba7d2" stroke="#2b4a5c" stroke-width="0.6"/>
<polygon points="1010.91,375.51 1087.34,404.91 1090.66,395.69 1013.09,369.49" fill="#5ba7d2"/>
<line x1="1012.84" y1="372.89" x2="1015.53" y2="370.15" stroke="#3f86b0" stroke-width="0.5"/>
<line x1="1014.76" y1="373.58" x2="1017.47" y2="370.80" stroke="#3f86b0" stroke-width="0.5"/>
<line x1="1016.69" y1="374.27" x2="1019.40" y2="371.46" stroke="#3f86b0" stroke-width="0.5"/>
<line x1="1018.61" y1="374.96" x2="1021.34" y2="372.11" stroke="#3f86b0" stroke-width="0.5"/>
<line x1="1020.54" y1="375.65" x2="1023.28" y2="372.77" stroke="#3f86b0" stroke-width="0.5"/>
<line x1="1022.47" y1="376.35" x2="1025.22" y2="373.42" stroke="#3f86b0" stroke-width="0.5"/>
<line x1="1024.39" y1="377.04" x2="1027.16" y2="374.08" stroke="#3f86b0" stroke-width="0.5"/>
<line x1="1026.32" y1="377.73" x2="1029.10" y2="374.73" stroke="#3f86b0" stroke-width="0.5"/>
<line x1="1028.25" y1="378.42" x2="1031.04" y2="375.39" stroke="#3f86b0" stroke-width="0.5"/>
<line x1="1030.17" y1="379.11" x2="1032.98" y2="376.04" stroke="#3f86b0" stroke-width="0.5"/>
<line x1="1032.10" y1="379.80" x2="1034.92" y2="376.70" stroke="#3f86b0" stroke-width="0.5"/>
<line x1="1034.03" y1="380.49" x2="1036.86" y2="377.35" stroke="#3f86b0" stroke-width="0.5"/>
<line x1="1035.95" y1="381.18" x2="1038.80" y2="378.01" stroke="#3f86b0" stroke-width="0.5"/>
<line x1="1037.88" y1="381.87" x2="1040.74" y2="378.66" stroke="#3f86b0" stroke-width="0.5"/>
<line x1="1039.81" y1="382.56" x2="1042.68" y2="379.32" stroke="#3f86b0" stroke-width="0.5"/>
<line x1="1041.73" y1="383.26" x2="1044.62" y2="379.97" stroke="#3f86b0" stroke-width="0.5"/>
<line x1="1043.66" y1="383.95" x2="1046.56" y2="380.63" stroke="#3f86b0" stroke-width="0.5"/>
<line x1="1045.58" y1="384.64" x2="1048.50" y2="381.28" stroke="#3f86b0" stroke-width="0.5"/>
<line x1="1047.51" y1="385.33" x2="1050.44" y2="381.94" stroke="#3f86b0" stroke-width="0.5"/>
<line x1="1049.44" y1="386.02" x2="1052.38" y2="382.59" stroke="#3f86b0" stroke-width="0.5"/>
<line x1="1051.36" y1="386.71" x2="1054.31" y2="383.25" stroke="#3f86b0" stroke-width="0.5"/>
<line x1="1053.29" y1="387.40" x2="1056.25" y2="383.90" stroke="#3f86b0" stroke-width="0.5"/>
<line x1="1055.22" y1="388.09" x2="1058.19" y2="384.56" stroke="#3f86b0" stroke-width="0.5"/>
<line x1="1057.14" y1="388.78" x2="1060.13" y2="385.21" stroke="#3f86b0" stroke-width="0.5"/>
<line x1="1059.07" y1="389.47" x2="1062.07" y2="385.87" stroke="#3f86b0" stroke-width="0.5"/>
<line x1="1061.00" y1="390.17" x2="1064.01" y2="386.52" stroke="#3f86b0" stroke-width="0.5"/>
<line x1="1062.92" y1="390.86" x2="1065.95" y2="387.18" stroke="#3f86b0" stroke-width="0.5"/>
<line x1="1064.85" y1="391.55" x2="1067.89" y2="387.83" stroke="#3f86b0" stroke-width="0.5"/>
<line x1="1066.78" y1="392.24" x2="1069.83" y2="388.49" stroke="#3f86b0" stroke-width="0.5"/>
<line x1="1068.70" y1="392.93" x2="1071.77" y2="389.14" stroke="#3f86b0" stroke-width="0.5"/>
<line x1="1070.63" y1="393.62" x2="1073.71" y2="389.80" stroke="#3f86b0" stroke-width="0.5"/>
<line x1="1072.55" y1="394.31" x2="1075.65" y2="390.45" stroke="#3f86b0" stroke-width="0.5"/>
<line x1="1074.48" y1="395.00" x2="1077.59" y2="391.11" stroke="#3f86b0" stroke-width="0.5"/>
<line x1="1076.41" y1="395.69" x2="1079.53" y2="391.76" stroke="#3f86b0" stroke-width="0.5"/>
<line x1="1078.33" y1="396.38" x2="1081.47" y2="392.42" stroke="#3f86b0" stroke-width="0.5"/>
<line x1="1080.26" y1="397.08" x2="1083.41" y2="393.07" stroke="#3f86b0" stroke-width="0.5"/>
<line x1="1082.19" y1="397.77" x2="1085.35" y2="393.73" stroke="#3f86b0" stroke-width="0.5"/>
<line x1="1084.11" y1="398.46" x2="1087.29" y2="394.38" stroke="#3f86b0" stroke-width="0.5"/>
<line x1="1086.04" y1="399.15" x2="1089.22" y2="395.04" stroke="#3f86b0" stroke-width="0.5"/>
<line x1="1010.91" y1="375.51" x2="1087.34" y2="404.91" stroke="#2b4a5c" stroke-width="0.6"/>
<line x1="1013.09" y1="369.49" x2="1090.66" y2="395.69" stroke="#2b4a5c" stroke-width="0.6"/>
<line x1="1012.00" y1="372.00" x2="1089.00" y2="399.50" stroke="#8cc8e8" stroke-width="0.7"/>
<ellipse cx="1089.00" cy="400.30" rx="4.90" ry="4.90" fill="#5ba7d2" stroke="#2b4a5c" stroke-width="0.6"/>
<ellipse cx="1089.00" cy="400.30" rx="3.53" ry="3.53" fill="#1fa8e0" stroke="#2b4a5c" stroke-width="0.5"/>
<ellipse cx="1001.50" cy="372.50" rx="3.20" ry="3.20" fill="#5ba7d2" stroke="#2b4a5c" stroke-width="0.6"/>
<polygon points="1000.41,375.51 1076.84,404.91 1080.16,395.69 1002.59,369.49" fill="#5ba7d2"/>
<line x1="1002.34" y1="372.89" x2="1005.03" y2="370.15" stroke="#3f86b0" stroke-width="0.5"/>
<line x1="1004.26" y1="373.58" x2="1006.97" y2="370.80" stroke="#3f86b0" stroke-width="0.5"/>
<line x1="1006.19" y1="374.27" x2="1008.90" y2="371.46" stroke="#3f86b0" stroke-width="0.5"/>
<line x1="1008.11" y1="374.96" x2="1010.84" y2="372.11" stroke="#3f86b0" stroke-width="0.5"/>
<line x1="1010.04" y1="375.65" x2="1012.78" y2="372.77" stroke="#3f86b0" stroke-width="0.5"/>
<line x1="1011.97" y1="376.35" x2="1014.72" y2="373.42" stroke="#3f86b0" stroke-width="0.5"/>
<line x1="1013.89" y1="377.04" x2="1016.66" y2="374.08" stroke="#3f86b0" stroke-width="0.5"/>
<line x1="1015.82" y1="377.73" x2="1018.60" y2="374.73" stroke="#3f86b0" stroke-width="0.5"/>
<line x1="1017.75" y1="378.42" x2="1020.54" y2="375.39" stroke="#3f86b0" stroke-width="0.5"/>
<line x1="1019.67" y1="379.11" x2="1022.48" y2="376.04" stroke="#3f86b0" stroke-width="0.5"/>
<line x1="1021.60" y1="379.80" x2="1024.42" y2="376.70" stroke="#3f86b0" stroke-width="0.5"/>
<line x1="1023.53" y1="380.49" x2="1026.36" y2="377.35" stroke="#3f86b0" stroke-width="0.5"/>
<line x1="1025.45" y1="381.18" x2="1028.30" y2="378.01" stroke="#3f86b0" stroke-width="0.5"/>
<line x1="1027.38" y1="381.87" x2="1030.24" y2="378.66" stroke="#3f86b0" stroke-width="0.5"/>
<line x1="1029.31" y1="382.56" x2="1032.18" y2="379.32" stroke="#3f86b0" stroke-width="0.5"/>
<line x1="1031.23" y1="383.26" x2="1034.12" y2="379.97" stroke="#3f86b0" stroke-width="0.5"/>
<line x1="1033.16" y1="383.95" x2="1036.06" y2="380.63" stroke="#3f86b0" stroke-width="0.5"/>
<line x1="1035.08" y1="384.64" x2="1038.00" y2="381.28" stroke="#3f86b0" stroke-width="0.5"/>
<line x1="1037.01" y1="385.33" x2="1039.94" y2="381.94" stroke="#3f86b0" stroke-width="0.5"/>
<line x1="1038.94" y1="386.02" x2="1041.88" y2="382.59" stroke="#3f86b0" stroke-width="0.5"/>
<line x1="1040.86" y1="386.71" x2="1043.81" y2="383.25" stroke="#3f86b0" stroke-width="0.5"/>
<line x1="1042.79" y1="387.40" x2="1045.75" y2="383.90" stroke="#3f86b0" stroke-width="0.5"/>
<line x1="1044.72" y1="388.09" x2="1047.69" y2="384.56" stroke="#3f86b0" stroke-width="0.5"/>
<line x1="1046.64" y1="388.78" x2="1049.63" y2="385.21" stroke="#3f86b0" stroke-width="0.5"/>
<line x1="1048.57" y1="389.47" x2="1051.57" y2="385.87" stroke="#3f86b0" stroke-width="0.5"/>
<line x1="1050.50" y1="390.17" x2="1053.51" y2="386.52" stroke="#3f86b0" stroke-width="0.5"/>
<line x1="1052.42" y1="390.86" x2="1055.45" y2="387.18" stroke="#3f86b0" stroke-width="0.5"/>
<line x1="1054.35" y1="391.55" x2="1057.39" y2="387.83" stroke="#3f86b0" stroke-width="0.5"/>
<line x1="1056.28" y1="392.24" x2="1059.33" y2="388.49" stroke="#3f86b0" stroke-width="0.5"/>
<line x1="1058.20" y1="392.93" x2="1061.27" y2="389.14" stroke="#3f86b0" stroke-width="0.5"/>
<line x1="1060.13" y1="393.62" x2="1063.21" y2="389.80" stroke="#3f86b0" stroke-width="0.5"/>
<line x1="1062.05" y1="394.31" x2="1065.15" y2="390.45" stroke="#3f86b0" stroke-width="0.5"/>
<line x1="1063.98" y1="395.00" x2="1067.09" y2="391.11" stroke="#3f86b0" stroke-width="0.5"/>
<line x1="1065.91" y1="395.69" x2="1069.03" y2="391.76" stroke="#3f86b0" stroke-width="0.5"/>
<line x1="1067.83" y1="396.38" x2="1070.97" y2="392.42" stroke="#3f86b0" stroke-width="0.5"/>
<line x1="1069.76" y1="397.08" x2="1072.91" y2="393.07" stroke="#3f86b0" stroke-width="0.5"/>
<line x1="1071.69" y1="397.77" x2="1074.85" y2="393.73" stroke="#3f86b0" stroke-width="0.5"/>
<line x1="1073.61" y1="398.46" x2="1076.79" y2="394.38" stroke="#3f86b0" stroke-width="0.5"/>
<line x1="1075.54" y1="399.15" x2="1078.72" y2="395.04" stroke="#3f86b0" stroke-width="0.5"/>
<line x1="1000.41" y1="375.51" x2="1076.84" y2="404.91" stroke="#2b4a5c" stroke-width="0.6"/>
<line x1="1002.59" y1="369.49" x2="1080.16" y2="395.69" stroke="#2b4a5c" stroke-width="0.6"/>
<line x1="1001.50" y1="372.00" x2="1078.50" y2="399.50" stroke="#8cc8e8" stroke-width="0.7"/>
<ellipse cx="1078.50" cy="400.30" rx="4.90" ry="4.90" fill="#5ba7d2" stroke="#2b4a5c" stroke-width="0.6"/>
<ellipse cx="1078.50" cy="400.30" rx="3.53" ry="3.53" fill="#1fa8e0" stroke="#2b4a5c" stroke-width="0.5"/>
<ellipse cx="991.00" cy="372.50" rx="3.20" ry="3.20" fill="#5ba7d2" stroke="#2b4a5c" stroke-width="0.6"/>
<polygon points="989.91,375.51 1066.34,404.91 1069.66,395.69 992.09,369.49" fill="#5ba7d2"/>
<line x1="991.84" y1="372.89" x2="994.53" y2="370.15" stroke="#3f86b0" stroke-width="0.5"/>
<line x1="993.76" y1="373.58" x2="996.47" y2="370.80" stroke="#3f86b0" stroke-width="0.5"/>
<line x1="995.69" y1="374.27" x2="998.40" y2="371.46" stroke="#3f86b0" stroke-width="0.5"/>
<line x1="997.61" y1="374.96" x2="1000.34" y2="372.11" stroke="#3f86b0" stroke-width="0.5"/>
<line x1="999.54" y1="375.65" x2="1002.28" y2="372.77" stroke="#3f86b0" stroke-width="0.5"/>
<line x1="1001.47" y1="376.35" x2="1004.22" y2="373.42" stroke="#3f86b0" stroke-width="0.5"/>
<line x1="1003.39" y1="377.04" x2="1006.16" y2="374.08" stroke="#3f86b0" stroke-width="0.5"/>
<line x1="1005.32" y1="377.73" x2="1008.10" y2="374.73" stroke="#3f86b0" stroke-width="0.5"/>
<line x1="1007.25" y1="378.42" x2="1010.04" y2="375.39" stroke="#3f86b0" stroke-width="0.5"/>
<line x1="1009.17" y1="379.11" x2="1011.98" y2="376.04" stroke="#3f86b0" stroke-width="0.5"/>
<line x1="1011.10" y1="379.80" x2="1013.92" y2="376.70" stroke="#3f86b0" stroke-width="0.5"/>
<line x1="1013.03" y1="380.49" x2="1015.86" y2="377.35" stroke="#3f86b0" stroke-width="0.5"/>
<line x1="1014.95" y1="381.18" x2="1017.80" y2="378.01" stroke="#3f86b0" stroke-width="0.5"/>
<line x1="1016.88" y1="381.87" x2="1019.74" y2="378.66" stroke="#3f86b0" stroke-width="0.5"/>
<line x1="1018.81" y1="382.56" x2="1021.68" y2="379.32" stroke="#3f86b0" stroke-width="0.5"/>
<line x1="1020.73" y1="383.26" x2="1023.62" y2="379.97" stroke="#3f86b0" stroke-width="0.5"/>
<line x1="1022.66" y1="383.95" x2="1025.56" y2="380.63" stroke="#3f86b0" stroke-width="0.5"/>
<line x1="1024.58" y1="384.64" x2="1027.50" y2="381.28" stroke="#3f86b0" stroke-width="0.5"/>
<line x1="1026.51" y1="385.33" x2="1029.44" y2="381.94" stroke="#3f86b0" stroke-width="0.5"/>
<line x1="1028.44" y1="386.02" x2="1031.38" y2="382.59" stroke="#3f86b0" stroke-width="0.5"/>
<line x1="1030.36" y1="386.71" x2="1033.31" y2="383.25" stroke="#3f86b0" stroke-width="0.5"/>
<line x1="1032.29" y1="387.40" x2="1035.25" y2="383.90" stroke="#3f86b0" stroke-width="0.5"/>
<line x1="1034.22" y1="388.09" x2="1037.19" y2="384.56" stroke="#3f86b0" stroke-width="0.5"/>
<line x1="1036.14" y1="388.78" x2="1039.13" y2="385.21" stroke="#3f86b0" stroke-width="0.5"/>
<line x1="1038.07" y1="389.47" x2="1041.07" y2="385.87" stroke="#3f86b0" stroke-width="0.5"/>
<line x1="1040.00" y1="390.17" x2="1043.01" y2="386.52" stroke="#3f86b0" stroke-width="0.5"/>
<line x1="1041.92" y1="390.86" x2="1044.95" y2="387.18" stroke="#3f86b0" stroke-width="0.5"/>
<line x1="1043.85" y1="391.55" x2="1046.89" y2="387.83" stroke="#3f86b0" stroke-width="0.5"/>
<line x1="1045.78" y1="392.24" x2="1048.83" y2="388.49" stroke="#3f86b0" stroke-width="0.5"/>
<line x1="1047.70" y1="392.93" x2="1050.77" y2="389.14" stroke="#3f86b0" stroke-width="0.5"/>
<line x1="1049.63" y1="393.62" x2="1052.71" y2="389.80" stroke="#3f86b0" stroke-width="0.5"/>
<line x1="1051.55" y1="394.31" x2="1054.65" y2="390.45" stroke="#3f86b0" stroke-width="0.5"/>
<line x1="1053.48" y1="395.00" x2="1056.59" y2="391.11" stroke="#3f86b0" stroke-width="0.5"/>
<line x1="1055.41" y1="395.69" x2="1058.53" y2="391.76" stroke="#3f86b0" stroke-width="0.5"/>
<line x1="1057.33" y1="396.38" x2="1060.47" y2="392.42" stroke="#3f86b0" stroke-width="0.5"/>
<line x1="1059.26" y1="397.08" x2="1062.41" y2="393.07" stroke="#3f86b0" stroke-width="0.5"/>
<line x1="1061.19" y1="397.77" x2="1064.35" y2="393.73" stroke="#3f86b0" stroke-width="0.5"/>
<line x1="1063.11" y1="398.46" x2="1066.29" y2="394.38" stroke="#3f86b0" stroke-width="0.5"/>
<line x1="1065.04" y1="399.15" x2="1068.22" y2="395.04" stroke="#3f86b0" stroke-width="0.5"/>
<line x1="989.91" y1="375.51" x2="1066.34" y2="404.91" stroke="#2b4a5c" stroke-width="0.6"/>
<line x1="992.09" y1="369.49" x2="1069.66" y2="395.69" stroke="#2b4a5c" stroke-width="0.6"/>
<line x1="991.00" y1="372.00" x2="1068.00" y2="399.50" stroke="#8cc8e8" stroke-width="0.7"/>
<ellipse cx="1068.00" cy="400.30" rx="4.90" ry="4.90" fill="#5ba7d2" stroke="#2b4a5c" stroke-width="0.6"/>
<ellipse cx="1068.00" cy="400.30" rx="3.53" ry="3.53" fill="#1fa8e0" stroke="#2b4a5c" stroke-width="0.5"/>
<ellipse cx="980.50" cy="372.50" rx="3.20" ry="3.20" fill="#5ba7d2" stroke="#2b4a5c" stroke-width="0.6"/>
<polygon points="979.41,375.51 1055.84,404.91 1059.16,395.69 981.59,369.49" fill="#5ba7d2"/>
<line x1="981.34" y1="372.89" x2="984.03" y2="370.15" stroke="#3f86b0" stroke-width="0.5"/>
<line x1="983.26" y1="373.58" x2="985.97" y2="370.80" stroke="#3f86b0" stroke-width="0.5"/>
<line x1="985.19" y1="374.27" x2="987.90" y2="371.46" stroke="#3f86b0" stroke-width="0.5"/>
<line x1="987.11" y1="374.96" x2="989.84" y2="372.11" stroke="#3f86b0" stroke-width="0.5"/>
<line x1="989.04" y1="375.65" x2="991.78" y2="372.77" stroke="#3f86b0" stroke-width="0.5"/>
<line x1="990.97" y1="376.35" x2="993.72" y2="373.42" stroke="#3f86b0" stroke-width="0.5"/>
<line x1="992.89" y1="377.04" x2="995.66" y2="374.08" stroke="#3f86b0" stroke-width="0.5"/>
<line x1="994.82" y1="377.73" x2="997.60" y2="374.73" stroke="#3f86b0" stroke-width="0.5"/>
<line x1="996.75" y1="378.42" x2="999.54" y2="375.39" stroke="#3f86b0" stroke-width="0.5"/>
<line x1="998.67" y1="379.11" x2="1001.48" y2="376.04" stroke="#3f86b0" stroke-width="0.5"/>
<line x1="1000.60" y1="379.80" x2="1003.42" y2="376.70" stroke="#3f86b0" stroke-width="0.5"/>
<line x1="1002.53" y1="380.49" x2="1005.36" y2="377.35" stroke="#3f86b0" stroke-width="0.5"/>
<line x1="1004.45" y1="381.18" x2="1007.30" y2="378.01" stroke="#3f86b0" stroke-width="0.5"/>
<line x1="1006.38" y1="381.87" x2="1009.24" y2="378.66" stroke="#3f86b0" stroke-width="0.5"/>
<line x1="1008.31" y1="382.56" x2="1011.18" y2="379.32" stroke="#3f86b0" stroke-width="0.5"/>
<line x1="1010.23" y1="383.26" x2="1013.12" y2="379.97" stroke="#3f86b0" stroke-width="0.5"/>
<line x1="1012.16" y1="383.95" x2="1015.06" y2="380.63" stroke="#3f86b0" stroke-width="0.5"/>
<line x1="1014.08" y1="384.64" x2="1017.00" y2="381.28" stroke="#3f86b0" stroke-width="0.5"/>
<line x1="1016.01" y1="385.33" x2="1018.94" y2="381.94" stroke="#3f86b0" stroke-width="0.5"/>
<line x1="1017.94" y1="386.02" x2="1020.88" y2="382.59" stroke="#3f86b0" stroke-width="0.5"/>
<line x1="1019.86" y1="386.71" x2="1022.81" y2="383.25" stroke="#3f86b0" stroke-width="0.5"/>
<line x1="1021.79" y1="387.40" x2="1024.75" y2="383.90" stroke="#3f86b0" stroke-width="0.5"/>
<line x1="1023.72" y1="388.09" x2="1026.69" y2="384.56" stroke="#3f86b0" stroke-width="0.5"/>
<line x1="1025.64" y1="388.78" x2="1028.63" y2="385.21" stroke="#3f86b0" stroke-width="0.5"/>
<line x1="1027.57" y1="389.47" x2="1030.57" y2="385.87" stroke="#3f86b0" stroke-width="0.5"/>
<line x1="1029.50" y1="390.17" x2="1032.51" y2="386.52" stroke="#3f86b0" stroke-width="0.5"/>
<line x1="1031.42" y1="390.86" x2="1034.45" y2="387.18" stroke="#3f86b0" stroke-width="0.5"/>
<line x1="1033.35" y1="391.55" x2="1036.39" y2="387.83" stroke="#3f86b0" stroke-width="0.5"/>
<line x1="1035.28" y1="392.24" x2="1038.33" y2="388.49" stroke="#3f86b0" stroke-width="0.5"/>
<line x1="1037.20" y1="392.93" x2="1040.27" y2="389.14" stroke="#3f86b0" stroke-width="0.5"/>
<line x1="1039.13" y1="393.62" x2="1042.21" y2="389.80" stroke="#3f86b0" stroke-width="0.5"/>
<line x1="1041.05" y1="394.31" x2="1044.15" y2="390.45" stroke="#3f86b0" stroke-width="0.5"/>
<line x1="1042.98" y1="395.00" x2="1046.09" y2="391.11" stroke="#3f86b0" stroke-width="0.5"/>
<line x1="1044.91" y1="395.69" x2="1048.03" y2="391.76" stroke="#3f86b0" stroke-width="0.5"/>
<line x1="1046.83" y1="396.38" x2="1049.97" y2="392.42" stroke="#3f86b0" stroke-width="0.5"/>
<line x1="1048.76" y1="397.08" x2="1051.91" y2="393.07" stroke="#3f86b0" stroke-width="0.5"/>
<line x1="1050.69" y1="397.77" x2="1053.85" y2="393.73" stroke="#3f86b0" stroke-width="0.5"/>
<line x1="1052.61" y1="398.46" x2="1055.79" y2="394.38" stroke="#3f86b0" stroke-width="0.5"/>
<line x1="1054.54" y1="399.15" x2="1057.72" y2="395.04" stroke="#3f86b0" stroke-width="0.5"/>
<line x1="979.41" y1="375.51" x2="1055.84" y2="404.91" stroke="#2b4a5c" stroke-width="0.6"/>
<line x1="981.59" y1="369.49" x2="1059.16" y2="395.69" stroke="#2b4a5c" stroke-width="0.6"/>
<line x1="980.50" y1="372.00" x2="1057.50" y2="399.50" stroke="#8cc8e8" stroke-width="0.7"/>
<ellipse cx="1057.50" cy="400.30" rx="4.90" ry="4.90" fill="#5ba7d2" stroke="#2b4a5c" stroke-width="0.6"/>
<ellipse cx="1057.50" cy="400.30" rx="3.53" ry="3.53" fill="#1fa8e0" stroke="#2b4a5c" stroke-width="0.5"/>
</svg>
</body></html>
